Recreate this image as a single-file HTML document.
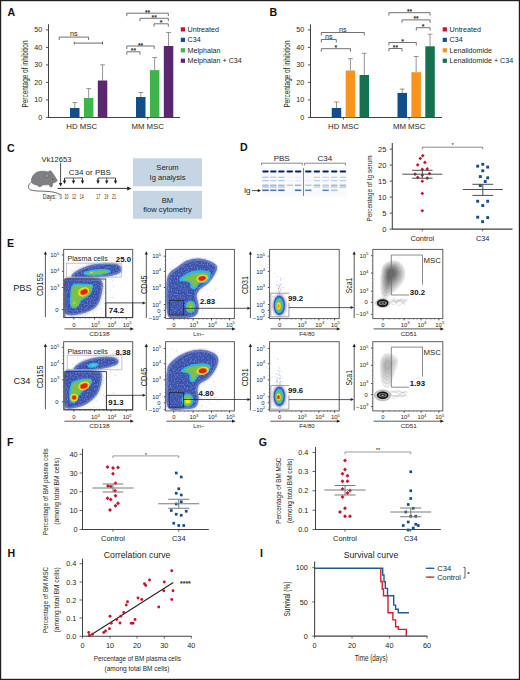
<!DOCTYPE html>
<html><head><meta charset="utf-8"><title>Figure</title>
<style>html,body{margin:0;padding:0;background:#fff;}body{width:520px;height:680px;overflow:hidden;font-family:"Liberation Sans", sans-serif;}svg{display:block;}</style>
</head><body><svg width="520" height="680" viewBox="0 0 520 680" font-family='"Liberation Sans", sans-serif'><defs><filter id="bl3" x="-20%" y="-20%" width="140%" height="140%"><feGaussianBlur stdDeviation="0.3"/></filter><filter id="bl4" x="-20%" y="-20%" width="140%" height="140%"><feGaussianBlur stdDeviation="0.4"/></filter><filter id="bl6" x="-20%" y="-20%" width="140%" height="140%"><feGaussianBlur stdDeviation="0.6"/></filter><filter id="bl9" x="-20%" y="-20%" width="140%" height="140%"><feGaussianBlur stdDeviation="0.9"/></filter><filter id="texb" x="-5%" y="-5%" width="110%" height="110%" color-interpolation-filters="sRGB"><feGaussianBlur in="SourceGraphic" stdDeviation="0.45" result="b"/><feTurbulence type="fractalNoise" baseFrequency="0.7" numOctaves="1" seed="5" result="n"/><feColorMatrix in="n" type="matrix" values="0 0 0 0 0.55  0 0 0 0 0.61  0 0 0 0 0.86  0 0 0 -2.2 1.2" result="w"/><feComposite in="w" in2="b" operator="in" result="wm"/><feMerge><feMergeNode in="b"/><feMergeNode in="wm"/></feMerge></filter><filter id="gb" x="-10%" y="-50%" width="120%" height="200%"><feGaussianBlur stdDeviation="0.4"/></filter><clipPath id="c1"><rect x="64.20" y="250.00" width="67.90" height="67.40"/></clipPath><clipPath id="c2"><rect x="64.20" y="250.00" width="67.90" height="67.40"/></clipPath><clipPath id="c3"><rect x="64.20" y="250.00" width="67.90" height="67.40"/></clipPath><clipPath id="c4"><rect x="64.20" y="342.30" width="67.90" height="67.40"/></clipPath><clipPath id="c5"><rect x="64.20" y="342.30" width="67.90" height="67.40"/></clipPath><clipPath id="c6"><rect x="64.20" y="342.30" width="67.90" height="67.40"/></clipPath><clipPath id="c7"><rect x="166.00" y="250.00" width="67.80" height="68.00"/></clipPath><clipPath id="c8"><rect x="166.00" y="250.00" width="67.80" height="68.00"/></clipPath><clipPath id="c9"><rect x="166.00" y="250.00" width="67.80" height="68.00"/></clipPath><clipPath id="c10"><rect x="166.00" y="342.30" width="67.80" height="68.00"/></clipPath><clipPath id="c11"><rect x="166.00" y="342.30" width="67.80" height="68.00"/></clipPath><clipPath id="c12"><rect x="166.00" y="342.30" width="67.80" height="68.00"/></clipPath><clipPath id="c13"><rect x="270.20" y="250.00" width="68.40" height="68.00"/></clipPath><clipPath id="c14"><rect x="270.20" y="250.00" width="68.40" height="68.00"/></clipPath><clipPath id="c15"><rect x="270.20" y="342.30" width="68.40" height="68.00"/></clipPath><clipPath id="c16"><rect x="270.20" y="342.30" width="68.40" height="68.00"/></clipPath></defs><rect x="0" y="0" width="520" height="680" fill="#fff"/><text x="7.50" y="15.89" font-size="10.6" text-anchor="start" font-weight="bold" fill="#111" >A</text><line x1="48.50" y1="24.30" x2="48.50" y2="117.90" stroke="#414143" stroke-width="1.05" /><line x1="45.90" y1="117.40" x2="48.50" y2="117.40" stroke="#414143" stroke-width="0.9" /><text x="42.20" y="119.98" font-size="7.2" text-anchor="end" fill="#231f20" >0</text><line x1="45.90" y1="99.90" x2="48.50" y2="99.90" stroke="#414143" stroke-width="0.9" /><text x="42.20" y="102.48" font-size="7.2" text-anchor="end" fill="#231f20" >10</text><line x1="45.90" y1="82.40" x2="48.50" y2="82.40" stroke="#414143" stroke-width="0.9" /><text x="42.20" y="84.98" font-size="7.2" text-anchor="end" fill="#231f20" >20</text><line x1="45.90" y1="64.90" x2="48.50" y2="64.90" stroke="#414143" stroke-width="0.9" /><text x="42.20" y="67.48" font-size="7.2" text-anchor="end" fill="#231f20" >30</text><line x1="45.90" y1="47.40" x2="48.50" y2="47.40" stroke="#414143" stroke-width="0.9" /><text x="42.20" y="49.98" font-size="7.2" text-anchor="end" fill="#231f20" >40</text><line x1="45.90" y1="29.90" x2="48.50" y2="29.90" stroke="#414143" stroke-width="0.9" /><text x="42.20" y="32.48" font-size="7.2" text-anchor="end" fill="#231f20" >50</text><text x="28.14" y="74.00" font-size="8.2" text-anchor="middle" fill="#231f20" textLength="67" lengthAdjust="spacingAndGlyphs" transform="rotate(-90 28.14 74.00)" >Percentage of inhibition</text><line x1="48.50" y1="117.40" x2="180.00" y2="117.40" stroke="#414143" stroke-width="1.05" /><line x1="81.70" y1="117.40" x2="81.70" y2="119.70" stroke="#414143" stroke-width="0.8" /><text x="81.70" y="128.79" font-size="7.8" text-anchor="middle" fill="#231f20" >HD MSC</text><line x1="74.75" y1="102.60" x2="74.75" y2="108.00" stroke="#7a7a7a" stroke-width="0.8" /><line x1="72.35" y1="102.60" x2="77.15" y2="102.60" stroke="#7a7a7a" stroke-width="0.8" /><rect x="70.00" y="108.00" width="9.50" height="9.40" fill="#124f8a" /><line x1="88.65" y1="88.60" x2="88.65" y2="98.00" stroke="#7a7a7a" stroke-width="0.8" /><line x1="86.25" y1="88.60" x2="91.05" y2="88.60" stroke="#7a7a7a" stroke-width="0.8" /><rect x="83.90" y="98.00" width="9.50" height="19.40" fill="#3db54a" /><line x1="102.55" y1="64.80" x2="102.55" y2="80.50" stroke="#7a7a7a" stroke-width="0.8" /><line x1="100.15" y1="64.80" x2="104.95" y2="64.80" stroke="#7a7a7a" stroke-width="0.8" /><rect x="97.80" y="80.50" width="9.50" height="36.90" fill="#5c2670" /><line x1="147.70" y1="117.40" x2="147.70" y2="119.70" stroke="#414143" stroke-width="0.8" /><text x="147.70" y="128.79" font-size="7.8" text-anchor="middle" fill="#231f20" >MM MSC</text><line x1="140.75" y1="92.50" x2="140.75" y2="97.00" stroke="#7a7a7a" stroke-width="0.8" /><line x1="138.35" y1="92.50" x2="143.15" y2="92.50" stroke="#7a7a7a" stroke-width="0.8" /><rect x="136.00" y="97.00" width="9.50" height="20.40" fill="#124f8a" /><line x1="154.65" y1="57.50" x2="154.65" y2="70.10" stroke="#7a7a7a" stroke-width="0.8" /><line x1="152.25" y1="57.50" x2="157.05" y2="57.50" stroke="#7a7a7a" stroke-width="0.8" /><rect x="149.90" y="70.10" width="9.50" height="47.30" fill="#3db54a" /><line x1="168.55" y1="32.50" x2="168.55" y2="46.00" stroke="#7a7a7a" stroke-width="0.8" /><line x1="166.15" y1="32.50" x2="170.95" y2="32.50" stroke="#7a7a7a" stroke-width="0.8" /><rect x="163.80" y="46.00" width="9.50" height="71.40" fill="#5c2670" /><path d="M59.20,40.00 L59.20,37.10 L88.60,37.10 L88.60,40.00" stroke="#58585a" stroke-width="0.85" fill="none" /><text x="73.90" y="36.28" font-size="7.2" text-anchor="middle" fill="#231f20" >ns</text><line x1="74.30" y1="43.10" x2="102.50" y2="43.10" stroke="#58595b" stroke-width="0.9" /><line x1="74.30" y1="41.70" x2="74.30" y2="44.50" stroke="#58595b" stroke-width="0.9" /><line x1="102.50" y1="41.70" x2="102.50" y2="44.50" stroke="#58595b" stroke-width="0.9" /><path d="M126.80,16.10 L126.80,13.20 L168.30,13.20 L168.30,16.10" stroke="#58585a" stroke-width="0.85" fill="none" /><text x="147.55" y="14.71" font-size="7.0" text-anchor="middle" font-weight="bold" fill="#231f20" textLength="5.2" lengthAdjust="spacingAndGlyphs" >**</text><path d="M140.00,21.20 L140.00,18.30 L168.30,18.30 L168.30,21.20" stroke="#58585a" stroke-width="0.85" fill="none" /><text x="154.15" y="19.81" font-size="7.0" text-anchor="middle" font-weight="bold" fill="#231f20" textLength="5.2" lengthAdjust="spacingAndGlyphs" >**</text><path d="M154.00,26.70 L154.00,23.80 L168.30,23.80 L168.30,26.70" stroke="#58585a" stroke-width="0.85" fill="none" /><text x="161.15" y="25.31" font-size="7.0" text-anchor="middle" font-weight="bold" fill="#231f20" >*</text><path d="M126.80,48.90 L126.80,46.00 L154.20,46.00 L154.20,48.90" stroke="#58585a" stroke-width="0.85" fill="none" /><text x="140.50" y="47.51" font-size="7.0" text-anchor="middle" font-weight="bold" fill="#231f20" textLength="5.2" lengthAdjust="spacingAndGlyphs" >**</text><path d="M126.80,54.70 L126.80,51.80 L140.00,51.80 L140.00,54.70" stroke="#58585a" stroke-width="0.85" fill="none" /><text x="133.40" y="53.31" font-size="7.0" text-anchor="middle" font-weight="bold" fill="#231f20" textLength="5.2" lengthAdjust="spacingAndGlyphs" >**</text><rect x="180.80" y="27.30" width="4.20" height="4.20" fill="#c8132e" /><text x="187.60" y="31.96" font-size="7.15" text-anchor="start" fill="#231f20" >Untreated</text><rect x="180.80" y="37.75" width="4.20" height="4.20" fill="#124f8a" /><text x="187.60" y="42.41" font-size="7.15" text-anchor="start" fill="#231f20" >C34</text><rect x="180.80" y="48.20" width="4.20" height="4.20" fill="#3db54a" /><text x="187.60" y="52.86" font-size="7.15" text-anchor="start" fill="#231f20" >Melphalan</text><rect x="180.80" y="58.65" width="4.20" height="4.20" fill="#5c2670" /><text x="187.60" y="63.31" font-size="7.15" text-anchor="start" fill="#231f20" >Melphalan + C34</text><text x="269.50" y="15.89" font-size="10.6" text-anchor="start" font-weight="bold" fill="#111" >B</text><line x1="310.50" y1="24.30" x2="310.50" y2="117.90" stroke="#414143" stroke-width="1.05" /><line x1="307.90" y1="117.40" x2="310.50" y2="117.40" stroke="#414143" stroke-width="0.9" /><text x="304.20" y="119.98" font-size="7.2" text-anchor="end" fill="#231f20" >0</text><line x1="307.90" y1="99.90" x2="310.50" y2="99.90" stroke="#414143" stroke-width="0.9" /><text x="304.20" y="102.48" font-size="7.2" text-anchor="end" fill="#231f20" >10</text><line x1="307.90" y1="82.40" x2="310.50" y2="82.40" stroke="#414143" stroke-width="0.9" /><text x="304.20" y="84.98" font-size="7.2" text-anchor="end" fill="#231f20" >20</text><line x1="307.90" y1="64.90" x2="310.50" y2="64.90" stroke="#414143" stroke-width="0.9" /><text x="304.20" y="67.48" font-size="7.2" text-anchor="end" fill="#231f20" >30</text><line x1="307.90" y1="47.40" x2="310.50" y2="47.40" stroke="#414143" stroke-width="0.9" /><text x="304.20" y="49.98" font-size="7.2" text-anchor="end" fill="#231f20" >40</text><line x1="307.90" y1="29.90" x2="310.50" y2="29.90" stroke="#414143" stroke-width="0.9" /><text x="304.20" y="32.48" font-size="7.2" text-anchor="end" fill="#231f20" >50</text><text x="290.14" y="74.00" font-size="8.2" text-anchor="middle" fill="#231f20" textLength="67" lengthAdjust="spacingAndGlyphs" transform="rotate(-90 290.14 74.00)" >Percentage of inhibition</text><line x1="310.50" y1="117.40" x2="442.00" y2="117.40" stroke="#414143" stroke-width="1.05" /><line x1="343.45" y1="117.40" x2="343.45" y2="119.70" stroke="#414143" stroke-width="0.8" /><text x="343.45" y="128.79" font-size="7.8" text-anchor="middle" fill="#231f20" >HD MSC</text><line x1="336.50" y1="102.00" x2="336.50" y2="108.00" stroke="#7a7a7a" stroke-width="0.8" /><line x1="334.10" y1="102.00" x2="338.90" y2="102.00" stroke="#7a7a7a" stroke-width="0.8" /><rect x="331.75" y="108.00" width="9.50" height="9.40" fill="#124f8a" /><line x1="350.40" y1="58.70" x2="350.40" y2="70.50" stroke="#7a7a7a" stroke-width="0.8" /><line x1="348.00" y1="58.70" x2="352.80" y2="58.70" stroke="#7a7a7a" stroke-width="0.8" /><rect x="345.65" y="70.50" width="9.50" height="46.90" fill="#f7941d" /><line x1="364.30" y1="53.30" x2="364.30" y2="75.00" stroke="#7a7a7a" stroke-width="0.8" /><line x1="361.90" y1="53.30" x2="366.70" y2="53.30" stroke="#7a7a7a" stroke-width="0.8" /><rect x="359.55" y="75.00" width="9.50" height="42.40" fill="#17714f" /><line x1="409.20" y1="117.40" x2="409.20" y2="119.70" stroke="#414143" stroke-width="0.8" /><text x="409.20" y="128.79" font-size="7.8" text-anchor="middle" fill="#231f20" >MM MSC</text><line x1="402.25" y1="89.10" x2="402.25" y2="92.90" stroke="#7a7a7a" stroke-width="0.8" /><line x1="399.85" y1="89.10" x2="404.65" y2="89.10" stroke="#7a7a7a" stroke-width="0.8" /><rect x="397.50" y="92.90" width="9.50" height="24.50" fill="#124f8a" /><line x1="416.15" y1="56.50" x2="416.15" y2="72.20" stroke="#7a7a7a" stroke-width="0.8" /><line x1="413.75" y1="56.50" x2="418.55" y2="56.50" stroke="#7a7a7a" stroke-width="0.8" /><rect x="411.40" y="72.20" width="9.50" height="45.20" fill="#f7941d" /><line x1="430.05" y1="34.20" x2="430.05" y2="46.30" stroke="#7a7a7a" stroke-width="0.8" /><line x1="427.65" y1="34.20" x2="432.45" y2="34.20" stroke="#7a7a7a" stroke-width="0.8" /><rect x="425.30" y="46.30" width="9.50" height="71.10" fill="#17714f" /><path d="M321.30,35.40 L321.30,32.50 L364.30,32.50 L364.30,35.40" stroke="#58585a" stroke-width="0.85" fill="none" /><text x="342.80" y="31.68" font-size="7.2" text-anchor="middle" fill="#231f20" >ns</text><path d="M321.30,42.40 L321.30,39.50 L336.30,39.50 L336.30,42.40" stroke="#58585a" stroke-width="0.85" fill="none" /><text x="328.80" y="38.68" font-size="7.2" text-anchor="middle" fill="#231f20" >ns</text><path d="M321.30,51.60 L321.30,48.70 L350.50,48.70 L350.50,51.60" stroke="#58585a" stroke-width="0.85" fill="none" /><text x="335.90" y="50.21" font-size="7.0" text-anchor="middle" font-weight="bold" fill="#231f20" >*</text><path d="M388.90,15.60 L388.90,12.70 L430.10,12.70 L430.10,15.60" stroke="#58585a" stroke-width="0.85" fill="none" /><text x="409.50" y="14.21" font-size="7.0" text-anchor="middle" font-weight="bold" fill="#231f20" textLength="5.2" lengthAdjust="spacingAndGlyphs" >**</text><path d="M402.00,22.80 L402.00,19.90 L430.10,19.90 L430.10,22.80" stroke="#58585a" stroke-width="0.85" fill="none" /><text x="416.05" y="21.41" font-size="7.0" text-anchor="middle" font-weight="bold" fill="#231f20" textLength="5.2" lengthAdjust="spacingAndGlyphs" >**</text><path d="M416.30,30.60 L416.30,27.70 L430.10,27.70 L430.10,30.60" stroke="#58585a" stroke-width="0.85" fill="none" /><text x="423.20" y="29.21" font-size="7.0" text-anchor="middle" font-weight="bold" fill="#231f20" >*</text><path d="M388.90,45.40 L388.90,42.50 L416.30,42.50 L416.30,45.40" stroke="#58585a" stroke-width="0.85" fill="none" /><text x="402.60" y="44.01" font-size="7.0" text-anchor="middle" font-weight="bold" fill="#231f20" >*</text><path d="M388.90,51.40 L388.90,48.50 L402.00,48.50 L402.00,51.40" stroke="#58585a" stroke-width="0.85" fill="none" /><text x="395.45" y="50.01" font-size="7.0" text-anchor="middle" font-weight="bold" fill="#231f20" textLength="5.2" lengthAdjust="spacingAndGlyphs" >**</text><rect x="442.70" y="27.30" width="4.20" height="4.20" fill="#c8132e" /><text x="449.50" y="31.96" font-size="7.15" text-anchor="start" fill="#231f20" >Untreated</text><rect x="442.70" y="37.75" width="4.20" height="4.20" fill="#124f8a" /><text x="449.50" y="42.41" font-size="7.15" text-anchor="start" fill="#231f20" >C34</text><rect x="442.70" y="48.20" width="4.20" height="4.20" fill="#f7941d" /><text x="449.50" y="52.86" font-size="7.15" text-anchor="start" fill="#231f20" >Lenalidomide</text><rect x="442.70" y="58.65" width="4.20" height="4.20" fill="#17714f" /><text x="449.50" y="63.31" font-size="7.15" text-anchor="start" fill="#231f20" >Lenalidomide + C34</text><text x="7.00" y="151.69" font-size="10.6" text-anchor="start" font-weight="bold" fill="#111" >C</text><text x="41.40" y="161.82" font-size="7.6" text-anchor="start" fill="#231f20" >Vk12653</text><g><path d="M31.4,182.4 C28.2,183.8 27.6,187.6 29.6,189.3 C32.6,191.2 39.5,191.0 46,191.3 C52,191.6 56.5,192.4 60.2,194.6" stroke="#4d4d4f" stroke-width="0.85" fill="none"/><path d="M31.7,182.6 C30.4,178 34,172.4 39.4,171.5 C43,170.8 46,171.2 48.4,172.0 C48.8,170.9 50.4,170.4 51.4,171.4 C53.2,173.6 55.6,177.4 57.2,180.4 C56.6,181.5 55.6,182.2 54.6,182.6 L53.2,182.5 C52.6,183.6 52.6,186.2 51.4,187.2 C50.2,187.4 49.6,185.8 49.0,184.6 C46.5,184.9 44.5,185.0 42.6,185.0 C41.8,186.0 40.6,186.9 39.0,186.6 C38.2,186.2 37.8,185.6 37.6,185.2 C35.2,184.9 32.6,184.2 31.7,182.6 Z" fill="#7f8083" stroke="#4a4a4c" stroke-width="0.45"/><circle cx="47.0" cy="175.7" r="1.9" fill="#97989b" stroke="#4a4a4c" stroke-width="0.4"/><circle cx="52.8" cy="179.0" r="0.55" fill="#222"/></g><line x1="60.60" y1="162.80" x2="60.60" y2="184.00" stroke="#231f20" stroke-width="0.8" /><path d="M58.8,182.9 L62.4,182.9 L60.6,186.6 Z" stroke="none" stroke-width="0" fill="#231f20" /><line x1="57.50" y1="188.40" x2="128.50" y2="188.40" stroke="#231f20" stroke-width="0.9" /><path d="M127.2,186.4 L131.4,188.4 L127.2,190.4 Z" stroke="none" stroke-width="0" fill="#231f20" /><text x="68.80" y="175.36" font-size="8.0" text-anchor="start" fill="#231f20" textLength="42" lengthAdjust="spacingAndGlyphs" >C34 or PBS</text><path d="M64.5,181 L64.5,178 L82.5,178 L82.5,181" stroke="#231f20" stroke-width="0.7" fill="none" /><line x1="64.50" y1="178.00" x2="64.50" y2="181.50" stroke="#231f20" stroke-width="0.7" /><path d="M62.8,180.6 L66.2,180.6 L64.5,184.0 Z" stroke="none" stroke-width="0" fill="#231f20" /><line x1="73.50" y1="178.00" x2="73.50" y2="181.50" stroke="#231f20" stroke-width="0.7" /><path d="M71.8,180.6 L75.2,180.6 L73.5,184.0 Z" stroke="none" stroke-width="0" fill="#231f20" /><line x1="82.50" y1="178.00" x2="82.50" y2="181.50" stroke="#231f20" stroke-width="0.7" /><path d="M80.8,180.6 L84.2,180.6 L82.5,184.0 Z" stroke="none" stroke-width="0" fill="#231f20" /><path d="M98,181 L98,178 L115.5,178 L115.5,181" stroke="#231f20" stroke-width="0.7" fill="none" /><line x1="98.00" y1="178.00" x2="98.00" y2="181.50" stroke="#231f20" stroke-width="0.7" /><path d="M96.3,180.6 L99.7,180.6 L98,184.0 Z" stroke="none" stroke-width="0" fill="#231f20" /><line x1="106.75" y1="178.00" x2="106.75" y2="181.50" stroke="#231f20" stroke-width="0.7" /><path d="M105.05,180.6 L108.45,180.6 L106.75,184.0 Z" stroke="none" stroke-width="0" fill="#231f20" /><line x1="115.50" y1="178.00" x2="115.50" y2="181.50" stroke="#231f20" stroke-width="0.7" /><path d="M113.8,180.6 L117.2,180.6 L115.5,184.0 Z" stroke="none" stroke-width="0" fill="#231f20" /><text x="42.80" y="199.21" font-size="7.0" text-anchor="start" fill="#231f20" textLength="13.6" lengthAdjust="spacingAndGlyphs" >Days:</text><text x="60.70" y="199.21" font-size="7.0" text-anchor="middle" fill="#231f20" textLength="2.4" lengthAdjust="spacingAndGlyphs" >0</text><text x="66.50" y="199.21" font-size="7.0" text-anchor="middle" fill="#231f20" textLength="4.0" lengthAdjust="spacingAndGlyphs" >10</text><text x="74.10" y="199.21" font-size="7.0" text-anchor="middle" fill="#231f20" textLength="4.0" lengthAdjust="spacingAndGlyphs" >12</text><text x="81.70" y="199.21" font-size="7.0" text-anchor="middle" fill="#231f20" textLength="4.0" lengthAdjust="spacingAndGlyphs" >14</text><text x="98.30" y="199.21" font-size="7.0" text-anchor="middle" fill="#231f20" textLength="4.0" lengthAdjust="spacingAndGlyphs" >17</text><text x="106.30" y="199.21" font-size="7.0" text-anchor="middle" fill="#231f20" textLength="4.0" lengthAdjust="spacingAndGlyphs" >19</text><text x="114.10" y="199.21" font-size="7.0" text-anchor="middle" fill="#231f20" textLength="4.0" lengthAdjust="spacingAndGlyphs" >21</text><rect x="133.00" y="158.30" width="69.00" height="28.00" fill="#c5d5e4" /><rect x="133.00" y="190.80" width="69.00" height="28.00" fill="#c5d5e4" /><text x="167.50" y="170.32" font-size="7.6" text-anchor="middle" fill="#231f20" >Serum</text><text x="167.50" y="179.92" font-size="7.6" text-anchor="middle" fill="#231f20" >Ig analysis</text><text x="167.50" y="202.92" font-size="7.6" text-anchor="middle" fill="#231f20" >BM</text><text x="167.50" y="212.32" font-size="7.6" text-anchor="middle" fill="#231f20" >flow cytometry</text><text x="240.00" y="151.39" font-size="10.6" text-anchor="start" font-weight="bold" fill="#111" >D</text><text x="281.70" y="160.66" font-size="8.0" text-anchor="middle" fill="#231f20" >PBS</text><text x="324.90" y="160.66" font-size="8.0" text-anchor="middle" fill="#231f20" >C34</text><path d="M261.5,165.3 L261.5,163.2 L302.3,163.2 L302.3,165.3" stroke="#58595b" stroke-width="0.7" fill="none" /><path d="M304.5,165.3 L304.5,163.2 L345.5,163.2 L345.5,165.3" stroke="#58595b" stroke-width="0.7" fill="none" /><rect x="261.00" y="167.50" width="86.00" height="29.00" fill="#f9fafc" /><g filter="url(#gb)"><rect x="262.30" y="170.4" width="6.4" height="2.0" rx="0.8" fill="#0c2461"/><rect x="262.30" y="176.70" width="6.4" height="1.2" fill="#b0c4e0"/><rect x="262.30" y="180.00" width="6.4" height="1.2" fill="#b0c4e0"/><rect x="262.30" y="184.60" width="6.4" height="1.3" fill="#9ab2d6"/><rect x="262.30" y="186.40" width="6.4" height="1.2" fill="#a5bbdb"/><rect x="262.30" y="189.50" width="6.4" height="1.6" fill="#406eb2"/><rect x="270.10" y="170.4" width="6.4" height="2.0" rx="0.8" fill="#0c2461"/><rect x="270.10" y="176.70" width="6.4" height="1.2" fill="#bccce4"/><rect x="270.10" y="180.00" width="6.4" height="1.2" fill="#bccce4"/><rect x="270.10" y="184.60" width="6.4" height="1.3" fill="#9ab2d6"/><rect x="270.10" y="186.40" width="6.4" height="1.2" fill="#a5bbdb"/><rect x="270.10" y="189.50" width="6.4" height="1.6" fill="#5680bc"/><rect x="278.20" y="170.4" width="6.4" height="2.0" rx="0.8" fill="#0c2461"/><rect x="278.20" y="176.70" width="6.4" height="1.2" fill="#b0c4e0"/><rect x="278.20" y="180.00" width="6.4" height="1.2" fill="#b0c4e0"/><rect x="278.20" y="184.60" width="6.4" height="1.3" fill="#9ab2d6"/><rect x="278.20" y="186.40" width="6.4" height="1.2" fill="#a5bbdb"/><rect x="278.20" y="189.50" width="6.4" height="1.6" fill="#406eb2"/><rect x="286.60" y="170.4" width="6.4" height="2.0" rx="0.8" fill="#0c2461"/><rect x="286.60" y="176.70" width="6.4" height="1.2" fill="#edf1f8"/><rect x="286.60" y="180.00" width="6.4" height="1.2" fill="#edf1f8"/><rect x="286.60" y="184.60" width="6.4" height="1.3" fill="#b0c4e0"/><rect x="294.90" y="170.4" width="6.4" height="2.0" rx="0.8" fill="#0c2461"/><rect x="294.90" y="176.70" width="6.4" height="1.2" fill="#e4ebf4"/><rect x="294.90" y="180.00" width="6.4" height="1.2" fill="#e4ebf4"/><rect x="294.90" y="184.60" width="6.4" height="1.3" fill="#8eaad2"/><rect x="294.90" y="189.50" width="6.4" height="1.6" fill="#406eb2"/><rect x="305.10" y="170.4" width="6.4" height="2.0" rx="0.8" fill="#0c2461"/><rect x="305.10" y="176.70" width="6.4" height="1.2" fill="#f2f5fa"/><rect x="305.10" y="180.00" width="6.4" height="1.2" fill="#e8eef6"/><rect x="305.10" y="184.60" width="6.4" height="1.3" fill="#b0c4e0"/><rect x="305.10" y="189.50" width="6.4" height="1.6" fill="#6288c0"/><rect x="313.70" y="170.4" width="6.4" height="2.0" rx="0.8" fill="#0c2461"/><rect x="313.70" y="176.70" width="6.4" height="1.2" fill="#bccce4"/><rect x="313.70" y="180.00" width="6.4" height="1.2" fill="#bccce4"/><rect x="313.70" y="184.60" width="6.4" height="1.3" fill="#9ab2d6"/><rect x="313.70" y="186.40" width="6.4" height="1.2" fill="#bccce4"/><rect x="322.40" y="170.4" width="6.4" height="2.0" rx="0.8" fill="#0c2461"/><rect x="322.40" y="176.70" width="6.4" height="1.2" fill="#c7d4e8"/><rect x="322.40" y="180.00" width="6.4" height="1.2" fill="#c7d4e8"/><rect x="322.40" y="184.60" width="6.4" height="1.3" fill="#b0c4e0"/><rect x="322.40" y="186.40" width="6.4" height="1.2" fill="#bccce4"/><rect x="322.40" y="189.50" width="6.4" height="1.6" fill="#6288c0"/><rect x="331.00" y="170.4" width="6.4" height="2.0" rx="0.8" fill="#0c2461"/><rect x="331.00" y="176.70" width="6.4" height="1.2" fill="#bccce4"/><rect x="331.00" y="180.00" width="6.4" height="1.2" fill="#bccce4"/><rect x="331.00" y="184.60" width="6.4" height="1.3" fill="#9ab2d6"/><rect x="331.00" y="186.40" width="6.4" height="1.2" fill="#b0c4e0"/><rect x="331.00" y="189.50" width="6.4" height="1.6" fill="#b0c4e0"/><rect x="339.70" y="170.4" width="6.4" height="2.0" rx="0.8" fill="#0c2461"/><rect x="339.70" y="176.70" width="6.4" height="1.2" fill="#bccce4"/><rect x="339.70" y="180.00" width="6.4" height="1.2" fill="#bccce4"/><rect x="339.70" y="184.60" width="6.4" height="1.3" fill="#9ab2d6"/><rect x="339.70" y="186.40" width="6.4" height="1.2" fill="#a5bbdb"/></g><line x1="303.50" y1="168.00" x2="303.50" y2="196.00" stroke="#555" stroke-width="0.7" /><text x="243.90" y="193.06" font-size="8.0" text-anchor="start" fill="#231f20" >Ig</text><line x1="252.00" y1="190.60" x2="258.50" y2="190.60" stroke="#231f20" stroke-width="0.8" /><path d="M257.8,189.0 L261.0,190.6 L257.8,192.2 Z" stroke="none" stroke-width="0" fill="#231f20" /><line x1="392.30" y1="143.00" x2="392.30" y2="229.60" stroke="#414143" stroke-width="1.05" /><line x1="392.30" y1="229.10" x2="512.50" y2="229.10" stroke="#414143" stroke-width="1.05" /><line x1="389.70" y1="229.10" x2="392.30" y2="229.10" stroke="#414143" stroke-width="0.9" /><text x="386.40" y="231.78" font-size="7.5" text-anchor="end" fill="#231f20" >0</text><line x1="389.70" y1="213.10" x2="392.30" y2="213.10" stroke="#414143" stroke-width="0.9" /><text x="386.40" y="215.78" font-size="7.5" text-anchor="end" fill="#231f20" >5</text><line x1="389.70" y1="197.10" x2="392.30" y2="197.10" stroke="#414143" stroke-width="0.9" /><text x="386.40" y="199.78" font-size="7.5" text-anchor="end" fill="#231f20" >10</text><line x1="389.70" y1="181.10" x2="392.30" y2="181.10" stroke="#414143" stroke-width="0.9" /><text x="386.40" y="183.78" font-size="7.5" text-anchor="end" fill="#231f20" >15</text><line x1="389.70" y1="165.10" x2="392.30" y2="165.10" stroke="#414143" stroke-width="0.9" /><text x="386.40" y="167.78" font-size="7.5" text-anchor="end" fill="#231f20" >20</text><line x1="389.70" y1="149.10" x2="392.30" y2="149.10" stroke="#414143" stroke-width="0.9" /><text x="386.40" y="151.78" font-size="7.5" text-anchor="end" fill="#231f20" >25</text><text x="371.69" y="188.50" font-size="7.8" text-anchor="middle" fill="#231f20" textLength="66.2" lengthAdjust="spacingAndGlyphs" transform="rotate(-90 371.69 188.50)" >Percentage of Ig serum</text><line x1="422.30" y1="229.10" x2="422.30" y2="231.30" stroke="#414143" stroke-width="0.8" /><text x="422.30" y="241.35" font-size="7.4" text-anchor="middle" fill="#231f20" >Control</text><line x1="482.70" y1="229.10" x2="482.70" y2="231.30" stroke="#414143" stroke-width="0.8" /><text x="482.70" y="241.35" font-size="7.4" text-anchor="middle" fill="#231f20" >C34</text><path d="M422.3,149.4 L422.3,147.2 L482.8,147.2 L482.8,149.4" stroke="#58595b" stroke-width="0.7" fill="none" /><text x="452.60" y="147.15" font-size="6.0" text-anchor="middle" fill="#231f20" >*</text><path d="M422.77,153.84 L424.62,155.69 L422.77,157.54 L420.92,155.69 Z" fill="#c8132e"/><path d="M420.31,156.61 L422.16,158.46 L420.31,160.31 L418.46,158.46 Z" fill="#c8132e"/><path d="M424.92,160.61 L426.77,162.46 L424.92,164.31 L423.07,162.46 Z" fill="#c8132e"/><path d="M417.69,163.07 L419.54,164.92 L417.69,166.77 L415.84,164.92 Z" fill="#c8132e"/><path d="M422.31,167.38 L424.16,169.23 L422.31,171.08 L420.46,169.23 Z" fill="#c8132e"/><path d="M427.23,167.07 L429.08,168.92 L427.23,170.77 L425.38,168.92 Z" fill="#c8132e"/><path d="M415.08,172.30 L416.93,174.15 L415.08,176.00 L413.23,174.15 Z" fill="#c8132e"/><path d="M429.54,171.69 L431.39,173.54 L429.54,175.39 L427.69,173.54 Z" fill="#c8132e"/><path d="M422.31,173.23 L424.16,175.08 L422.31,176.93 L420.46,175.08 Z" fill="#c8132e"/><path d="M417.69,175.53 L419.54,177.38 L417.69,179.23 L415.84,177.38 Z" fill="#c8132e"/><path d="M427.23,176.30 L429.08,178.15 L427.23,180.00 L425.38,178.15 Z" fill="#c8132e"/><path d="M422.31,179.38 L424.16,181.23 L422.31,183.08 L420.46,181.23 Z" fill="#c8132e"/><path d="M422.31,191.53 L424.16,193.38 L422.31,195.23 L420.46,193.38 Z" fill="#c8132e"/><path d="M422.31,208.92 L424.16,210.77 L422.31,212.62 L420.46,210.77 Z" fill="#c8132e"/><rect x="476.24" y="164.70" width="2.9" height="2.9" fill="#124f8a"/><rect x="481.32" y="162.86" width="2.9" height="2.9" fill="#124f8a"/><rect x="486.24" y="165.63" width="2.9" height="2.9" fill="#124f8a"/><rect x="481.32" y="169.32" width="2.9" height="2.9" fill="#124f8a"/><rect x="478.86" y="175.17" width="2.9" height="2.9" fill="#124f8a"/><rect x="486.24" y="176.40" width="2.9" height="2.9" fill="#124f8a"/><rect x="483.78" y="180.09" width="2.9" height="2.9" fill="#124f8a"/><rect x="478.86" y="184.09" width="2.9" height="2.9" fill="#124f8a"/><rect x="476.24" y="199.78" width="2.9" height="2.9" fill="#124f8a"/><rect x="486.24" y="199.78" width="2.9" height="2.9" fill="#124f8a"/><rect x="481.32" y="204.09" width="2.9" height="2.9" fill="#124f8a"/><rect x="476.25" y="215.75" width="2.9" height="2.9" fill="#124f8a"/><rect x="486.25" y="216.15" width="2.9" height="2.9" fill="#124f8a"/><rect x="481.15" y="220.25" width="2.9" height="2.9" fill="#124f8a"/><line x1="402.30" y1="174.20" x2="442.30" y2="174.20" stroke="#4d4d4f" stroke-width="1.0" /><line x1="412.05" y1="170.30" x2="432.55" y2="170.30" stroke="#4d4d4f" stroke-width="1.0" /><line x1="412.05" y1="178.20" x2="432.55" y2="178.20" stroke="#4d4d4f" stroke-width="1.0" /><line x1="422.30" y1="170.30" x2="422.30" y2="178.20" stroke="#4d4d4f" stroke-width="1.0" /><line x1="462.80" y1="189.50" x2="502.80" y2="189.50" stroke="#4d4d4f" stroke-width="1.0" /><line x1="472.40" y1="184.30" x2="493.20" y2="184.30" stroke="#4d4d4f" stroke-width="1.0" /><line x1="472.40" y1="195.40" x2="493.20" y2="195.40" stroke="#4d4d4f" stroke-width="1.0" /><line x1="482.80" y1="184.30" x2="482.80" y2="195.40" stroke="#4d4d4f" stroke-width="1.0" /><text x="7.00" y="246.69" font-size="10.6" text-anchor="start" font-weight="bold" fill="#111" >E</text><text x="13.20" y="291.29" font-size="9.2" text-anchor="start" fill="#231f20" >PBS</text><text x="13.60" y="383.79" font-size="9.2" text-anchor="start" fill="#231f20" >C34</text><text x="43.14" y="284.60" font-size="8.2" text-anchor="middle" fill="#231f20" textLength="22.8" lengthAdjust="spacingAndGlyphs" transform="rotate(-90 43.14 284.60)" >CD155</text><line x1="45.40" y1="317.10" x2="45.40" y2="253.90" stroke="#231f20" stroke-width="0.75" /><path d="M43.80,254.60 L45.40,251.20 L47.00,254.60 Z" fill="#231f20"/><text x="59.25" y="257.11" font-size="5.9" text-anchor="end" fill="#231f20">10<tspan font-size="4.25" dy="-2.48">5</tspan></text><line x1="61.85" y1="255.00" x2="63.65" y2="255.00" stroke="#222" stroke-width="0.8" /><text x="59.25" y="273.41" font-size="5.9" text-anchor="end" fill="#231f20">10<tspan font-size="4.25" dy="-2.48">4</tspan></text><line x1="61.85" y1="271.30" x2="63.65" y2="271.30" stroke="#222" stroke-width="0.8" /><text x="59.25" y="289.61" font-size="5.9" text-anchor="end" fill="#231f20">10<tspan font-size="4.25" dy="-2.48">3</tspan></text><line x1="61.85" y1="287.50" x2="63.65" y2="287.50" stroke="#222" stroke-width="0.8" /><text x="58.65" y="311.61" font-size="5.9" text-anchor="end" fill="#231f20">0</text><line x1="61.85" y1="309.50" x2="63.65" y2="309.50" stroke="#222" stroke-width="0.8" /><line x1="62.65" y1="259.89" x2="63.65" y2="259.89" stroke="#444" stroke-width="0.5" /><line x1="62.65" y1="263.97" x2="63.65" y2="263.97" stroke="#444" stroke-width="0.5" /><line x1="62.65" y1="267.23" x2="63.65" y2="267.23" stroke="#444" stroke-width="0.5" /><line x1="62.65" y1="276.16" x2="63.65" y2="276.16" stroke="#444" stroke-width="0.5" /><line x1="62.65" y1="280.21" x2="63.65" y2="280.21" stroke="#444" stroke-width="0.5" /><line x1="62.65" y1="283.45" x2="63.65" y2="283.45" stroke="#444" stroke-width="0.5" /><line x1="62.65" y1="294.10" x2="63.65" y2="294.10" stroke="#444" stroke-width="0.5" /><line x1="62.65" y1="299.60" x2="63.65" y2="299.60" stroke="#444" stroke-width="0.5" /><line x1="62.65" y1="304.00" x2="63.65" y2="304.00" stroke="#444" stroke-width="0.5" /><rect x="63.65" y="249.40" width="69.05" height="68.20" fill="none" stroke="#555" stroke-width="0.95"/><text x="73.80" y="326.71" font-size="5.9" text-anchor="middle" fill="#231f20">0</text><line x1="73.80" y1="317.60" x2="73.80" y2="319.40" stroke="#222" stroke-width="0.8" /><text x="95.50" y="326.71" font-size="5.9" text-anchor="middle" fill="#231f20">10<tspan font-size="4.25" dy="-2.48">3</tspan></text><line x1="94.60" y1="317.60" x2="94.60" y2="319.40" stroke="#222" stroke-width="0.8" /><text x="111.90" y="326.71" font-size="5.9" text-anchor="middle" fill="#231f20">10<tspan font-size="4.25" dy="-2.48">4</tspan></text><line x1="111.00" y1="317.60" x2="111.00" y2="319.40" stroke="#222" stroke-width="0.8" /><text x="127.20" y="326.71" font-size="5.9" text-anchor="middle" fill="#231f20">10<tspan font-size="4.25" dy="-2.48">5</tspan></text><line x1="126.30" y1="317.60" x2="126.30" y2="319.40" stroke="#222" stroke-width="0.8" /><line x1="80.04" y1="317.60" x2="80.04" y2="318.60" stroke="#444" stroke-width="0.5" /><line x1="85.24" y1="317.60" x2="85.24" y2="318.60" stroke="#444" stroke-width="0.5" /><line x1="89.40" y1="317.60" x2="89.40" y2="318.60" stroke="#444" stroke-width="0.5" /><line x1="99.52" y1="317.60" x2="99.52" y2="318.60" stroke="#444" stroke-width="0.5" /><line x1="103.62" y1="317.60" x2="103.62" y2="318.60" stroke="#444" stroke-width="0.5" /><line x1="106.90" y1="317.60" x2="106.90" y2="318.60" stroke="#444" stroke-width="0.5" /><line x1="115.59" y1="317.60" x2="115.59" y2="318.60" stroke="#444" stroke-width="0.5" /><line x1="119.41" y1="317.60" x2="119.41" y2="318.60" stroke="#444" stroke-width="0.5" /><line x1="122.47" y1="317.60" x2="122.47" y2="318.60" stroke="#444" stroke-width="0.5" /><line x1="64.45" y1="328.90" x2="131.20" y2="328.90" stroke="#231f20" stroke-width="0.75" /><path d="M130.30,327.30 L133.90,328.90 L130.30,330.50 Z" fill="#231f20"/><text x="99.40" y="335.85" font-size="6.0" text-anchor="middle" fill="#231f20" textLength="20.3" lengthAdjust="spacingAndGlyphs" >CD138</text><text x="146.74" y="284.70" font-size="8.2" text-anchor="middle" fill="#231f20" textLength="18.6" lengthAdjust="spacingAndGlyphs" transform="rotate(-90 146.74 284.70)" >CD45</text><line x1="146.30" y1="318.10" x2="146.30" y2="253.90" stroke="#231f20" stroke-width="0.75" /><path d="M144.70,254.60 L146.30,251.20 L147.90,254.60 Z" fill="#231f20"/><text x="161.20" y="258.31" font-size="5.9" text-anchor="end" fill="#231f20">10<tspan font-size="4.25" dy="-2.48">5</tspan></text><line x1="163.80" y1="256.20" x2="165.60" y2="256.20" stroke="#222" stroke-width="0.8" /><text x="161.20" y="273.51" font-size="5.9" text-anchor="end" fill="#231f20">10<tspan font-size="4.25" dy="-2.48">4</tspan></text><line x1="163.80" y1="271.40" x2="165.60" y2="271.40" stroke="#222" stroke-width="0.8" /><text x="161.20" y="289.61" font-size="5.9" text-anchor="end" fill="#231f20">10<tspan font-size="4.25" dy="-2.48">3</tspan></text><line x1="163.80" y1="287.50" x2="165.60" y2="287.50" stroke="#222" stroke-width="0.8" /><text x="161.20" y="306.61" font-size="5.9" text-anchor="end" fill="#231f20">10<tspan font-size="4.25" dy="-2.48">2</tspan></text><line x1="163.80" y1="304.50" x2="165.60" y2="304.50" stroke="#222" stroke-width="0.8" /><text x="160.60" y="312.61" font-size="5.9" text-anchor="end" fill="#231f20">0</text><line x1="163.80" y1="310.50" x2="165.60" y2="310.50" stroke="#222" stroke-width="0.8" /><text x="161.20" y="319.51" font-size="5.9" text-anchor="end" fill="#231f20">−10<tspan font-size="4.25" dy="-2.48">2</tspan></text><line x1="163.80" y1="317.40" x2="165.60" y2="317.40" stroke="#222" stroke-width="0.8" /><line x1="164.60" y1="260.76" x2="165.60" y2="260.76" stroke="#444" stroke-width="0.5" /><line x1="164.60" y1="264.56" x2="165.60" y2="264.56" stroke="#444" stroke-width="0.5" /><line x1="164.60" y1="267.60" x2="165.60" y2="267.60" stroke="#444" stroke-width="0.5" /><line x1="164.60" y1="276.23" x2="165.60" y2="276.23" stroke="#444" stroke-width="0.5" /><line x1="164.60" y1="280.25" x2="165.60" y2="280.25" stroke="#444" stroke-width="0.5" /><line x1="164.60" y1="283.48" x2="165.60" y2="283.48" stroke="#444" stroke-width="0.5" /><line x1="164.60" y1="292.60" x2="165.60" y2="292.60" stroke="#444" stroke-width="0.5" /><line x1="164.60" y1="296.85" x2="165.60" y2="296.85" stroke="#444" stroke-width="0.5" /><line x1="164.60" y1="300.25" x2="165.60" y2="300.25" stroke="#444" stroke-width="0.5" /><line x1="164.60" y1="306.30" x2="165.60" y2="306.30" stroke="#444" stroke-width="0.5" /><line x1="164.60" y1="307.80" x2="165.60" y2="307.80" stroke="#444" stroke-width="0.5" /><line x1="164.60" y1="309.00" x2="165.60" y2="309.00" stroke="#444" stroke-width="0.5" /><line x1="164.60" y1="312.57" x2="165.60" y2="312.57" stroke="#444" stroke-width="0.5" /><line x1="164.60" y1="314.30" x2="165.60" y2="314.30" stroke="#444" stroke-width="0.5" /><line x1="164.60" y1="315.67" x2="165.60" y2="315.67" stroke="#444" stroke-width="0.5" /><rect x="165.60" y="249.40" width="68.80" height="69.20" fill="none" stroke="#555" stroke-width="0.95"/><text x="173.80" y="326.71" font-size="5.9" text-anchor="middle" fill="#231f20">0</text><line x1="173.80" y1="318.60" x2="173.80" y2="320.40" stroke="#222" stroke-width="0.8" /><text x="194.00" y="326.71" font-size="5.9" text-anchor="middle" fill="#231f20">10<tspan font-size="4.25" dy="-2.48">3</tspan></text><line x1="193.10" y1="318.60" x2="193.10" y2="320.40" stroke="#222" stroke-width="0.8" /><text x="212.40" y="326.71" font-size="5.9" text-anchor="middle" fill="#231f20">10<tspan font-size="4.25" dy="-2.48">4</tspan></text><line x1="211.50" y1="318.60" x2="211.50" y2="320.40" stroke="#222" stroke-width="0.8" /><text x="230.40" y="326.71" font-size="5.9" text-anchor="middle" fill="#231f20">10<tspan font-size="4.25" dy="-2.48">5</tspan></text><line x1="229.50" y1="318.60" x2="229.50" y2="320.40" stroke="#222" stroke-width="0.8" /><line x1="179.59" y1="318.60" x2="179.59" y2="319.60" stroke="#444" stroke-width="0.5" /><line x1="184.41" y1="318.60" x2="184.41" y2="319.60" stroke="#444" stroke-width="0.5" /><line x1="188.28" y1="318.60" x2="188.28" y2="319.60" stroke="#444" stroke-width="0.5" /><line x1="198.62" y1="318.60" x2="198.62" y2="319.60" stroke="#444" stroke-width="0.5" /><line x1="203.22" y1="318.60" x2="203.22" y2="319.60" stroke="#444" stroke-width="0.5" /><line x1="206.90" y1="318.60" x2="206.90" y2="319.60" stroke="#444" stroke-width="0.5" /><line x1="216.90" y1="318.60" x2="216.90" y2="319.60" stroke="#444" stroke-width="0.5" /><line x1="221.40" y1="318.60" x2="221.40" y2="319.60" stroke="#444" stroke-width="0.5" /><line x1="225.00" y1="318.60" x2="225.00" y2="319.60" stroke="#444" stroke-width="0.5" /><line x1="166.40" y1="328.90" x2="232.90" y2="328.90" stroke="#231f20" stroke-width="0.75" /><path d="M232.00,327.30 L235.60,328.90 L232.00,330.50 Z" fill="#231f20"/><text x="198.80" y="335.85" font-size="6.0" text-anchor="middle" fill="#231f20" textLength="11" lengthAdjust="spacingAndGlyphs" >Lin−</text><text x="248.24" y="285.10" font-size="8.2" text-anchor="middle" fill="#231f20" textLength="17.9" lengthAdjust="spacingAndGlyphs" transform="rotate(-90 248.24 285.10)" >CD31</text><line x1="250.40" y1="318.10" x2="250.40" y2="253.90" stroke="#231f20" stroke-width="0.75" /><path d="M248.80,254.60 L250.40,251.20 L252.00,254.60 Z" fill="#231f20"/><text x="265.20" y="258.31" font-size="5.9" text-anchor="end" fill="#231f20">10<tspan font-size="4.25" dy="-2.48">5</tspan></text><line x1="267.80" y1="256.20" x2="269.60" y2="256.20" stroke="#222" stroke-width="0.8" /><text x="265.20" y="273.51" font-size="5.9" text-anchor="end" fill="#231f20">10<tspan font-size="4.25" dy="-2.48">4</tspan></text><line x1="267.80" y1="271.40" x2="269.60" y2="271.40" stroke="#222" stroke-width="0.8" /><text x="265.20" y="289.61" font-size="5.9" text-anchor="end" fill="#231f20">10<tspan font-size="4.25" dy="-2.48">3</tspan></text><line x1="267.80" y1="287.50" x2="269.60" y2="287.50" stroke="#222" stroke-width="0.8" /><text x="265.20" y="306.61" font-size="5.9" text-anchor="end" fill="#231f20">10<tspan font-size="4.25" dy="-2.48">2</tspan></text><line x1="267.80" y1="304.50" x2="269.60" y2="304.50" stroke="#222" stroke-width="0.8" /><text x="264.60" y="312.61" font-size="5.9" text-anchor="end" fill="#231f20">0</text><line x1="267.80" y1="310.50" x2="269.60" y2="310.50" stroke="#222" stroke-width="0.8" /><text x="265.20" y="319.51" font-size="5.9" text-anchor="end" fill="#231f20">−10<tspan font-size="4.25" dy="-2.48">2</tspan></text><line x1="267.80" y1="317.40" x2="269.60" y2="317.40" stroke="#222" stroke-width="0.8" /><line x1="268.60" y1="260.76" x2="269.60" y2="260.76" stroke="#444" stroke-width="0.5" /><line x1="268.60" y1="264.56" x2="269.60" y2="264.56" stroke="#444" stroke-width="0.5" /><line x1="268.60" y1="267.60" x2="269.60" y2="267.60" stroke="#444" stroke-width="0.5" /><line x1="268.60" y1="276.23" x2="269.60" y2="276.23" stroke="#444" stroke-width="0.5" /><line x1="268.60" y1="280.25" x2="269.60" y2="280.25" stroke="#444" stroke-width="0.5" /><line x1="268.60" y1="283.48" x2="269.60" y2="283.48" stroke="#444" stroke-width="0.5" /><line x1="268.60" y1="292.60" x2="269.60" y2="292.60" stroke="#444" stroke-width="0.5" /><line x1="268.60" y1="296.85" x2="269.60" y2="296.85" stroke="#444" stroke-width="0.5" /><line x1="268.60" y1="300.25" x2="269.60" y2="300.25" stroke="#444" stroke-width="0.5" /><line x1="268.60" y1="306.30" x2="269.60" y2="306.30" stroke="#444" stroke-width="0.5" /><line x1="268.60" y1="307.80" x2="269.60" y2="307.80" stroke="#444" stroke-width="0.5" /><line x1="268.60" y1="309.00" x2="269.60" y2="309.00" stroke="#444" stroke-width="0.5" /><line x1="268.60" y1="312.57" x2="269.60" y2="312.57" stroke="#444" stroke-width="0.5" /><line x1="268.60" y1="314.30" x2="269.60" y2="314.30" stroke="#444" stroke-width="0.5" /><line x1="268.60" y1="315.67" x2="269.60" y2="315.67" stroke="#444" stroke-width="0.5" /><rect x="269.60" y="249.40" width="69.60" height="69.20" fill="none" stroke="#555" stroke-width="0.95"/><text x="279.70" y="326.71" font-size="5.9" text-anchor="middle" fill="#231f20">0</text><line x1="279.70" y1="318.60" x2="279.70" y2="320.40" stroke="#222" stroke-width="0.8" /><text x="302.10" y="326.71" font-size="5.9" text-anchor="middle" fill="#231f20">10<tspan font-size="4.25" dy="-2.48">3</tspan></text><line x1="301.20" y1="318.60" x2="301.20" y2="320.40" stroke="#222" stroke-width="0.8" /><text x="319.80" y="326.71" font-size="5.9" text-anchor="middle" fill="#231f20">10<tspan font-size="4.25" dy="-2.48">4</tspan></text><line x1="318.90" y1="318.60" x2="318.90" y2="320.40" stroke="#222" stroke-width="0.8" /><text x="335.50" y="326.71" font-size="5.9" text-anchor="middle" fill="#231f20">10<tspan font-size="4.25" dy="-2.48">5</tspan></text><line x1="334.60" y1="318.60" x2="334.60" y2="320.40" stroke="#222" stroke-width="0.8" /><line x1="286.15" y1="318.60" x2="286.15" y2="319.60" stroke="#444" stroke-width="0.5" /><line x1="291.52" y1="318.60" x2="291.52" y2="319.60" stroke="#444" stroke-width="0.5" /><line x1="295.82" y1="318.60" x2="295.82" y2="319.60" stroke="#444" stroke-width="0.5" /><line x1="306.51" y1="318.60" x2="306.51" y2="319.60" stroke="#444" stroke-width="0.5" /><line x1="310.94" y1="318.60" x2="310.94" y2="319.60" stroke="#444" stroke-width="0.5" /><line x1="314.47" y1="318.60" x2="314.47" y2="319.60" stroke="#444" stroke-width="0.5" /><line x1="323.61" y1="318.60" x2="323.61" y2="319.60" stroke="#444" stroke-width="0.5" /><line x1="327.54" y1="318.60" x2="327.54" y2="319.60" stroke="#444" stroke-width="0.5" /><line x1="330.68" y1="318.60" x2="330.68" y2="319.60" stroke="#444" stroke-width="0.5" /><line x1="270.40" y1="328.90" x2="337.70" y2="328.90" stroke="#231f20" stroke-width="0.75" /><path d="M336.80,327.30 L340.40,328.90 L336.80,330.50 Z" fill="#231f20"/><text x="306.90" y="335.85" font-size="6.0" text-anchor="middle" fill="#231f20" textLength="15.5" lengthAdjust="spacingAndGlyphs" >F4/80</text><text x="352.34" y="285.50" font-size="8.2" text-anchor="middle" fill="#231f20" textLength="15.5" lengthAdjust="spacingAndGlyphs" transform="rotate(-90 352.34 285.50)" >Sca1</text><line x1="354.20" y1="318.10" x2="354.20" y2="253.90" stroke="#231f20" stroke-width="0.75" /><path d="M352.60,254.60 L354.20,251.20 L355.80,254.60 Z" fill="#231f20"/><text x="368.40" y="257.81" font-size="5.9" text-anchor="end" fill="#231f20">10<tspan font-size="4.25" dy="-2.48">5</tspan></text><line x1="371.00" y1="255.70" x2="372.80" y2="255.70" stroke="#222" stroke-width="0.8" /><text x="368.40" y="275.11" font-size="5.9" text-anchor="end" fill="#231f20">10<tspan font-size="4.25" dy="-2.48">4</tspan></text><line x1="371.00" y1="273.00" x2="372.80" y2="273.00" stroke="#222" stroke-width="0.8" /><text x="368.40" y="293.31" font-size="5.9" text-anchor="end" fill="#231f20">10<tspan font-size="4.25" dy="-2.48">3</tspan></text><line x1="371.00" y1="291.20" x2="372.80" y2="291.20" stroke="#222" stroke-width="0.8" /><text x="367.80" y="304.41" font-size="5.9" text-anchor="end" fill="#231f20">0</text><line x1="371.00" y1="302.30" x2="372.80" y2="302.30" stroke="#222" stroke-width="0.8" /><text x="368.40" y="316.41" font-size="5.9" text-anchor="end" fill="#231f20">−10<tspan font-size="4.25" dy="-2.48">3</tspan></text><line x1="371.00" y1="314.30" x2="372.80" y2="314.30" stroke="#222" stroke-width="0.8" /><line x1="371.80" y1="260.89" x2="372.80" y2="260.89" stroke="#444" stroke-width="0.5" /><line x1="371.80" y1="265.21" x2="372.80" y2="265.21" stroke="#444" stroke-width="0.5" /><line x1="371.80" y1="268.68" x2="372.80" y2="268.68" stroke="#444" stroke-width="0.5" /><line x1="371.80" y1="278.46" x2="372.80" y2="278.46" stroke="#444" stroke-width="0.5" /><line x1="371.80" y1="283.01" x2="372.80" y2="283.01" stroke="#444" stroke-width="0.5" /><line x1="371.80" y1="286.65" x2="372.80" y2="286.65" stroke="#444" stroke-width="0.5" /><line x1="371.80" y1="294.53" x2="372.80" y2="294.53" stroke="#444" stroke-width="0.5" /><line x1="371.80" y1="297.31" x2="372.80" y2="297.31" stroke="#444" stroke-width="0.5" /><line x1="371.80" y1="299.52" x2="372.80" y2="299.52" stroke="#444" stroke-width="0.5" /><line x1="371.80" y1="305.90" x2="372.80" y2="305.90" stroke="#444" stroke-width="0.5" /><line x1="371.80" y1="308.90" x2="372.80" y2="308.90" stroke="#444" stroke-width="0.5" /><line x1="371.80" y1="311.30" x2="372.80" y2="311.30" stroke="#444" stroke-width="0.5" /><rect x="372.80" y="249.40" width="70.00" height="69.20" fill="none" stroke="#555" stroke-width="0.95"/><text x="383.00" y="326.71" font-size="5.9" text-anchor="middle" fill="#231f20">0</text><line x1="383.00" y1="318.60" x2="383.00" y2="320.40" stroke="#222" stroke-width="0.8" /><text x="405.10" y="326.71" font-size="5.9" text-anchor="middle" fill="#231f20">10<tspan font-size="4.25" dy="-2.48">3</tspan></text><line x1="404.20" y1="318.60" x2="404.20" y2="320.40" stroke="#222" stroke-width="0.8" /><text x="422.00" y="326.71" font-size="5.9" text-anchor="middle" fill="#231f20">10<tspan font-size="4.25" dy="-2.48">4</tspan></text><line x1="421.10" y1="318.60" x2="421.10" y2="320.40" stroke="#222" stroke-width="0.8" /><text x="439.80" y="326.71" font-size="5.9" text-anchor="middle" fill="#231f20">10<tspan font-size="4.25" dy="-2.48">5</tspan></text><line x1="438.90" y1="318.60" x2="438.90" y2="320.40" stroke="#222" stroke-width="0.8" /><line x1="389.36" y1="318.60" x2="389.36" y2="319.60" stroke="#444" stroke-width="0.5" /><line x1="394.66" y1="318.60" x2="394.66" y2="319.60" stroke="#444" stroke-width="0.5" /><line x1="398.90" y1="318.60" x2="398.90" y2="319.60" stroke="#444" stroke-width="0.5" /><line x1="409.27" y1="318.60" x2="409.27" y2="319.60" stroke="#444" stroke-width="0.5" /><line x1="413.50" y1="318.60" x2="413.50" y2="319.60" stroke="#444" stroke-width="0.5" /><line x1="416.88" y1="318.60" x2="416.88" y2="319.60" stroke="#444" stroke-width="0.5" /><line x1="426.44" y1="318.60" x2="426.44" y2="319.60" stroke="#444" stroke-width="0.5" /><line x1="430.89" y1="318.60" x2="430.89" y2="319.60" stroke="#444" stroke-width="0.5" /><line x1="434.45" y1="318.60" x2="434.45" y2="319.60" stroke="#444" stroke-width="0.5" /><line x1="373.60" y1="328.90" x2="441.30" y2="328.90" stroke="#231f20" stroke-width="0.75" /><path d="M440.40,327.30 L444.00,328.90 L440.40,330.50 Z" fill="#231f20"/><text x="408.80" y="335.85" font-size="6.0" text-anchor="middle" fill="#231f20" textLength="16.2" lengthAdjust="spacingAndGlyphs" >CD51</text><text x="43.14" y="376.90" font-size="8.2" text-anchor="middle" fill="#231f20" textLength="22.8" lengthAdjust="spacingAndGlyphs" transform="rotate(-90 43.14 376.90)" >CD155</text><line x1="45.40" y1="409.40" x2="45.40" y2="346.20" stroke="#231f20" stroke-width="0.75" /><path d="M43.80,346.90 L45.40,343.50 L47.00,346.90 Z" fill="#231f20"/><text x="59.25" y="349.41" font-size="5.9" text-anchor="end" fill="#231f20">10<tspan font-size="4.25" dy="-2.48">5</tspan></text><line x1="61.85" y1="347.30" x2="63.65" y2="347.30" stroke="#222" stroke-width="0.8" /><text x="59.25" y="365.71" font-size="5.9" text-anchor="end" fill="#231f20">10<tspan font-size="4.25" dy="-2.48">4</tspan></text><line x1="61.85" y1="363.60" x2="63.65" y2="363.60" stroke="#222" stroke-width="0.8" /><text x="59.25" y="381.91" font-size="5.9" text-anchor="end" fill="#231f20">10<tspan font-size="4.25" dy="-2.48">3</tspan></text><line x1="61.85" y1="379.80" x2="63.65" y2="379.80" stroke="#222" stroke-width="0.8" /><text x="58.65" y="403.91" font-size="5.9" text-anchor="end" fill="#231f20">0</text><line x1="61.85" y1="401.80" x2="63.65" y2="401.80" stroke="#222" stroke-width="0.8" /><line x1="62.65" y1="352.19" x2="63.65" y2="352.19" stroke="#444" stroke-width="0.5" /><line x1="62.65" y1="356.27" x2="63.65" y2="356.27" stroke="#444" stroke-width="0.5" /><line x1="62.65" y1="359.53" x2="63.65" y2="359.53" stroke="#444" stroke-width="0.5" /><line x1="62.65" y1="368.46" x2="63.65" y2="368.46" stroke="#444" stroke-width="0.5" /><line x1="62.65" y1="372.51" x2="63.65" y2="372.51" stroke="#444" stroke-width="0.5" /><line x1="62.65" y1="375.75" x2="63.65" y2="375.75" stroke="#444" stroke-width="0.5" /><line x1="62.65" y1="386.40" x2="63.65" y2="386.40" stroke="#444" stroke-width="0.5" /><line x1="62.65" y1="391.90" x2="63.65" y2="391.90" stroke="#444" stroke-width="0.5" /><line x1="62.65" y1="396.30" x2="63.65" y2="396.30" stroke="#444" stroke-width="0.5" /><rect x="63.65" y="341.70" width="69.05" height="68.20" fill="none" stroke="#555" stroke-width="0.95"/><text x="73.80" y="419.01" font-size="5.9" text-anchor="middle" fill="#231f20">0</text><line x1="73.80" y1="409.90" x2="73.80" y2="411.70" stroke="#222" stroke-width="0.8" /><text x="95.50" y="419.01" font-size="5.9" text-anchor="middle" fill="#231f20">10<tspan font-size="4.25" dy="-2.48">3</tspan></text><line x1="94.60" y1="409.90" x2="94.60" y2="411.70" stroke="#222" stroke-width="0.8" /><text x="111.90" y="419.01" font-size="5.9" text-anchor="middle" fill="#231f20">10<tspan font-size="4.25" dy="-2.48">4</tspan></text><line x1="111.00" y1="409.90" x2="111.00" y2="411.70" stroke="#222" stroke-width="0.8" /><text x="127.20" y="419.01" font-size="5.9" text-anchor="middle" fill="#231f20">10<tspan font-size="4.25" dy="-2.48">5</tspan></text><line x1="126.30" y1="409.90" x2="126.30" y2="411.70" stroke="#222" stroke-width="0.8" /><line x1="80.04" y1="409.90" x2="80.04" y2="410.90" stroke="#444" stroke-width="0.5" /><line x1="85.24" y1="409.90" x2="85.24" y2="410.90" stroke="#444" stroke-width="0.5" /><line x1="89.40" y1="409.90" x2="89.40" y2="410.90" stroke="#444" stroke-width="0.5" /><line x1="99.52" y1="409.90" x2="99.52" y2="410.90" stroke="#444" stroke-width="0.5" /><line x1="103.62" y1="409.90" x2="103.62" y2="410.90" stroke="#444" stroke-width="0.5" /><line x1="106.90" y1="409.90" x2="106.90" y2="410.90" stroke="#444" stroke-width="0.5" /><line x1="115.59" y1="409.90" x2="115.59" y2="410.90" stroke="#444" stroke-width="0.5" /><line x1="119.41" y1="409.90" x2="119.41" y2="410.90" stroke="#444" stroke-width="0.5" /><line x1="122.47" y1="409.90" x2="122.47" y2="410.90" stroke="#444" stroke-width="0.5" /><line x1="64.45" y1="421.20" x2="131.20" y2="421.20" stroke="#231f20" stroke-width="0.75" /><path d="M130.30,419.60 L133.90,421.20 L130.30,422.80 Z" fill="#231f20"/><text x="99.40" y="428.15" font-size="6.0" text-anchor="middle" fill="#231f20" textLength="20.3" lengthAdjust="spacingAndGlyphs" >CD138</text><text x="146.74" y="377.00" font-size="8.2" text-anchor="middle" fill="#231f20" textLength="18.6" lengthAdjust="spacingAndGlyphs" transform="rotate(-90 146.74 377.00)" >CD45</text><line x1="146.30" y1="410.40" x2="146.30" y2="346.20" stroke="#231f20" stroke-width="0.75" /><path d="M144.70,346.90 L146.30,343.50 L147.90,346.90 Z" fill="#231f20"/><text x="161.20" y="350.61" font-size="5.9" text-anchor="end" fill="#231f20">10<tspan font-size="4.25" dy="-2.48">5</tspan></text><line x1="163.80" y1="348.50" x2="165.60" y2="348.50" stroke="#222" stroke-width="0.8" /><text x="161.20" y="365.81" font-size="5.9" text-anchor="end" fill="#231f20">10<tspan font-size="4.25" dy="-2.48">4</tspan></text><line x1="163.80" y1="363.70" x2="165.60" y2="363.70" stroke="#222" stroke-width="0.8" /><text x="161.20" y="381.91" font-size="5.9" text-anchor="end" fill="#231f20">10<tspan font-size="4.25" dy="-2.48">3</tspan></text><line x1="163.80" y1="379.80" x2="165.60" y2="379.80" stroke="#222" stroke-width="0.8" /><text x="161.20" y="398.91" font-size="5.9" text-anchor="end" fill="#231f20">10<tspan font-size="4.25" dy="-2.48">2</tspan></text><line x1="163.80" y1="396.80" x2="165.60" y2="396.80" stroke="#222" stroke-width="0.8" /><text x="160.60" y="404.91" font-size="5.9" text-anchor="end" fill="#231f20">0</text><line x1="163.80" y1="402.80" x2="165.60" y2="402.80" stroke="#222" stroke-width="0.8" /><text x="161.20" y="411.81" font-size="5.9" text-anchor="end" fill="#231f20">−10<tspan font-size="4.25" dy="-2.48">2</tspan></text><line x1="163.80" y1="409.70" x2="165.60" y2="409.70" stroke="#222" stroke-width="0.8" /><line x1="164.60" y1="353.06" x2="165.60" y2="353.06" stroke="#444" stroke-width="0.5" /><line x1="164.60" y1="356.86" x2="165.60" y2="356.86" stroke="#444" stroke-width="0.5" /><line x1="164.60" y1="359.90" x2="165.60" y2="359.90" stroke="#444" stroke-width="0.5" /><line x1="164.60" y1="368.53" x2="165.60" y2="368.53" stroke="#444" stroke-width="0.5" /><line x1="164.60" y1="372.56" x2="165.60" y2="372.56" stroke="#444" stroke-width="0.5" /><line x1="164.60" y1="375.77" x2="165.60" y2="375.77" stroke="#444" stroke-width="0.5" /><line x1="164.60" y1="384.90" x2="165.60" y2="384.90" stroke="#444" stroke-width="0.5" /><line x1="164.60" y1="389.15" x2="165.60" y2="389.15" stroke="#444" stroke-width="0.5" /><line x1="164.60" y1="392.55" x2="165.60" y2="392.55" stroke="#444" stroke-width="0.5" /><line x1="164.60" y1="398.60" x2="165.60" y2="398.60" stroke="#444" stroke-width="0.5" /><line x1="164.60" y1="400.10" x2="165.60" y2="400.10" stroke="#444" stroke-width="0.5" /><line x1="164.60" y1="401.30" x2="165.60" y2="401.30" stroke="#444" stroke-width="0.5" /><line x1="164.60" y1="404.87" x2="165.60" y2="404.87" stroke="#444" stroke-width="0.5" /><line x1="164.60" y1="406.60" x2="165.60" y2="406.60" stroke="#444" stroke-width="0.5" /><line x1="164.60" y1="407.98" x2="165.60" y2="407.98" stroke="#444" stroke-width="0.5" /><rect x="165.60" y="341.70" width="68.80" height="69.20" fill="none" stroke="#555" stroke-width="0.95"/><text x="173.80" y="419.01" font-size="5.9" text-anchor="middle" fill="#231f20">0</text><line x1="173.80" y1="410.90" x2="173.80" y2="412.70" stroke="#222" stroke-width="0.8" /><text x="194.00" y="419.01" font-size="5.9" text-anchor="middle" fill="#231f20">10<tspan font-size="4.25" dy="-2.48">3</tspan></text><line x1="193.10" y1="410.90" x2="193.10" y2="412.70" stroke="#222" stroke-width="0.8" /><text x="212.40" y="419.01" font-size="5.9" text-anchor="middle" fill="#231f20">10<tspan font-size="4.25" dy="-2.48">4</tspan></text><line x1="211.50" y1="410.90" x2="211.50" y2="412.70" stroke="#222" stroke-width="0.8" /><text x="230.40" y="419.01" font-size="5.9" text-anchor="middle" fill="#231f20">10<tspan font-size="4.25" dy="-2.48">5</tspan></text><line x1="229.50" y1="410.90" x2="229.50" y2="412.70" stroke="#222" stroke-width="0.8" /><line x1="179.59" y1="410.90" x2="179.59" y2="411.90" stroke="#444" stroke-width="0.5" /><line x1="184.41" y1="410.90" x2="184.41" y2="411.90" stroke="#444" stroke-width="0.5" /><line x1="188.28" y1="410.90" x2="188.28" y2="411.90" stroke="#444" stroke-width="0.5" /><line x1="198.62" y1="410.90" x2="198.62" y2="411.90" stroke="#444" stroke-width="0.5" /><line x1="203.22" y1="410.90" x2="203.22" y2="411.90" stroke="#444" stroke-width="0.5" /><line x1="206.90" y1="410.90" x2="206.90" y2="411.90" stroke="#444" stroke-width="0.5" /><line x1="216.90" y1="410.90" x2="216.90" y2="411.90" stroke="#444" stroke-width="0.5" /><line x1="221.40" y1="410.90" x2="221.40" y2="411.90" stroke="#444" stroke-width="0.5" /><line x1="225.00" y1="410.90" x2="225.00" y2="411.90" stroke="#444" stroke-width="0.5" /><line x1="166.40" y1="421.20" x2="232.90" y2="421.20" stroke="#231f20" stroke-width="0.75" /><path d="M232.00,419.60 L235.60,421.20 L232.00,422.80 Z" fill="#231f20"/><text x="198.80" y="428.15" font-size="6.0" text-anchor="middle" fill="#231f20" textLength="11" lengthAdjust="spacingAndGlyphs" >Lin−</text><text x="248.24" y="377.40" font-size="8.2" text-anchor="middle" fill="#231f20" textLength="17.9" lengthAdjust="spacingAndGlyphs" transform="rotate(-90 248.24 377.40)" >CD31</text><line x1="250.40" y1="410.40" x2="250.40" y2="346.20" stroke="#231f20" stroke-width="0.75" /><path d="M248.80,346.90 L250.40,343.50 L252.00,346.90 Z" fill="#231f20"/><text x="265.20" y="350.61" font-size="5.9" text-anchor="end" fill="#231f20">10<tspan font-size="4.25" dy="-2.48">5</tspan></text><line x1="267.80" y1="348.50" x2="269.60" y2="348.50" stroke="#222" stroke-width="0.8" /><text x="265.20" y="365.81" font-size="5.9" text-anchor="end" fill="#231f20">10<tspan font-size="4.25" dy="-2.48">4</tspan></text><line x1="267.80" y1="363.70" x2="269.60" y2="363.70" stroke="#222" stroke-width="0.8" /><text x="265.20" y="381.91" font-size="5.9" text-anchor="end" fill="#231f20">10<tspan font-size="4.25" dy="-2.48">3</tspan></text><line x1="267.80" y1="379.80" x2="269.60" y2="379.80" stroke="#222" stroke-width="0.8" /><text x="265.20" y="398.91" font-size="5.9" text-anchor="end" fill="#231f20">10<tspan font-size="4.25" dy="-2.48">2</tspan></text><line x1="267.80" y1="396.80" x2="269.60" y2="396.80" stroke="#222" stroke-width="0.8" /><text x="264.60" y="404.91" font-size="5.9" text-anchor="end" fill="#231f20">0</text><line x1="267.80" y1="402.80" x2="269.60" y2="402.80" stroke="#222" stroke-width="0.8" /><text x="265.20" y="411.81" font-size="5.9" text-anchor="end" fill="#231f20">−10<tspan font-size="4.25" dy="-2.48">2</tspan></text><line x1="267.80" y1="409.70" x2="269.60" y2="409.70" stroke="#222" stroke-width="0.8" /><line x1="268.60" y1="353.06" x2="269.60" y2="353.06" stroke="#444" stroke-width="0.5" /><line x1="268.60" y1="356.86" x2="269.60" y2="356.86" stroke="#444" stroke-width="0.5" /><line x1="268.60" y1="359.90" x2="269.60" y2="359.90" stroke="#444" stroke-width="0.5" /><line x1="268.60" y1="368.53" x2="269.60" y2="368.53" stroke="#444" stroke-width="0.5" /><line x1="268.60" y1="372.56" x2="269.60" y2="372.56" stroke="#444" stroke-width="0.5" /><line x1="268.60" y1="375.77" x2="269.60" y2="375.77" stroke="#444" stroke-width="0.5" /><line x1="268.60" y1="384.90" x2="269.60" y2="384.90" stroke="#444" stroke-width="0.5" /><line x1="268.60" y1="389.15" x2="269.60" y2="389.15" stroke="#444" stroke-width="0.5" /><line x1="268.60" y1="392.55" x2="269.60" y2="392.55" stroke="#444" stroke-width="0.5" /><line x1="268.60" y1="398.60" x2="269.60" y2="398.60" stroke="#444" stroke-width="0.5" /><line x1="268.60" y1="400.10" x2="269.60" y2="400.10" stroke="#444" stroke-width="0.5" /><line x1="268.60" y1="401.30" x2="269.60" y2="401.30" stroke="#444" stroke-width="0.5" /><line x1="268.60" y1="404.87" x2="269.60" y2="404.87" stroke="#444" stroke-width="0.5" /><line x1="268.60" y1="406.60" x2="269.60" y2="406.60" stroke="#444" stroke-width="0.5" /><line x1="268.60" y1="407.98" x2="269.60" y2="407.98" stroke="#444" stroke-width="0.5" /><rect x="269.60" y="341.70" width="69.60" height="69.20" fill="none" stroke="#555" stroke-width="0.95"/><text x="279.70" y="419.01" font-size="5.9" text-anchor="middle" fill="#231f20">0</text><line x1="279.70" y1="410.90" x2="279.70" y2="412.70" stroke="#222" stroke-width="0.8" /><text x="302.10" y="419.01" font-size="5.9" text-anchor="middle" fill="#231f20">10<tspan font-size="4.25" dy="-2.48">3</tspan></text><line x1="301.20" y1="410.90" x2="301.20" y2="412.70" stroke="#222" stroke-width="0.8" /><text x="319.80" y="419.01" font-size="5.9" text-anchor="middle" fill="#231f20">10<tspan font-size="4.25" dy="-2.48">4</tspan></text><line x1="318.90" y1="410.90" x2="318.90" y2="412.70" stroke="#222" stroke-width="0.8" /><text x="335.50" y="419.01" font-size="5.9" text-anchor="middle" fill="#231f20">10<tspan font-size="4.25" dy="-2.48">5</tspan></text><line x1="334.60" y1="410.90" x2="334.60" y2="412.70" stroke="#222" stroke-width="0.8" /><line x1="286.15" y1="410.90" x2="286.15" y2="411.90" stroke="#444" stroke-width="0.5" /><line x1="291.52" y1="410.90" x2="291.52" y2="411.90" stroke="#444" stroke-width="0.5" /><line x1="295.82" y1="410.90" x2="295.82" y2="411.90" stroke="#444" stroke-width="0.5" /><line x1="306.51" y1="410.90" x2="306.51" y2="411.90" stroke="#444" stroke-width="0.5" /><line x1="310.94" y1="410.90" x2="310.94" y2="411.90" stroke="#444" stroke-width="0.5" /><line x1="314.47" y1="410.90" x2="314.47" y2="411.90" stroke="#444" stroke-width="0.5" /><line x1="323.61" y1="410.90" x2="323.61" y2="411.90" stroke="#444" stroke-width="0.5" /><line x1="327.54" y1="410.90" x2="327.54" y2="411.90" stroke="#444" stroke-width="0.5" /><line x1="330.68" y1="410.90" x2="330.68" y2="411.90" stroke="#444" stroke-width="0.5" /><line x1="270.40" y1="421.20" x2="337.70" y2="421.20" stroke="#231f20" stroke-width="0.75" /><path d="M336.80,419.60 L340.40,421.20 L336.80,422.80 Z" fill="#231f20"/><text x="306.90" y="428.15" font-size="6.0" text-anchor="middle" fill="#231f20" textLength="15.5" lengthAdjust="spacingAndGlyphs" >F4/80</text><text x="352.34" y="377.80" font-size="8.2" text-anchor="middle" fill="#231f20" textLength="15.5" lengthAdjust="spacingAndGlyphs" transform="rotate(-90 352.34 377.80)" >Sca1</text><line x1="354.20" y1="410.40" x2="354.20" y2="346.20" stroke="#231f20" stroke-width="0.75" /><path d="M352.60,346.90 L354.20,343.50 L355.80,346.90 Z" fill="#231f20"/><text x="368.40" y="350.11" font-size="5.9" text-anchor="end" fill="#231f20">10<tspan font-size="4.25" dy="-2.48">5</tspan></text><line x1="371.00" y1="348.00" x2="372.80" y2="348.00" stroke="#222" stroke-width="0.8" /><text x="368.40" y="367.41" font-size="5.9" text-anchor="end" fill="#231f20">10<tspan font-size="4.25" dy="-2.48">4</tspan></text><line x1="371.00" y1="365.30" x2="372.80" y2="365.30" stroke="#222" stroke-width="0.8" /><text x="368.40" y="385.61" font-size="5.9" text-anchor="end" fill="#231f20">10<tspan font-size="4.25" dy="-2.48">3</tspan></text><line x1="371.00" y1="383.50" x2="372.80" y2="383.50" stroke="#222" stroke-width="0.8" /><text x="367.80" y="396.71" font-size="5.9" text-anchor="end" fill="#231f20">0</text><line x1="371.00" y1="394.60" x2="372.80" y2="394.60" stroke="#222" stroke-width="0.8" /><text x="368.40" y="408.71" font-size="5.9" text-anchor="end" fill="#231f20">−10<tspan font-size="4.25" dy="-2.48">3</tspan></text><line x1="371.00" y1="406.60" x2="372.80" y2="406.60" stroke="#222" stroke-width="0.8" /><line x1="371.80" y1="353.19" x2="372.80" y2="353.19" stroke="#444" stroke-width="0.5" /><line x1="371.80" y1="357.51" x2="372.80" y2="357.51" stroke="#444" stroke-width="0.5" /><line x1="371.80" y1="360.98" x2="372.80" y2="360.98" stroke="#444" stroke-width="0.5" /><line x1="371.80" y1="370.76" x2="372.80" y2="370.76" stroke="#444" stroke-width="0.5" /><line x1="371.80" y1="375.31" x2="372.80" y2="375.31" stroke="#444" stroke-width="0.5" /><line x1="371.80" y1="378.95" x2="372.80" y2="378.95" stroke="#444" stroke-width="0.5" /><line x1="371.80" y1="386.83" x2="372.80" y2="386.83" stroke="#444" stroke-width="0.5" /><line x1="371.80" y1="389.61" x2="372.80" y2="389.61" stroke="#444" stroke-width="0.5" /><line x1="371.80" y1="391.83" x2="372.80" y2="391.83" stroke="#444" stroke-width="0.5" /><line x1="371.80" y1="398.20" x2="372.80" y2="398.20" stroke="#444" stroke-width="0.5" /><line x1="371.80" y1="401.20" x2="372.80" y2="401.20" stroke="#444" stroke-width="0.5" /><line x1="371.80" y1="403.60" x2="372.80" y2="403.60" stroke="#444" stroke-width="0.5" /><rect x="372.80" y="341.70" width="70.00" height="69.20" fill="none" stroke="#555" stroke-width="0.95"/><text x="383.00" y="419.01" font-size="5.9" text-anchor="middle" fill="#231f20">0</text><line x1="383.00" y1="410.90" x2="383.00" y2="412.70" stroke="#222" stroke-width="0.8" /><text x="405.10" y="419.01" font-size="5.9" text-anchor="middle" fill="#231f20">10<tspan font-size="4.25" dy="-2.48">3</tspan></text><line x1="404.20" y1="410.90" x2="404.20" y2="412.70" stroke="#222" stroke-width="0.8" /><text x="422.00" y="419.01" font-size="5.9" text-anchor="middle" fill="#231f20">10<tspan font-size="4.25" dy="-2.48">4</tspan></text><line x1="421.10" y1="410.90" x2="421.10" y2="412.70" stroke="#222" stroke-width="0.8" /><text x="439.80" y="419.01" font-size="5.9" text-anchor="middle" fill="#231f20">10<tspan font-size="4.25" dy="-2.48">5</tspan></text><line x1="438.90" y1="410.90" x2="438.90" y2="412.70" stroke="#222" stroke-width="0.8" /><line x1="389.36" y1="410.90" x2="389.36" y2="411.90" stroke="#444" stroke-width="0.5" /><line x1="394.66" y1="410.90" x2="394.66" y2="411.90" stroke="#444" stroke-width="0.5" /><line x1="398.90" y1="410.90" x2="398.90" y2="411.90" stroke="#444" stroke-width="0.5" /><line x1="409.27" y1="410.90" x2="409.27" y2="411.90" stroke="#444" stroke-width="0.5" /><line x1="413.50" y1="410.90" x2="413.50" y2="411.90" stroke="#444" stroke-width="0.5" /><line x1="416.88" y1="410.90" x2="416.88" y2="411.90" stroke="#444" stroke-width="0.5" /><line x1="426.44" y1="410.90" x2="426.44" y2="411.90" stroke="#444" stroke-width="0.5" /><line x1="430.89" y1="410.90" x2="430.89" y2="411.90" stroke="#444" stroke-width="0.5" /><line x1="434.45" y1="410.90" x2="434.45" y2="411.90" stroke="#444" stroke-width="0.5" /><line x1="373.60" y1="421.20" x2="441.30" y2="421.20" stroke="#231f20" stroke-width="0.75" /><path d="M440.40,419.60 L444.00,421.20 L440.40,422.80 Z" fill="#231f20"/><text x="408.80" y="428.15" font-size="6.0" text-anchor="middle" fill="#231f20" textLength="16.2" lengthAdjust="spacingAndGlyphs" >CD51</text><g clip-path="url(#c1)"><g filter="url(#bl9)"><path d="M72.40,276.50 C72.40,275.53 74.07,273.87 76.00,272.50 C77.93,271.13 80.83,269.52 84.00,268.30 C87.17,267.08 91.33,265.88 95.00,265.20 C98.67,264.52 102.75,264.33 106.00,264.20 C109.25,264.07 112.20,263.93 114.50,264.40 C116.80,264.87 118.92,265.82 119.80,267.00 C120.68,268.18 121.10,270.23 119.80,271.50 C118.50,272.77 115.63,273.78 112.00,274.60 C108.37,275.42 102.33,275.87 98.00,276.40 C93.67,276.93 89.67,277.48 86.00,277.80 C82.33,278.12 78.27,278.52 76.00,278.30 C73.73,278.08 72.40,277.47 72.40,276.50 Z" fill="#8390cc" stroke="#8390cc" stroke-width="2.2"/><path d="M65.60,279.80 C68.03,277.23 75.60,279.63 80.00,279.60 C84.40,279.57 88.67,279.45 92.00,279.60 C95.33,279.75 98.37,279.77 100.00,280.50 C101.63,281.23 101.63,282.08 101.80,284.00 C101.97,285.92 101.55,289.17 101.00,292.00 C100.45,294.83 99.58,298.50 98.50,301.00 C97.42,303.50 96.58,305.25 94.50,307.00 C92.42,308.75 89.08,310.37 86.00,311.50 C82.92,312.63 78.92,313.38 76.00,313.80 C73.08,314.22 70.23,314.47 68.50,314.00 C66.77,313.53 66.12,314.17 65.60,311.00 C65.08,307.83 65.40,300.20 65.40,295.00 C65.40,289.80 63.17,282.37 65.60,279.80 Z" fill="#8390cc" stroke="#8390cc" stroke-width="2.2"/></g></g><g clip-path="url(#c2)"><g filter="url(#texb)"><circle cx="86.87" cy="264.58" r="0.32" fill="#5b6cc0" fill-opacity="0.55"/><circle cx="104.01" cy="263.08" r="0.32" fill="#5b6cc0" fill-opacity="0.55"/><circle cx="97.98" cy="268.68" r="0.32" fill="#5b6cc0" fill-opacity="0.55"/><circle cx="72.94" cy="271.39" r="0.32" fill="#5b6cc0" fill-opacity="0.55"/><circle cx="71.86" cy="269.98" r="0.32" fill="#5b6cc0" fill-opacity="0.55"/><circle cx="73.56" cy="263.43" r="0.32" fill="#5b6cc0" fill-opacity="0.55"/><circle cx="92.14" cy="277.49" r="0.32" fill="#5b6cc0" fill-opacity="0.55"/><circle cx="76.39" cy="265.96" r="0.32" fill="#5b6cc0" fill-opacity="0.55"/><circle cx="102.78" cy="279.80" r="0.32" fill="#5b6cc0" fill-opacity="0.55"/><circle cx="100.14" cy="269.28" r="0.32" fill="#5b6cc0" fill-opacity="0.55"/><circle cx="121.06" cy="262.59" r="0.32" fill="#5b6cc0" fill-opacity="0.55"/><circle cx="114.88" cy="267.23" r="0.32" fill="#5b6cc0" fill-opacity="0.55"/><circle cx="77.46" cy="263.95" r="0.32" fill="#5b6cc0" fill-opacity="0.55"/><circle cx="86.06" cy="277.29" r="0.32" fill="#5b6cc0" fill-opacity="0.55"/><circle cx="79.37" cy="272.81" r="0.32" fill="#5b6cc0" fill-opacity="0.55"/><circle cx="103.38" cy="268.81" r="0.32" fill="#5b6cc0" fill-opacity="0.55"/><circle cx="98.60" cy="262.90" r="0.32" fill="#5b6cc0" fill-opacity="0.55"/><circle cx="73.02" cy="265.63" r="0.32" fill="#5b6cc0" fill-opacity="0.55"/><circle cx="105.55" cy="269.87" r="0.32" fill="#5b6cc0" fill-opacity="0.55"/><circle cx="86.36" cy="272.88" r="0.32" fill="#5b6cc0" fill-opacity="0.55"/><circle cx="93.65" cy="267.43" r="0.32" fill="#5b6cc0" fill-opacity="0.55"/><circle cx="111.53" cy="275.05" r="0.32" fill="#5b6cc0" fill-opacity="0.55"/><circle cx="82.69" cy="272.67" r="0.32" fill="#5b6cc0" fill-opacity="0.55"/><circle cx="97.42" cy="278.42" r="0.32" fill="#5b6cc0" fill-opacity="0.55"/><circle cx="108.12" cy="267.20" r="0.32" fill="#5b6cc0" fill-opacity="0.55"/><circle cx="121.26" cy="263.96" r="0.32" fill="#5b6cc0" fill-opacity="0.55"/><circle cx="91.81" cy="276.16" r="0.32" fill="#5b6cc0" fill-opacity="0.55"/><circle cx="77.86" cy="271.04" r="0.32" fill="#5b6cc0" fill-opacity="0.55"/><circle cx="71.95" cy="274.46" r="0.32" fill="#5b6cc0" fill-opacity="0.55"/><circle cx="109.96" cy="272.64" r="0.32" fill="#5b6cc0" fill-opacity="0.55"/><circle cx="115.78" cy="267.69" r="0.32" fill="#5b6cc0" fill-opacity="0.55"/><circle cx="106.33" cy="273.05" r="0.32" fill="#5b6cc0" fill-opacity="0.55"/><circle cx="100.29" cy="270.41" r="0.32" fill="#5b6cc0" fill-opacity="0.55"/><circle cx="113.91" cy="279.74" r="0.32" fill="#5b6cc0" fill-opacity="0.55"/><circle cx="94.74" cy="274.39" r="0.32" fill="#5b6cc0" fill-opacity="0.55"/><circle cx="73.08" cy="275.10" r="0.32" fill="#5b6cc0" fill-opacity="0.55"/><circle cx="103.81" cy="280.67" r="0.32" fill="#5b6cc0" fill-opacity="0.55"/><circle cx="112.97" cy="267.14" r="0.32" fill="#5b6cc0" fill-opacity="0.55"/><circle cx="90.12" cy="274.47" r="0.32" fill="#5b6cc0" fill-opacity="0.55"/><circle cx="71.08" cy="270.52" r="0.32" fill="#5b6cc0" fill-opacity="0.55"/><circle cx="78.71" cy="263.94" r="0.32" fill="#5b6cc0" fill-opacity="0.55"/><circle cx="72.99" cy="276.37" r="0.32" fill="#5b6cc0" fill-opacity="0.55"/><circle cx="76.68" cy="266.43" r="0.32" fill="#5b6cc0" fill-opacity="0.55"/><circle cx="90.39" cy="278.34" r="0.32" fill="#5b6cc0" fill-opacity="0.55"/><circle cx="74.12" cy="270.28" r="0.32" fill="#5b6cc0" fill-opacity="0.55"/><circle cx="98.69" cy="278.57" r="0.32" fill="#5b6cc0" fill-opacity="0.55"/><circle cx="112.83" cy="278.20" r="0.32" fill="#5b6cc0" fill-opacity="0.55"/><circle cx="84.49" cy="269.63" r="0.32" fill="#5b6cc0" fill-opacity="0.55"/><circle cx="88.70" cy="278.59" r="0.32" fill="#5b6cc0" fill-opacity="0.55"/><circle cx="120.09" cy="264.58" r="0.32" fill="#5b6cc0" fill-opacity="0.55"/><circle cx="79.13" cy="266.13" r="0.32" fill="#5b6cc0" fill-opacity="0.55"/><circle cx="82.13" cy="270.96" r="0.32" fill="#5b6cc0" fill-opacity="0.55"/><circle cx="100.77" cy="266.72" r="0.32" fill="#5b6cc0" fill-opacity="0.55"/><circle cx="70.11" cy="269.70" r="0.32" fill="#5b6cc0" fill-opacity="0.55"/><circle cx="89.25" cy="272.52" r="0.32" fill="#5b6cc0" fill-opacity="0.55"/><circle cx="119.84" cy="274.89" r="0.32" fill="#5b6cc0" fill-opacity="0.55"/><circle cx="96.91" cy="273.50" r="0.32" fill="#5b6cc0" fill-opacity="0.55"/><circle cx="105.33" cy="262.73" r="0.32" fill="#5b6cc0" fill-opacity="0.55"/><circle cx="117.04" cy="276.60" r="0.32" fill="#5b6cc0" fill-opacity="0.55"/><circle cx="115.72" cy="276.94" r="0.32" fill="#5b6cc0" fill-opacity="0.55"/><circle cx="90.46" cy="269.32" r="0.32" fill="#5b6cc0" fill-opacity="0.55"/><circle cx="75.33" cy="273.81" r="0.32" fill="#5b6cc0" fill-opacity="0.55"/><circle cx="73.16" cy="262.99" r="0.32" fill="#5b6cc0" fill-opacity="0.55"/><circle cx="80.84" cy="264.80" r="0.32" fill="#5b6cc0" fill-opacity="0.55"/><circle cx="87.72" cy="262.70" r="0.32" fill="#5b6cc0" fill-opacity="0.55"/><circle cx="69.91" cy="264.59" r="0.32" fill="#5b6cc0" fill-opacity="0.55"/><circle cx="75.22" cy="268.64" r="0.32" fill="#5b6cc0" fill-opacity="0.55"/><circle cx="71.24" cy="278.40" r="0.32" fill="#5b6cc0" fill-opacity="0.55"/><circle cx="102.08" cy="264.54" r="0.32" fill="#5b6cc0" fill-opacity="0.55"/><circle cx="83.12" cy="268.34" r="0.32" fill="#5b6cc0" fill-opacity="0.55"/><circle cx="77.57" cy="280.81" r="0.32" fill="#5b6cc0" fill-opacity="0.55"/><circle cx="99.09" cy="317.71" r="0.32" fill="#5b6cc0" fill-opacity="0.55"/><circle cx="82.09" cy="296.11" r="0.32" fill="#5b6cc0" fill-opacity="0.55"/><circle cx="65.21" cy="279.93" r="0.32" fill="#5b6cc0" fill-opacity="0.55"/><circle cx="76.61" cy="286.83" r="0.32" fill="#5b6cc0" fill-opacity="0.55"/><circle cx="98.20" cy="282.44" r="0.32" fill="#5b6cc0" fill-opacity="0.55"/><circle cx="62.43" cy="315.92" r="0.32" fill="#5b6cc0" fill-opacity="0.55"/><circle cx="84.85" cy="281.82" r="0.32" fill="#5b6cc0" fill-opacity="0.55"/><circle cx="85.52" cy="276.75" r="0.32" fill="#5b6cc0" fill-opacity="0.55"/><circle cx="84.85" cy="317.09" r="0.32" fill="#5b6cc0" fill-opacity="0.55"/><circle cx="99.73" cy="305.12" r="0.32" fill="#5b6cc0" fill-opacity="0.55"/><circle cx="72.99" cy="291.15" r="0.32" fill="#5b6cc0" fill-opacity="0.55"/><circle cx="68.82" cy="308.33" r="0.32" fill="#5b6cc0" fill-opacity="0.55"/><circle cx="85.05" cy="308.63" r="0.32" fill="#5b6cc0" fill-opacity="0.55"/><circle cx="76.04" cy="285.06" r="0.32" fill="#5b6cc0" fill-opacity="0.55"/><circle cx="97.43" cy="317.36" r="0.32" fill="#5b6cc0" fill-opacity="0.55"/><circle cx="99.26" cy="309.78" r="0.32" fill="#5b6cc0" fill-opacity="0.55"/><circle cx="97.73" cy="306.97" r="0.32" fill="#5b6cc0" fill-opacity="0.55"/><circle cx="71.47" cy="297.55" r="0.32" fill="#5b6cc0" fill-opacity="0.55"/><circle cx="77.19" cy="276.83" r="0.32" fill="#5b6cc0" fill-opacity="0.55"/><circle cx="62.64" cy="287.45" r="0.32" fill="#5b6cc0" fill-opacity="0.55"/><circle cx="72.91" cy="304.96" r="0.32" fill="#5b6cc0" fill-opacity="0.55"/><circle cx="103.87" cy="294.56" r="0.32" fill="#5b6cc0" fill-opacity="0.55"/><circle cx="103.00" cy="317.49" r="0.32" fill="#5b6cc0" fill-opacity="0.55"/><circle cx="103.80" cy="291.06" r="0.32" fill="#5b6cc0" fill-opacity="0.55"/><circle cx="71.19" cy="285.22" r="0.32" fill="#5b6cc0" fill-opacity="0.55"/><circle cx="70.13" cy="284.27" r="0.32" fill="#5b6cc0" fill-opacity="0.55"/><circle cx="89.11" cy="313.77" r="0.32" fill="#5b6cc0" fill-opacity="0.55"/><circle cx="98.72" cy="295.93" r="0.32" fill="#5b6cc0" fill-opacity="0.55"/><circle cx="90.39" cy="309.50" r="0.32" fill="#5b6cc0" fill-opacity="0.55"/><circle cx="65.16" cy="303.61" r="0.32" fill="#5b6cc0" fill-opacity="0.55"/><circle cx="101.79" cy="308.77" r="0.32" fill="#5b6cc0" fill-opacity="0.55"/><circle cx="94.71" cy="295.87" r="0.32" fill="#5b6cc0" fill-opacity="0.55"/><circle cx="69.33" cy="309.06" r="0.32" fill="#5b6cc0" fill-opacity="0.55"/><circle cx="76.16" cy="309.55" r="0.32" fill="#5b6cc0" fill-opacity="0.55"/><circle cx="104.54" cy="292.38" r="0.32" fill="#5b6cc0" fill-opacity="0.55"/><circle cx="79.22" cy="315.74" r="0.32" fill="#5b6cc0" fill-opacity="0.55"/><circle cx="93.58" cy="282.81" r="0.32" fill="#5b6cc0" fill-opacity="0.55"/><circle cx="67.04" cy="282.01" r="0.32" fill="#5b6cc0" fill-opacity="0.55"/><circle cx="101.58" cy="309.80" r="0.32" fill="#5b6cc0" fill-opacity="0.55"/><circle cx="67.89" cy="310.64" r="0.32" fill="#5b6cc0" fill-opacity="0.55"/><circle cx="104.93" cy="303.47" r="0.32" fill="#5b6cc0" fill-opacity="0.55"/><circle cx="76.96" cy="298.86" r="0.32" fill="#5b6cc0" fill-opacity="0.55"/><circle cx="67.22" cy="276.20" r="0.32" fill="#5b6cc0" fill-opacity="0.55"/><circle cx="104.51" cy="303.15" r="0.32" fill="#5b6cc0" fill-opacity="0.55"/><circle cx="84.78" cy="315.19" r="0.32" fill="#5b6cc0" fill-opacity="0.55"/><circle cx="80.66" cy="312.56" r="0.32" fill="#5b6cc0" fill-opacity="0.55"/><circle cx="98.08" cy="284.55" r="0.32" fill="#5b6cc0" fill-opacity="0.55"/><circle cx="72.58" cy="288.02" r="0.32" fill="#5b6cc0" fill-opacity="0.55"/><circle cx="72.08" cy="300.46" r="0.32" fill="#5b6cc0" fill-opacity="0.55"/><circle cx="72.92" cy="293.37" r="0.32" fill="#5b6cc0" fill-opacity="0.55"/><circle cx="67.22" cy="314.18" r="0.32" fill="#5b6cc0" fill-opacity="0.55"/><circle cx="77.11" cy="295.03" r="0.32" fill="#5b6cc0" fill-opacity="0.55"/><circle cx="87.30" cy="313.94" r="0.32" fill="#5b6cc0" fill-opacity="0.55"/><circle cx="80.08" cy="314.51" r="0.32" fill="#5b6cc0" fill-opacity="0.55"/><circle cx="83.67" cy="298.15" r="0.32" fill="#5b6cc0" fill-opacity="0.55"/><circle cx="84.64" cy="276.39" r="0.32" fill="#5b6cc0" fill-opacity="0.55"/><circle cx="80.94" cy="283.36" r="0.32" fill="#5b6cc0" fill-opacity="0.55"/><circle cx="61.57" cy="309.48" r="0.32" fill="#5b6cc0" fill-opacity="0.55"/><circle cx="69.05" cy="295.68" r="0.32" fill="#5b6cc0" fill-opacity="0.55"/><circle cx="93.60" cy="299.19" r="0.32" fill="#5b6cc0" fill-opacity="0.55"/><circle cx="75.87" cy="297.58" r="0.32" fill="#5b6cc0" fill-opacity="0.55"/><circle cx="86.06" cy="308.85" r="0.32" fill="#5b6cc0" fill-opacity="0.55"/><circle cx="66.11" cy="299.36" r="0.32" fill="#5b6cc0" fill-opacity="0.55"/><circle cx="72.43" cy="287.34" r="0.32" fill="#5b6cc0" fill-opacity="0.55"/><circle cx="95.69" cy="297.13" r="0.32" fill="#5b6cc0" fill-opacity="0.55"/><circle cx="86.34" cy="307.82" r="0.32" fill="#5b6cc0" fill-opacity="0.55"/><circle cx="101.91" cy="294.39" r="0.32" fill="#5b6cc0" fill-opacity="0.55"/><circle cx="88.60" cy="297.04" r="0.32" fill="#5b6cc0" fill-opacity="0.55"/><circle cx="84.14" cy="304.97" r="0.32" fill="#5b6cc0" fill-opacity="0.55"/><circle cx="81.48" cy="298.21" r="0.32" fill="#5b6cc0" fill-opacity="0.55"/><circle cx="82.62" cy="315.52" r="0.32" fill="#5b6cc0" fill-opacity="0.55"/><circle cx="92.45" cy="312.77" r="0.32" fill="#5b6cc0" fill-opacity="0.55"/><circle cx="103.23" cy="286.61" r="0.32" fill="#5b6cc0" fill-opacity="0.55"/><circle cx="86.24" cy="315.59" r="0.32" fill="#5b6cc0" fill-opacity="0.55"/><circle cx="98.70" cy="281.41" r="0.32" fill="#5b6cc0" fill-opacity="0.55"/><circle cx="66.80" cy="294.35" r="0.32" fill="#5b6cc0" fill-opacity="0.55"/><circle cx="64.62" cy="285.80" r="0.32" fill="#5b6cc0" fill-opacity="0.55"/><circle cx="64.65" cy="303.99" r="0.32" fill="#5b6cc0" fill-opacity="0.55"/><circle cx="96.21" cy="313.63" r="0.32" fill="#5b6cc0" fill-opacity="0.55"/><circle cx="68.26" cy="305.96" r="0.32" fill="#5b6cc0" fill-opacity="0.55"/><circle cx="90.72" cy="281.66" r="0.32" fill="#5b6cc0" fill-opacity="0.55"/><circle cx="100.60" cy="316.62" r="0.32" fill="#5b6cc0" fill-opacity="0.55"/><circle cx="71.15" cy="315.99" r="0.32" fill="#5b6cc0" fill-opacity="0.55"/><circle cx="79.08" cy="296.26" r="0.32" fill="#5b6cc0" fill-opacity="0.55"/><circle cx="105.35" cy="310.90" r="0.32" fill="#5b6cc0" fill-opacity="0.55"/><circle cx="68.57" cy="293.90" r="0.32" fill="#5b6cc0" fill-opacity="0.55"/><circle cx="84.29" cy="289.98" r="0.32" fill="#5b6cc0" fill-opacity="0.55"/><circle cx="70.09" cy="289.11" r="0.32" fill="#5b6cc0" fill-opacity="0.55"/><circle cx="93.46" cy="276.43" r="0.32" fill="#5b6cc0" fill-opacity="0.55"/><circle cx="86.00" cy="294.28" r="0.32" fill="#5b6cc0" fill-opacity="0.55"/><circle cx="62.20" cy="289.66" r="0.32" fill="#5b6cc0" fill-opacity="0.55"/><circle cx="89.10" cy="297.32" r="0.32" fill="#5b6cc0" fill-opacity="0.55"/><circle cx="64.25" cy="317.37" r="0.32" fill="#5b6cc0" fill-opacity="0.55"/><circle cx="96.40" cy="316.80" r="0.32" fill="#5b6cc0" fill-opacity="0.55"/><circle cx="66.05" cy="286.86" r="0.32" fill="#5b6cc0" fill-opacity="0.55"/><circle cx="63.16" cy="308.63" r="0.32" fill="#5b6cc0" fill-opacity="0.55"/><circle cx="73.41" cy="281.09" r="0.32" fill="#5b6cc0" fill-opacity="0.55"/><circle cx="80.15" cy="314.24" r="0.32" fill="#5b6cc0" fill-opacity="0.55"/><circle cx="97.76" cy="286.57" r="0.32" fill="#5b6cc0" fill-opacity="0.55"/><circle cx="68.03" cy="314.57" r="0.32" fill="#5b6cc0" fill-opacity="0.55"/><circle cx="86.73" cy="305.30" r="0.32" fill="#5b6cc0" fill-opacity="0.55"/><circle cx="65.37" cy="278.04" r="0.32" fill="#5b6cc0" fill-opacity="0.55"/><circle cx="91.96" cy="293.63" r="0.32" fill="#5b6cc0" fill-opacity="0.55"/><circle cx="64.62" cy="315.39" r="0.32" fill="#5b6cc0" fill-opacity="0.55"/><circle cx="89.57" cy="309.59" r="0.32" fill="#5b6cc0" fill-opacity="0.55"/><circle cx="65.12" cy="311.90" r="0.32" fill="#5b6cc0" fill-opacity="0.55"/><circle cx="64.36" cy="312.18" r="0.32" fill="#5b6cc0" fill-opacity="0.55"/><circle cx="81.55" cy="289.98" r="0.32" fill="#5b6cc0" fill-opacity="0.55"/><circle cx="85.96" cy="314.89" r="0.32" fill="#5b6cc0" fill-opacity="0.55"/><circle cx="73.29" cy="281.08" r="0.32" fill="#5b6cc0" fill-opacity="0.55"/><circle cx="84.80" cy="285.71" r="0.32" fill="#5b6cc0" fill-opacity="0.55"/><circle cx="66.26" cy="282.45" r="0.32" fill="#5b6cc0" fill-opacity="0.55"/><circle cx="63.64" cy="284.15" r="0.32" fill="#5b6cc0" fill-opacity="0.55"/><circle cx="75.25" cy="288.53" r="0.32" fill="#5b6cc0" fill-opacity="0.55"/><circle cx="95.12" cy="287.89" r="0.32" fill="#5b6cc0" fill-opacity="0.55"/><circle cx="83.60" cy="283.14" r="0.32" fill="#5b6cc0" fill-opacity="0.55"/><circle cx="76.81" cy="276.37" r="0.32" fill="#5b6cc0" fill-opacity="0.55"/><circle cx="72.52" cy="276.25" r="0.32" fill="#5b6cc0" fill-opacity="0.55"/><circle cx="93.95" cy="298.96" r="0.32" fill="#5b6cc0" fill-opacity="0.55"/><circle cx="69.81" cy="295.73" r="0.32" fill="#5b6cc0" fill-opacity="0.55"/><circle cx="102.90" cy="280.11" r="0.32" fill="#5b6cc0" fill-opacity="0.55"/><circle cx="97.76" cy="293.92" r="0.32" fill="#5b6cc0" fill-opacity="0.55"/><circle cx="83.38" cy="310.99" r="0.32" fill="#5b6cc0" fill-opacity="0.55"/><circle cx="78.85" cy="297.08" r="0.32" fill="#5b6cc0" fill-opacity="0.55"/><circle cx="91.94" cy="317.26" r="0.32" fill="#5b6cc0" fill-opacity="0.55"/><circle cx="76.62" cy="310.89" r="0.32" fill="#5b6cc0" fill-opacity="0.55"/><circle cx="92.78" cy="302.57" r="0.32" fill="#5b6cc0" fill-opacity="0.55"/><circle cx="79.37" cy="290.34" r="0.32" fill="#5b6cc0" fill-opacity="0.55"/><circle cx="63.81" cy="281.10" r="0.32" fill="#5b6cc0" fill-opacity="0.55"/><circle cx="64.54" cy="307.01" r="0.32" fill="#5b6cc0" fill-opacity="0.55"/><circle cx="72.75" cy="282.52" r="0.32" fill="#5b6cc0" fill-opacity="0.55"/><circle cx="65.15" cy="311.27" r="0.32" fill="#5b6cc0" fill-opacity="0.55"/><circle cx="100.05" cy="304.03" r="0.32" fill="#5b6cc0" fill-opacity="0.55"/><circle cx="73.92" cy="285.87" r="0.32" fill="#5b6cc0" fill-opacity="0.55"/><circle cx="74.41" cy="295.08" r="0.32" fill="#5b6cc0" fill-opacity="0.55"/><circle cx="68.39" cy="294.50" r="0.32" fill="#5b6cc0" fill-opacity="0.55"/><circle cx="73.09" cy="316.38" r="0.32" fill="#5b6cc0" fill-opacity="0.55"/><circle cx="104.58" cy="298.80" r="0.32" fill="#5b6cc0" fill-opacity="0.55"/><circle cx="72.25" cy="316.54" r="0.32" fill="#5b6cc0" fill-opacity="0.55"/><circle cx="75.14" cy="290.72" r="0.32" fill="#5b6cc0" fill-opacity="0.55"/><circle cx="61.45" cy="291.78" r="0.32" fill="#5b6cc0" fill-opacity="0.55"/><circle cx="82.47" cy="296.92" r="0.32" fill="#5b6cc0" fill-opacity="0.55"/><circle cx="70.32" cy="297.00" r="0.32" fill="#5b6cc0" fill-opacity="0.55"/><circle cx="61.62" cy="286.80" r="0.32" fill="#5b6cc0" fill-opacity="0.55"/><circle cx="65.39" cy="292.54" r="0.32" fill="#5b6cc0" fill-opacity="0.55"/><circle cx="63.25" cy="276.55" r="0.32" fill="#5b6cc0" fill-opacity="0.55"/><circle cx="74.91" cy="285.47" r="0.32" fill="#5b6cc0" fill-opacity="0.55"/><circle cx="87.40" cy="298.04" r="0.32" fill="#5b6cc0" fill-opacity="0.55"/><circle cx="94.72" cy="303.48" r="0.32" fill="#5b6cc0" fill-opacity="0.55"/><circle cx="93.19" cy="312.87" r="0.32" fill="#5b6cc0" fill-opacity="0.55"/><circle cx="78.69" cy="289.43" r="0.32" fill="#5b6cc0" fill-opacity="0.55"/><circle cx="105.12" cy="281.94" r="0.32" fill="#5b6cc0" fill-opacity="0.55"/><circle cx="93.55" cy="302.87" r="0.32" fill="#5b6cc0" fill-opacity="0.55"/><circle cx="63.34" cy="311.02" r="0.32" fill="#5b6cc0" fill-opacity="0.55"/><circle cx="101.00" cy="302.20" r="0.32" fill="#5b6cc0" fill-opacity="0.55"/><circle cx="93.98" cy="310.04" r="0.32" fill="#5b6cc0" fill-opacity="0.55"/><circle cx="67.59" cy="297.81" r="0.32" fill="#5b6cc0" fill-opacity="0.55"/><circle cx="83.79" cy="311.00" r="0.32" fill="#5b6cc0" fill-opacity="0.55"/><circle cx="97.13" cy="310.64" r="0.32" fill="#5b6cc0" fill-opacity="0.55"/><circle cx="111.34" cy="303.11" r="0.3" fill="#6a7ac8" fill-opacity="0.6"/><circle cx="112.93" cy="297.72" r="0.3" fill="#6a7ac8" fill-opacity="0.6"/><circle cx="105.68" cy="279.84" r="0.3" fill="#6a7ac8" fill-opacity="0.6"/><circle cx="104.13" cy="288.74" r="0.3" fill="#6a7ac8" fill-opacity="0.6"/><circle cx="103.68" cy="301.57" r="0.3" fill="#6a7ac8" fill-opacity="0.6"/><circle cx="110.94" cy="295.95" r="0.3" fill="#6a7ac8" fill-opacity="0.6"/><circle cx="112.02" cy="297.38" r="0.3" fill="#6a7ac8" fill-opacity="0.6"/><circle cx="109.83" cy="279.09" r="0.3" fill="#6a7ac8" fill-opacity="0.6"/><circle cx="114.76" cy="299.20" r="0.3" fill="#6a7ac8" fill-opacity="0.6"/><circle cx="110.05" cy="293.45" r="0.3" fill="#6a7ac8" fill-opacity="0.6"/><circle cx="112.55" cy="280.78" r="0.3" fill="#6a7ac8" fill-opacity="0.6"/><circle cx="113.79" cy="285.81" r="0.3" fill="#6a7ac8" fill-opacity="0.6"/><circle cx="103.19" cy="286.17" r="0.3" fill="#6a7ac8" fill-opacity="0.6"/><circle cx="113.67" cy="284.54" r="0.3" fill="#6a7ac8" fill-opacity="0.6"/><circle cx="113.84" cy="305.34" r="0.3" fill="#6a7ac8" fill-opacity="0.6"/><circle cx="109.90" cy="289.33" r="0.3" fill="#6a7ac8" fill-opacity="0.6"/><circle cx="109.66" cy="297.46" r="0.3" fill="#6a7ac8" fill-opacity="0.6"/><circle cx="114.27" cy="295.66" r="0.3" fill="#6a7ac8" fill-opacity="0.6"/><circle cx="112.28" cy="281.09" r="0.3" fill="#6a7ac8" fill-opacity="0.6"/><circle cx="104.36" cy="285.86" r="0.3" fill="#6a7ac8" fill-opacity="0.6"/><circle cx="113.89" cy="287.22" r="0.3" fill="#6a7ac8" fill-opacity="0.6"/><circle cx="111.08" cy="279.34" r="0.3" fill="#6a7ac8" fill-opacity="0.6"/><circle cx="102.97" cy="286.26" r="0.3" fill="#6a7ac8" fill-opacity="0.6"/><circle cx="112.75" cy="297.69" r="0.3" fill="#6a7ac8" fill-opacity="0.6"/><circle cx="112.81" cy="286.85" r="0.3" fill="#6a7ac8" fill-opacity="0.6"/><circle cx="110.26" cy="291.55" r="0.3" fill="#6a7ac8" fill-opacity="0.6"/><circle cx="109.46" cy="282.20" r="0.3" fill="#6a7ac8" fill-opacity="0.6"/><circle cx="116.30" cy="284.38" r="0.3" fill="#6a7ac8" fill-opacity="0.6"/><path d="M72.40,276.50 C72.40,275.53 74.07,273.87 76.00,272.50 C77.93,271.13 80.83,269.52 84.00,268.30 C87.17,267.08 91.33,265.88 95.00,265.20 C98.67,264.52 102.75,264.33 106.00,264.20 C109.25,264.07 112.20,263.93 114.50,264.40 C116.80,264.87 118.92,265.82 119.80,267.00 C120.68,268.18 121.10,270.23 119.80,271.50 C118.50,272.77 115.63,273.78 112.00,274.60 C108.37,275.42 102.33,275.87 98.00,276.40 C93.67,276.93 89.67,277.48 86.00,277.80 C82.33,278.12 78.27,278.52 76.00,278.30 C73.73,278.08 72.40,277.47 72.40,276.50 Z" fill="#3750aa" stroke="#5d72c0" stroke-width="1.8"/><path d="M65.60,279.80 C68.03,277.23 75.60,279.63 80.00,279.60 C84.40,279.57 88.67,279.45 92.00,279.60 C95.33,279.75 98.37,279.77 100.00,280.50 C101.63,281.23 101.63,282.08 101.80,284.00 C101.97,285.92 101.55,289.17 101.00,292.00 C100.45,294.83 99.58,298.50 98.50,301.00 C97.42,303.50 96.58,305.25 94.50,307.00 C92.42,308.75 89.08,310.37 86.00,311.50 C82.92,312.63 78.92,313.38 76.00,313.80 C73.08,314.22 70.23,314.47 68.50,314.00 C66.77,313.53 66.12,314.17 65.60,311.00 C65.08,307.83 65.40,300.20 65.40,295.00 C65.40,289.80 63.17,282.37 65.60,279.80 Z" fill="#3750aa" stroke="#5d72c0" stroke-width="1.8"/></g></g><g clip-path="url(#c3)"><g filter="url(#bl4)"><path d="M72.00,285.50 C73.12,283.93 74.83,283.90 77.00,283.60 C79.17,283.30 82.40,283.53 85.00,283.70 C87.60,283.87 91.37,283.63 92.60,284.60 C93.83,285.57 92.83,287.80 92.40,289.50 C91.97,291.20 91.32,293.25 90.00,294.80 C88.68,296.35 86.08,297.63 84.50,298.80 C82.92,299.97 81.50,300.60 80.50,301.80 C79.50,303.00 79.50,304.87 78.50,306.00 C77.50,307.13 75.75,308.40 74.50,308.60 C73.25,308.80 71.78,308.30 71.00,307.20 C70.22,306.10 69.92,304.37 69.80,302.00 C69.68,299.63 69.93,295.75 70.30,293.00 C70.67,290.25 70.88,287.07 72.00,285.50 Z" fill="#2fb8e6" fill-opacity="1.0"/><path d="M73.00,286.75 C73.92,285.38 75.49,285.42 77.38,285.15 C79.27,284.89 82.02,285.08 84.35,285.16 C86.68,285.24 90.28,284.79 91.38,285.63 C92.47,286.46 91.44,288.63 90.95,290.17 C90.45,291.71 89.69,293.60 88.40,294.88 C87.11,296.16 84.56,296.95 83.22,297.84 C81.88,298.73 81.09,299.11 80.34,300.21 C79.59,301.30 79.58,303.26 78.70,304.41 C77.83,305.56 76.22,306.87 75.10,307.12 C73.97,307.37 72.62,306.92 71.96,305.92 C71.29,304.92 71.15,303.20 71.13,301.11 C71.12,299.02 71.54,295.77 71.85,293.38 C72.17,290.98 72.08,288.12 73.00,286.75 Z" fill="#7cc144" fill-opacity="1.0"/><ellipse cx="97.00" cy="272.40" rx="13.80" ry="3.10" transform="rotate(-5 97.00 272.40)" fill="#2fb8e6" fill-opacity="1.0"/><ellipse cx="97.50" cy="272.50" rx="11.20" ry="1.70" transform="rotate(-5 97.50 272.50)" fill="#7cc144" fill-opacity="1.0"/><ellipse cx="91.40" cy="272.40" rx="1.60" ry="0.90" transform="rotate(0 91.40 272.40)" fill="#c8d92e" fill-opacity="1.0"/><ellipse cx="83.60" cy="291.80" rx="5.80" ry="4.30" transform="rotate(-25 83.60 291.80)" fill="#f5e51e" fill-opacity="1.0"/><ellipse cx="83.90" cy="291.90" rx="4.60" ry="3.20" transform="rotate(-22 83.90 291.90)" fill="#f59a23" fill-opacity="1.0"/><ellipse cx="84.10" cy="292.00" rx="3.60" ry="2.40" transform="rotate(-20 84.10 292.00)" fill="#e3201f" fill-opacity="1.0"/><ellipse cx="74.20" cy="302.80" rx="1.60" ry="1.60" transform="rotate(0 74.20 302.80)" fill="#a9d23a" fill-opacity="1.0"/></g></g><g clip-path="url(#c4)"><g filter="url(#bl9)"><path d="M74.70,368.80 C75.03,367.80 76.95,365.83 79.00,364.50 C81.05,363.17 84.00,361.83 87.00,360.80 C90.00,359.77 93.67,358.83 97.00,358.30 C100.33,357.77 104.17,357.60 107.00,357.60 C109.83,357.60 112.25,357.73 114.00,358.30 C115.75,358.87 117.25,360.05 117.50,361.00 C117.75,361.95 117.42,363.00 115.50,364.00 C113.58,365.00 109.42,366.13 106.00,367.00 C102.58,367.87 98.67,368.60 95.00,369.20 C91.33,369.80 87.00,370.38 84.00,370.60 C81.00,370.82 78.55,370.80 77.00,370.50 C75.45,370.20 74.37,369.80 74.70,368.80 Z" fill="#8390cc" stroke="#8390cc" stroke-width="2.2"/><path d="M65.60,372.00 C68.03,369.30 75.60,371.83 80.00,371.80 C84.40,371.77 88.67,371.63 92.00,371.80 C95.33,371.97 98.50,371.93 100.00,372.80 C101.50,373.67 101.08,374.80 101.00,377.00 C100.92,379.20 100.25,383.25 99.50,386.00 C98.75,388.75 97.92,391.25 96.50,393.50 C95.08,395.75 93.42,397.58 91.00,399.50 C88.58,401.42 85.17,403.68 82.00,405.00 C78.83,406.32 74.42,407.00 72.00,407.40 C69.58,407.80 68.57,407.97 67.50,407.40 C66.43,406.83 65.95,407.23 65.60,404.00 C65.25,400.77 65.40,393.33 65.40,388.00 C65.40,382.67 63.17,374.70 65.60,372.00 Z" fill="#8390cc" stroke="#8390cc" stroke-width="2.2"/></g></g><g clip-path="url(#c5)"><g filter="url(#texb)"><circle cx="118.95" cy="371.95" r="0.32" fill="#5b6cc0" fill-opacity="0.55"/><circle cx="73.04" cy="363.36" r="0.32" fill="#5b6cc0" fill-opacity="0.55"/><circle cx="111.39" cy="372.53" r="0.32" fill="#5b6cc0" fill-opacity="0.55"/><circle cx="93.68" cy="359.94" r="0.32" fill="#5b6cc0" fill-opacity="0.55"/><circle cx="82.23" cy="372.12" r="0.32" fill="#5b6cc0" fill-opacity="0.55"/><circle cx="82.27" cy="365.57" r="0.32" fill="#5b6cc0" fill-opacity="0.55"/><circle cx="78.98" cy="364.53" r="0.32" fill="#5b6cc0" fill-opacity="0.55"/><circle cx="117.74" cy="357.49" r="0.32" fill="#5b6cc0" fill-opacity="0.55"/><circle cx="111.41" cy="364.26" r="0.32" fill="#5b6cc0" fill-opacity="0.55"/><circle cx="114.59" cy="367.76" r="0.32" fill="#5b6cc0" fill-opacity="0.55"/><circle cx="83.26" cy="371.26" r="0.32" fill="#5b6cc0" fill-opacity="0.55"/><circle cx="95.44" cy="355.55" r="0.32" fill="#5b6cc0" fill-opacity="0.55"/><circle cx="72.37" cy="363.95" r="0.32" fill="#5b6cc0" fill-opacity="0.55"/><circle cx="93.75" cy="360.54" r="0.32" fill="#5b6cc0" fill-opacity="0.55"/><circle cx="78.93" cy="361.29" r="0.32" fill="#5b6cc0" fill-opacity="0.55"/><circle cx="87.31" cy="370.22" r="0.32" fill="#5b6cc0" fill-opacity="0.55"/><circle cx="72.28" cy="368.61" r="0.32" fill="#5b6cc0" fill-opacity="0.55"/><circle cx="112.31" cy="357.26" r="0.32" fill="#5b6cc0" fill-opacity="0.55"/><circle cx="116.48" cy="367.93" r="0.32" fill="#5b6cc0" fill-opacity="0.55"/><circle cx="115.29" cy="360.32" r="0.32" fill="#5b6cc0" fill-opacity="0.55"/><circle cx="89.99" cy="362.17" r="0.32" fill="#5b6cc0" fill-opacity="0.55"/><circle cx="119.94" cy="365.71" r="0.32" fill="#5b6cc0" fill-opacity="0.55"/><circle cx="89.44" cy="362.80" r="0.32" fill="#5b6cc0" fill-opacity="0.55"/><circle cx="85.35" cy="355.97" r="0.32" fill="#5b6cc0" fill-opacity="0.55"/><circle cx="77.06" cy="370.12" r="0.32" fill="#5b6cc0" fill-opacity="0.55"/><circle cx="85.85" cy="371.94" r="0.32" fill="#5b6cc0" fill-opacity="0.55"/><circle cx="84.12" cy="359.88" r="0.32" fill="#5b6cc0" fill-opacity="0.55"/><circle cx="96.62" cy="358.52" r="0.32" fill="#5b6cc0" fill-opacity="0.55"/><circle cx="90.05" cy="372.31" r="0.32" fill="#5b6cc0" fill-opacity="0.55"/><circle cx="114.47" cy="369.72" r="0.32" fill="#5b6cc0" fill-opacity="0.55"/><circle cx="102.36" cy="371.54" r="0.32" fill="#5b6cc0" fill-opacity="0.55"/><circle cx="117.17" cy="364.99" r="0.32" fill="#5b6cc0" fill-opacity="0.55"/><circle cx="106.60" cy="355.99" r="0.32" fill="#5b6cc0" fill-opacity="0.55"/><circle cx="107.21" cy="363.22" r="0.32" fill="#5b6cc0" fill-opacity="0.55"/><circle cx="108.18" cy="366.70" r="0.32" fill="#5b6cc0" fill-opacity="0.55"/><circle cx="85.88" cy="355.98" r="0.32" fill="#5b6cc0" fill-opacity="0.55"/><circle cx="116.50" cy="357.39" r="0.32" fill="#5b6cc0" fill-opacity="0.55"/><circle cx="94.77" cy="361.29" r="0.32" fill="#5b6cc0" fill-opacity="0.55"/><circle cx="86.43" cy="368.40" r="0.32" fill="#5b6cc0" fill-opacity="0.55"/><circle cx="118.87" cy="359.78" r="0.32" fill="#5b6cc0" fill-opacity="0.55"/><circle cx="103.56" cy="360.52" r="0.32" fill="#5b6cc0" fill-opacity="0.55"/><circle cx="98.84" cy="362.20" r="0.32" fill="#5b6cc0" fill-opacity="0.55"/><circle cx="80.20" cy="358.01" r="0.32" fill="#5b6cc0" fill-opacity="0.55"/><circle cx="82.14" cy="371.41" r="0.32" fill="#5b6cc0" fill-opacity="0.55"/><circle cx="95.96" cy="359.06" r="0.32" fill="#5b6cc0" fill-opacity="0.55"/><circle cx="115.52" cy="373.04" r="0.32" fill="#5b6cc0" fill-opacity="0.55"/><circle cx="93.71" cy="357.61" r="0.32" fill="#5b6cc0" fill-opacity="0.55"/><circle cx="81.40" cy="356.73" r="0.32" fill="#5b6cc0" fill-opacity="0.55"/><circle cx="88.55" cy="356.74" r="0.32" fill="#5b6cc0" fill-opacity="0.55"/><circle cx="83.63" cy="359.75" r="0.32" fill="#5b6cc0" fill-opacity="0.55"/><circle cx="99.43" cy="371.07" r="0.32" fill="#5b6cc0" fill-opacity="0.55"/><circle cx="108.03" cy="362.53" r="0.32" fill="#5b6cc0" fill-opacity="0.55"/><circle cx="91.98" cy="364.54" r="0.32" fill="#5b6cc0" fill-opacity="0.55"/><circle cx="90.21" cy="361.19" r="0.32" fill="#5b6cc0" fill-opacity="0.55"/><circle cx="75.17" cy="360.10" r="0.32" fill="#5b6cc0" fill-opacity="0.55"/><circle cx="118.46" cy="357.37" r="0.32" fill="#5b6cc0" fill-opacity="0.55"/><circle cx="96.26" cy="366.43" r="0.32" fill="#5b6cc0" fill-opacity="0.55"/><circle cx="113.44" cy="358.99" r="0.32" fill="#5b6cc0" fill-opacity="0.55"/><circle cx="85.15" cy="359.57" r="0.32" fill="#5b6cc0" fill-opacity="0.55"/><circle cx="91.31" cy="363.13" r="0.32" fill="#5b6cc0" fill-opacity="0.55"/><circle cx="117.80" cy="370.38" r="0.32" fill="#5b6cc0" fill-opacity="0.55"/><circle cx="113.92" cy="355.49" r="0.32" fill="#5b6cc0" fill-opacity="0.55"/><circle cx="73.74" cy="367.87" r="0.32" fill="#5b6cc0" fill-opacity="0.55"/><circle cx="115.01" cy="363.62" r="0.32" fill="#5b6cc0" fill-opacity="0.55"/><circle cx="100.27" cy="355.10" r="0.32" fill="#5b6cc0" fill-opacity="0.55"/><circle cx="90.91" cy="371.78" r="0.32" fill="#5b6cc0" fill-opacity="0.55"/><circle cx="111.66" cy="370.50" r="0.32" fill="#5b6cc0" fill-opacity="0.55"/><circle cx="118.67" cy="359.57" r="0.32" fill="#5b6cc0" fill-opacity="0.55"/><circle cx="77.41" cy="357.88" r="0.32" fill="#5b6cc0" fill-opacity="0.55"/><circle cx="97.17" cy="367.38" r="0.32" fill="#5b6cc0" fill-opacity="0.55"/><circle cx="102.45" cy="399.27" r="0.32" fill="#5b6cc0" fill-opacity="0.55"/><circle cx="89.62" cy="401.15" r="0.32" fill="#5b6cc0" fill-opacity="0.55"/><circle cx="81.34" cy="391.85" r="0.32" fill="#5b6cc0" fill-opacity="0.55"/><circle cx="63.12" cy="401.91" r="0.32" fill="#5b6cc0" fill-opacity="0.55"/><circle cx="71.54" cy="407.91" r="0.32" fill="#5b6cc0" fill-opacity="0.55"/><circle cx="89.54" cy="381.04" r="0.32" fill="#5b6cc0" fill-opacity="0.55"/><circle cx="66.98" cy="378.78" r="0.32" fill="#5b6cc0" fill-opacity="0.55"/><circle cx="89.14" cy="398.26" r="0.32" fill="#5b6cc0" fill-opacity="0.55"/><circle cx="66.29" cy="370.87" r="0.32" fill="#5b6cc0" fill-opacity="0.55"/><circle cx="84.27" cy="393.21" r="0.32" fill="#5b6cc0" fill-opacity="0.55"/><circle cx="78.32" cy="377.55" r="0.32" fill="#5b6cc0" fill-opacity="0.55"/><circle cx="87.61" cy="368.26" r="0.32" fill="#5b6cc0" fill-opacity="0.55"/><circle cx="74.55" cy="387.89" r="0.32" fill="#5b6cc0" fill-opacity="0.55"/><circle cx="103.21" cy="395.90" r="0.32" fill="#5b6cc0" fill-opacity="0.55"/><circle cx="99.93" cy="388.52" r="0.32" fill="#5b6cc0" fill-opacity="0.55"/><circle cx="71.64" cy="378.57" r="0.32" fill="#5b6cc0" fill-opacity="0.55"/><circle cx="103.28" cy="398.52" r="0.32" fill="#5b6cc0" fill-opacity="0.55"/><circle cx="74.80" cy="368.75" r="0.32" fill="#5b6cc0" fill-opacity="0.55"/><circle cx="83.13" cy="397.21" r="0.32" fill="#5b6cc0" fill-opacity="0.55"/><circle cx="79.71" cy="379.02" r="0.32" fill="#5b6cc0" fill-opacity="0.55"/><circle cx="90.50" cy="408.14" r="0.32" fill="#5b6cc0" fill-opacity="0.55"/><circle cx="71.29" cy="369.29" r="0.32" fill="#5b6cc0" fill-opacity="0.55"/><circle cx="76.14" cy="386.14" r="0.32" fill="#5b6cc0" fill-opacity="0.55"/><circle cx="91.16" cy="376.44" r="0.32" fill="#5b6cc0" fill-opacity="0.55"/><circle cx="96.15" cy="400.03" r="0.32" fill="#5b6cc0" fill-opacity="0.55"/><circle cx="83.41" cy="376.75" r="0.32" fill="#5b6cc0" fill-opacity="0.55"/><circle cx="103.69" cy="381.39" r="0.32" fill="#5b6cc0" fill-opacity="0.55"/><circle cx="97.15" cy="377.86" r="0.32" fill="#5b6cc0" fill-opacity="0.55"/><circle cx="71.05" cy="400.96" r="0.32" fill="#5b6cc0" fill-opacity="0.55"/><circle cx="74.26" cy="409.30" r="0.32" fill="#5b6cc0" fill-opacity="0.55"/><circle cx="83.02" cy="375.97" r="0.32" fill="#5b6cc0" fill-opacity="0.55"/><circle cx="71.14" cy="385.98" r="0.32" fill="#5b6cc0" fill-opacity="0.55"/><circle cx="90.41" cy="409.17" r="0.32" fill="#5b6cc0" fill-opacity="0.55"/><circle cx="67.78" cy="384.95" r="0.32" fill="#5b6cc0" fill-opacity="0.55"/><circle cx="70.68" cy="410.27" r="0.32" fill="#5b6cc0" fill-opacity="0.55"/><circle cx="67.59" cy="370.06" r="0.32" fill="#5b6cc0" fill-opacity="0.55"/><circle cx="64.02" cy="384.95" r="0.32" fill="#5b6cc0" fill-opacity="0.55"/><circle cx="100.56" cy="406.32" r="0.32" fill="#5b6cc0" fill-opacity="0.55"/><circle cx="93.35" cy="411.29" r="0.32" fill="#5b6cc0" fill-opacity="0.55"/><circle cx="102.02" cy="382.15" r="0.32" fill="#5b6cc0" fill-opacity="0.55"/><circle cx="69.49" cy="408.60" r="0.32" fill="#5b6cc0" fill-opacity="0.55"/><circle cx="93.94" cy="369.19" r="0.32" fill="#5b6cc0" fill-opacity="0.55"/><circle cx="90.37" cy="384.31" r="0.32" fill="#5b6cc0" fill-opacity="0.55"/><circle cx="77.70" cy="382.26" r="0.32" fill="#5b6cc0" fill-opacity="0.55"/><circle cx="68.78" cy="367.93" r="0.32" fill="#5b6cc0" fill-opacity="0.55"/><circle cx="73.60" cy="383.12" r="0.32" fill="#5b6cc0" fill-opacity="0.55"/><circle cx="103.06" cy="373.19" r="0.32" fill="#5b6cc0" fill-opacity="0.55"/><circle cx="103.44" cy="376.84" r="0.32" fill="#5b6cc0" fill-opacity="0.55"/><circle cx="76.95" cy="403.62" r="0.32" fill="#5b6cc0" fill-opacity="0.55"/><circle cx="97.24" cy="386.65" r="0.32" fill="#5b6cc0" fill-opacity="0.55"/><circle cx="63.55" cy="388.44" r="0.32" fill="#5b6cc0" fill-opacity="0.55"/><circle cx="77.65" cy="407.89" r="0.32" fill="#5b6cc0" fill-opacity="0.55"/><circle cx="69.82" cy="383.68" r="0.32" fill="#5b6cc0" fill-opacity="0.55"/><circle cx="100.51" cy="369.12" r="0.32" fill="#5b6cc0" fill-opacity="0.55"/><circle cx="79.31" cy="403.20" r="0.32" fill="#5b6cc0" fill-opacity="0.55"/><circle cx="94.83" cy="369.57" r="0.32" fill="#5b6cc0" fill-opacity="0.55"/><circle cx="62.92" cy="370.53" r="0.32" fill="#5b6cc0" fill-opacity="0.55"/><circle cx="101.52" cy="379.01" r="0.32" fill="#5b6cc0" fill-opacity="0.55"/><circle cx="93.98" cy="406.98" r="0.32" fill="#5b6cc0" fill-opacity="0.55"/><circle cx="76.18" cy="379.67" r="0.32" fill="#5b6cc0" fill-opacity="0.55"/><circle cx="103.16" cy="394.70" r="0.32" fill="#5b6cc0" fill-opacity="0.55"/><circle cx="72.83" cy="399.05" r="0.32" fill="#5b6cc0" fill-opacity="0.55"/><circle cx="75.20" cy="379.82" r="0.32" fill="#5b6cc0" fill-opacity="0.55"/><circle cx="61.56" cy="400.75" r="0.32" fill="#5b6cc0" fill-opacity="0.55"/><circle cx="101.36" cy="395.44" r="0.32" fill="#5b6cc0" fill-opacity="0.55"/><circle cx="102.53" cy="368.86" r="0.32" fill="#5b6cc0" fill-opacity="0.55"/><circle cx="71.60" cy="388.52" r="0.32" fill="#5b6cc0" fill-opacity="0.55"/><circle cx="103.12" cy="409.39" r="0.32" fill="#5b6cc0" fill-opacity="0.55"/><circle cx="78.25" cy="378.75" r="0.32" fill="#5b6cc0" fill-opacity="0.55"/><circle cx="80.15" cy="389.32" r="0.32" fill="#5b6cc0" fill-opacity="0.55"/><circle cx="101.87" cy="375.78" r="0.32" fill="#5b6cc0" fill-opacity="0.55"/><circle cx="96.39" cy="400.00" r="0.32" fill="#5b6cc0" fill-opacity="0.55"/><circle cx="97.27" cy="401.49" r="0.32" fill="#5b6cc0" fill-opacity="0.55"/><circle cx="87.88" cy="382.09" r="0.32" fill="#5b6cc0" fill-opacity="0.55"/><circle cx="75.33" cy="383.58" r="0.32" fill="#5b6cc0" fill-opacity="0.55"/><circle cx="95.51" cy="371.25" r="0.32" fill="#5b6cc0" fill-opacity="0.55"/><circle cx="70.00" cy="400.63" r="0.32" fill="#5b6cc0" fill-opacity="0.55"/><circle cx="72.18" cy="370.62" r="0.32" fill="#5b6cc0" fill-opacity="0.55"/><circle cx="62.88" cy="391.89" r="0.32" fill="#5b6cc0" fill-opacity="0.55"/><circle cx="75.60" cy="410.54" r="0.32" fill="#5b6cc0" fill-opacity="0.55"/><circle cx="99.92" cy="410.87" r="0.32" fill="#5b6cc0" fill-opacity="0.55"/><circle cx="72.95" cy="371.47" r="0.32" fill="#5b6cc0" fill-opacity="0.55"/><circle cx="65.60" cy="389.53" r="0.32" fill="#5b6cc0" fill-opacity="0.55"/><circle cx="92.35" cy="387.29" r="0.32" fill="#5b6cc0" fill-opacity="0.55"/><circle cx="71.61" cy="385.97" r="0.32" fill="#5b6cc0" fill-opacity="0.55"/><circle cx="88.45" cy="397.19" r="0.32" fill="#5b6cc0" fill-opacity="0.55"/><circle cx="94.01" cy="404.73" r="0.32" fill="#5b6cc0" fill-opacity="0.55"/><circle cx="90.37" cy="373.08" r="0.32" fill="#5b6cc0" fill-opacity="0.55"/><circle cx="98.06" cy="380.61" r="0.32" fill="#5b6cc0" fill-opacity="0.55"/><circle cx="86.12" cy="384.06" r="0.32" fill="#5b6cc0" fill-opacity="0.55"/><circle cx="93.58" cy="376.48" r="0.32" fill="#5b6cc0" fill-opacity="0.55"/><circle cx="72.19" cy="378.50" r="0.32" fill="#5b6cc0" fill-opacity="0.55"/><circle cx="68.08" cy="406.35" r="0.32" fill="#5b6cc0" fill-opacity="0.55"/><circle cx="86.61" cy="382.03" r="0.32" fill="#5b6cc0" fill-opacity="0.55"/><circle cx="78.67" cy="411.07" r="0.32" fill="#5b6cc0" fill-opacity="0.55"/><circle cx="83.52" cy="377.89" r="0.32" fill="#5b6cc0" fill-opacity="0.55"/><circle cx="96.65" cy="396.29" r="0.32" fill="#5b6cc0" fill-opacity="0.55"/><circle cx="104.61" cy="372.26" r="0.32" fill="#5b6cc0" fill-opacity="0.55"/><circle cx="82.10" cy="403.51" r="0.32" fill="#5b6cc0" fill-opacity="0.55"/><circle cx="98.05" cy="407.67" r="0.32" fill="#5b6cc0" fill-opacity="0.55"/><circle cx="63.16" cy="380.60" r="0.32" fill="#5b6cc0" fill-opacity="0.55"/><circle cx="66.60" cy="376.07" r="0.32" fill="#5b6cc0" fill-opacity="0.55"/><circle cx="103.82" cy="393.23" r="0.32" fill="#5b6cc0" fill-opacity="0.55"/><circle cx="101.96" cy="384.03" r="0.32" fill="#5b6cc0" fill-opacity="0.55"/><circle cx="99.16" cy="387.38" r="0.32" fill="#5b6cc0" fill-opacity="0.55"/><circle cx="72.73" cy="401.71" r="0.32" fill="#5b6cc0" fill-opacity="0.55"/><circle cx="102.63" cy="372.41" r="0.32" fill="#5b6cc0" fill-opacity="0.55"/><circle cx="87.39" cy="394.83" r="0.32" fill="#5b6cc0" fill-opacity="0.55"/><circle cx="70.89" cy="383.88" r="0.32" fill="#5b6cc0" fill-opacity="0.55"/><circle cx="67.56" cy="376.69" r="0.32" fill="#5b6cc0" fill-opacity="0.55"/><circle cx="72.51" cy="393.93" r="0.32" fill="#5b6cc0" fill-opacity="0.55"/><circle cx="89.81" cy="376.67" r="0.32" fill="#5b6cc0" fill-opacity="0.55"/><circle cx="61.90" cy="382.07" r="0.32" fill="#5b6cc0" fill-opacity="0.55"/><circle cx="90.97" cy="375.87" r="0.32" fill="#5b6cc0" fill-opacity="0.55"/><circle cx="75.01" cy="376.67" r="0.32" fill="#5b6cc0" fill-opacity="0.55"/><circle cx="96.07" cy="391.69" r="0.32" fill="#5b6cc0" fill-opacity="0.55"/><circle cx="64.16" cy="372.22" r="0.32" fill="#5b6cc0" fill-opacity="0.55"/><circle cx="78.63" cy="391.79" r="0.32" fill="#5b6cc0" fill-opacity="0.55"/><circle cx="89.27" cy="371.77" r="0.32" fill="#5b6cc0" fill-opacity="0.55"/><circle cx="68.54" cy="398.12" r="0.32" fill="#5b6cc0" fill-opacity="0.55"/><circle cx="79.27" cy="380.15" r="0.32" fill="#5b6cc0" fill-opacity="0.55"/><circle cx="74.81" cy="409.36" r="0.32" fill="#5b6cc0" fill-opacity="0.55"/><circle cx="75.02" cy="392.50" r="0.32" fill="#5b6cc0" fill-opacity="0.55"/><circle cx="76.97" cy="385.96" r="0.32" fill="#5b6cc0" fill-opacity="0.55"/><circle cx="99.08" cy="411.25" r="0.32" fill="#5b6cc0" fill-opacity="0.55"/><circle cx="77.26" cy="376.40" r="0.32" fill="#5b6cc0" fill-opacity="0.55"/><circle cx="93.14" cy="376.68" r="0.32" fill="#5b6cc0" fill-opacity="0.55"/><circle cx="61.66" cy="407.11" r="0.32" fill="#5b6cc0" fill-opacity="0.55"/><circle cx="79.88" cy="403.57" r="0.32" fill="#5b6cc0" fill-opacity="0.55"/><circle cx="79.11" cy="406.29" r="0.32" fill="#5b6cc0" fill-opacity="0.55"/><circle cx="81.50" cy="374.89" r="0.32" fill="#5b6cc0" fill-opacity="0.55"/><circle cx="62.05" cy="391.85" r="0.32" fill="#5b6cc0" fill-opacity="0.55"/><circle cx="89.33" cy="407.47" r="0.32" fill="#5b6cc0" fill-opacity="0.55"/><circle cx="65.28" cy="394.93" r="0.32" fill="#5b6cc0" fill-opacity="0.55"/><circle cx="77.57" cy="389.79" r="0.32" fill="#5b6cc0" fill-opacity="0.55"/><circle cx="67.76" cy="380.15" r="0.32" fill="#5b6cc0" fill-opacity="0.55"/><circle cx="84.12" cy="408.15" r="0.32" fill="#5b6cc0" fill-opacity="0.55"/><circle cx="66.14" cy="389.19" r="0.32" fill="#5b6cc0" fill-opacity="0.55"/><circle cx="96.49" cy="409.96" r="0.32" fill="#5b6cc0" fill-opacity="0.55"/><circle cx="70.00" cy="373.32" r="0.32" fill="#5b6cc0" fill-opacity="0.55"/><circle cx="102.52" cy="410.33" r="0.32" fill="#5b6cc0" fill-opacity="0.55"/><circle cx="82.45" cy="370.13" r="0.32" fill="#5b6cc0" fill-opacity="0.55"/><circle cx="101.78" cy="384.71" r="0.32" fill="#5b6cc0" fill-opacity="0.55"/><circle cx="100.82" cy="394.85" r="0.32" fill="#5b6cc0" fill-opacity="0.55"/><circle cx="97.35" cy="374.79" r="0.32" fill="#5b6cc0" fill-opacity="0.55"/><circle cx="95.66" cy="377.48" r="0.32" fill="#5b6cc0" fill-opacity="0.55"/><circle cx="79.04" cy="404.70" r="0.32" fill="#5b6cc0" fill-opacity="0.55"/><circle cx="97.55" cy="375.78" r="0.32" fill="#5b6cc0" fill-opacity="0.55"/><circle cx="70.91" cy="385.23" r="0.32" fill="#5b6cc0" fill-opacity="0.55"/><circle cx="83.98" cy="384.52" r="0.32" fill="#5b6cc0" fill-opacity="0.55"/><circle cx="66.77" cy="378.57" r="0.32" fill="#5b6cc0" fill-opacity="0.55"/><circle cx="93.00" cy="406.92" r="0.32" fill="#5b6cc0" fill-opacity="0.55"/><circle cx="63.19" cy="392.32" r="0.32" fill="#5b6cc0" fill-opacity="0.55"/><circle cx="94.43" cy="369.46" r="0.32" fill="#5b6cc0" fill-opacity="0.55"/><circle cx="97.95" cy="372.93" r="0.32" fill="#5b6cc0" fill-opacity="0.55"/><circle cx="87.54" cy="391.78" r="0.32" fill="#5b6cc0" fill-opacity="0.55"/><circle cx="88.74" cy="381.15" r="0.32" fill="#5b6cc0" fill-opacity="0.55"/><circle cx="79.72" cy="393.20" r="0.32" fill="#5b6cc0" fill-opacity="0.55"/><circle cx="79.96" cy="396.53" r="0.32" fill="#5b6cc0" fill-opacity="0.55"/><circle cx="80.88" cy="386.91" r="0.32" fill="#5b6cc0" fill-opacity="0.55"/><circle cx="102.37" cy="388.01" r="0.3" fill="#6a7ac8" fill-opacity="0.6"/><circle cx="109.83" cy="377.65" r="0.3" fill="#6a7ac8" fill-opacity="0.6"/><circle cx="114.22" cy="392.36" r="0.3" fill="#6a7ac8" fill-opacity="0.6"/><circle cx="109.33" cy="376.15" r="0.3" fill="#6a7ac8" fill-opacity="0.6"/><circle cx="109.57" cy="374.19" r="0.3" fill="#6a7ac8" fill-opacity="0.6"/><circle cx="104.06" cy="382.93" r="0.3" fill="#6a7ac8" fill-opacity="0.6"/><circle cx="103.47" cy="383.23" r="0.3" fill="#6a7ac8" fill-opacity="0.6"/><circle cx="110.16" cy="372.40" r="0.3" fill="#6a7ac8" fill-opacity="0.6"/><circle cx="112.18" cy="373.52" r="0.3" fill="#6a7ac8" fill-opacity="0.6"/><circle cx="113.74" cy="392.30" r="0.3" fill="#6a7ac8" fill-opacity="0.6"/><circle cx="110.18" cy="372.77" r="0.3" fill="#6a7ac8" fill-opacity="0.6"/><circle cx="110.06" cy="381.50" r="0.3" fill="#6a7ac8" fill-opacity="0.6"/><circle cx="117.21" cy="374.98" r="0.3" fill="#6a7ac8" fill-opacity="0.6"/><circle cx="115.71" cy="398.20" r="0.3" fill="#6a7ac8" fill-opacity="0.6"/><circle cx="113.71" cy="393.30" r="0.3" fill="#6a7ac8" fill-opacity="0.6"/><circle cx="105.10" cy="397.81" r="0.3" fill="#6a7ac8" fill-opacity="0.6"/><circle cx="109.87" cy="397.13" r="0.3" fill="#6a7ac8" fill-opacity="0.6"/><circle cx="116.66" cy="375.76" r="0.3" fill="#6a7ac8" fill-opacity="0.6"/><circle cx="114.61" cy="396.43" r="0.3" fill="#6a7ac8" fill-opacity="0.6"/><circle cx="103.05" cy="380.77" r="0.3" fill="#6a7ac8" fill-opacity="0.6"/><circle cx="114.10" cy="375.59" r="0.3" fill="#6a7ac8" fill-opacity="0.6"/><circle cx="116.34" cy="378.72" r="0.3" fill="#6a7ac8" fill-opacity="0.6"/><circle cx="115.05" cy="375.18" r="0.3" fill="#6a7ac8" fill-opacity="0.6"/><circle cx="110.04" cy="396.14" r="0.3" fill="#6a7ac8" fill-opacity="0.6"/><circle cx="105.33" cy="378.40" r="0.3" fill="#6a7ac8" fill-opacity="0.6"/><circle cx="110.10" cy="379.92" r="0.3" fill="#6a7ac8" fill-opacity="0.6"/><circle cx="102.59" cy="376.22" r="0.3" fill="#6a7ac8" fill-opacity="0.6"/><circle cx="104.58" cy="396.58" r="0.3" fill="#6a7ac8" fill-opacity="0.6"/><path d="M74.70,368.80 C75.03,367.80 76.95,365.83 79.00,364.50 C81.05,363.17 84.00,361.83 87.00,360.80 C90.00,359.77 93.67,358.83 97.00,358.30 C100.33,357.77 104.17,357.60 107.00,357.60 C109.83,357.60 112.25,357.73 114.00,358.30 C115.75,358.87 117.25,360.05 117.50,361.00 C117.75,361.95 117.42,363.00 115.50,364.00 C113.58,365.00 109.42,366.13 106.00,367.00 C102.58,367.87 98.67,368.60 95.00,369.20 C91.33,369.80 87.00,370.38 84.00,370.60 C81.00,370.82 78.55,370.80 77.00,370.50 C75.45,370.20 74.37,369.80 74.70,368.80 Z" fill="#3750aa" stroke="#5d72c0" stroke-width="1.8"/><path d="M65.60,372.00 C68.03,369.30 75.60,371.83 80.00,371.80 C84.40,371.77 88.67,371.63 92.00,371.80 C95.33,371.97 98.50,371.93 100.00,372.80 C101.50,373.67 101.08,374.80 101.00,377.00 C100.92,379.20 100.25,383.25 99.50,386.00 C98.75,388.75 97.92,391.25 96.50,393.50 C95.08,395.75 93.42,397.58 91.00,399.50 C88.58,401.42 85.17,403.68 82.00,405.00 C78.83,406.32 74.42,407.00 72.00,407.40 C69.58,407.80 68.57,407.97 67.50,407.40 C66.43,406.83 65.95,407.23 65.60,404.00 C65.25,400.77 65.40,393.33 65.40,388.00 C65.40,382.67 63.17,374.70 65.60,372.00 Z" fill="#3750aa" stroke="#5d72c0" stroke-width="1.8"/></g></g><g clip-path="url(#c6)"><g filter="url(#bl4)"><path d="M72.00,382.50 C73.62,380.77 76.97,380.25 79.30,379.60 C81.63,378.95 84.02,378.72 86.00,378.60 C87.98,378.48 90.27,378.07 91.20,378.90 C92.13,379.73 92.22,382.12 91.60,383.60 C90.98,385.08 89.10,386.32 87.50,387.80 C85.90,389.28 83.50,390.97 82.00,392.50 C80.50,394.03 79.58,395.35 78.50,397.00 C77.42,398.65 76.67,401.43 75.50,402.40 C74.33,403.37 72.52,403.37 71.50,402.80 C70.48,402.23 69.72,401.13 69.40,399.00 C69.08,396.87 69.17,392.75 69.60,390.00 C70.03,387.25 70.38,384.23 72.00,382.50 Z" fill="#2fb8e6" fill-opacity="1.0"/><path d="M73.17,383.60 C74.52,382.14 77.33,381.80 79.33,381.20 C81.34,380.60 83.40,380.18 85.18,379.98 C86.97,379.77 89.19,379.26 90.02,379.98 C90.85,380.70 90.84,382.95 90.16,384.31 C89.48,385.67 87.47,386.98 85.94,388.14 C84.40,389.31 82.17,390.07 80.97,391.28 C79.76,392.49 79.55,393.82 78.71,395.41 C77.88,397.01 77.04,399.87 75.98,400.87 C74.91,401.88 73.23,401.93 72.33,401.43 C71.43,400.94 70.76,399.82 70.57,397.91 C70.38,395.99 70.77,392.31 71.20,389.93 C71.63,387.54 71.81,385.05 73.17,383.60 Z" fill="#7cc144" fill-opacity="1.0"/><ellipse cx="93.20" cy="365.20" rx="5.50" ry="2.40" transform="rotate(-8 93.20 365.20)" fill="#2fb8e6" fill-opacity="1.0"/><ellipse cx="93.20" cy="365.30" rx="2.60" ry="1.10" transform="rotate(-8 93.20 365.30)" fill="#58c7d6" fill-opacity="1.0"/><ellipse cx="83.90" cy="385.90" rx="5.80" ry="4.20" transform="rotate(-22 83.90 385.90)" fill="#f5e51e" fill-opacity="1.0"/><ellipse cx="84.00" cy="386.00" rx="4.70" ry="3.10" transform="rotate(-20 84.00 386.00)" fill="#f59a23" fill-opacity="1.0"/><ellipse cx="84.00" cy="386.00" rx="3.70" ry="2.30" transform="rotate(-20 84.00 386.00)" fill="#e3201f" fill-opacity="1.0"/><ellipse cx="74.10" cy="397.50" rx="3.80" ry="3.80" transform="rotate(0 74.10 397.50)" fill="#f5e51e" fill-opacity="1.0"/><ellipse cx="74.10" cy="397.50" rx="2.80" ry="2.80" transform="rotate(0 74.10 397.50)" fill="#f59a23" fill-opacity="1.0"/><ellipse cx="74.10" cy="397.60" rx="2.00" ry="2.00" transform="rotate(0 74.10 397.60)" fill="#e3201f" fill-opacity="1.0"/></g></g><g clip-path="url(#c7)"><g filter="url(#bl9)"><path d="M169.00,276.20 C170.73,271.73 174.78,270.60 177.80,268.20 C180.82,265.80 183.63,263.25 187.10,261.80 C190.57,260.35 194.75,259.40 198.60,259.50 C202.45,259.60 207.32,261.15 210.20,262.40 C213.08,263.65 215.33,265.08 215.90,267.00 C216.47,268.92 214.95,271.40 213.60,273.90 C212.25,276.40 210.30,279.50 207.80,282.00 C205.30,284.50 200.67,286.60 198.60,288.90 C196.53,291.20 195.57,292.92 195.40,295.80 C195.23,298.68 197.63,303.12 197.60,306.20 C197.57,309.28 196.95,312.53 195.20,314.30 C193.45,316.07 190.38,316.38 187.10,316.80 C183.82,317.22 178.52,317.10 175.50,316.80 C172.48,316.50 170.35,318.63 169.00,315.00 C167.65,311.37 167.40,301.47 167.40,295.00 C167.40,288.53 167.27,280.67 169.00,276.20 Z" fill="#8390cc" stroke="#8390cc" stroke-width="2.2"/></g></g><g clip-path="url(#c8)"><g filter="url(#texb)"><circle cx="201.44" cy="313.18" r="0.32" fill="#5b6cc0" fill-opacity="0.55"/><circle cx="173.60" cy="306.18" r="0.32" fill="#5b6cc0" fill-opacity="0.55"/><circle cx="170.67" cy="290.09" r="0.32" fill="#5b6cc0" fill-opacity="0.55"/><circle cx="199.08" cy="279.27" r="0.32" fill="#5b6cc0" fill-opacity="0.55"/><circle cx="211.98" cy="291.64" r="0.32" fill="#5b6cc0" fill-opacity="0.55"/><circle cx="196.01" cy="312.36" r="0.32" fill="#5b6cc0" fill-opacity="0.55"/><circle cx="170.10" cy="319.35" r="0.32" fill="#5b6cc0" fill-opacity="0.55"/><circle cx="198.72" cy="281.46" r="0.32" fill="#5b6cc0" fill-opacity="0.55"/><circle cx="207.87" cy="273.26" r="0.32" fill="#5b6cc0" fill-opacity="0.55"/><circle cx="218.38" cy="293.05" r="0.32" fill="#5b6cc0" fill-opacity="0.55"/><circle cx="184.03" cy="304.90" r="0.32" fill="#5b6cc0" fill-opacity="0.55"/><circle cx="188.50" cy="267.69" r="0.32" fill="#5b6cc0" fill-opacity="0.55"/><circle cx="204.93" cy="259.56" r="0.32" fill="#5b6cc0" fill-opacity="0.55"/><circle cx="209.08" cy="272.56" r="0.32" fill="#5b6cc0" fill-opacity="0.55"/><circle cx="199.24" cy="318.79" r="0.32" fill="#5b6cc0" fill-opacity="0.55"/><circle cx="196.33" cy="298.51" r="0.32" fill="#5b6cc0" fill-opacity="0.55"/><circle cx="181.44" cy="256.61" r="0.32" fill="#5b6cc0" fill-opacity="0.55"/><circle cx="166.24" cy="265.95" r="0.32" fill="#5b6cc0" fill-opacity="0.55"/><circle cx="197.97" cy="283.86" r="0.32" fill="#5b6cc0" fill-opacity="0.55"/><circle cx="192.34" cy="313.19" r="0.32" fill="#5b6cc0" fill-opacity="0.55"/><circle cx="171.60" cy="270.89" r="0.32" fill="#5b6cc0" fill-opacity="0.55"/><circle cx="199.99" cy="257.91" r="0.32" fill="#5b6cc0" fill-opacity="0.55"/><circle cx="164.54" cy="278.97" r="0.32" fill="#5b6cc0" fill-opacity="0.55"/><circle cx="170.20" cy="279.11" r="0.32" fill="#5b6cc0" fill-opacity="0.55"/><circle cx="176.62" cy="293.44" r="0.32" fill="#5b6cc0" fill-opacity="0.55"/><circle cx="196.51" cy="269.42" r="0.32" fill="#5b6cc0" fill-opacity="0.55"/><circle cx="198.40" cy="286.56" r="0.32" fill="#5b6cc0" fill-opacity="0.55"/><circle cx="171.74" cy="315.79" r="0.32" fill="#5b6cc0" fill-opacity="0.55"/><circle cx="177.68" cy="265.95" r="0.32" fill="#5b6cc0" fill-opacity="0.55"/><circle cx="169.62" cy="296.90" r="0.32" fill="#5b6cc0" fill-opacity="0.55"/><circle cx="211.89" cy="306.01" r="0.32" fill="#5b6cc0" fill-opacity="0.55"/><circle cx="186.31" cy="273.23" r="0.32" fill="#5b6cc0" fill-opacity="0.55"/><circle cx="165.03" cy="297.33" r="0.32" fill="#5b6cc0" fill-opacity="0.55"/><circle cx="195.05" cy="278.68" r="0.32" fill="#5b6cc0" fill-opacity="0.55"/><circle cx="199.59" cy="284.59" r="0.32" fill="#5b6cc0" fill-opacity="0.55"/><circle cx="215.48" cy="302.93" r="0.32" fill="#5b6cc0" fill-opacity="0.55"/><circle cx="177.94" cy="313.69" r="0.32" fill="#5b6cc0" fill-opacity="0.55"/><circle cx="166.80" cy="290.15" r="0.32" fill="#5b6cc0" fill-opacity="0.55"/><circle cx="186.53" cy="271.54" r="0.32" fill="#5b6cc0" fill-opacity="0.55"/><circle cx="167.58" cy="305.80" r="0.32" fill="#5b6cc0" fill-opacity="0.55"/><circle cx="165.07" cy="291.37" r="0.32" fill="#5b6cc0" fill-opacity="0.55"/><circle cx="215.68" cy="265.51" r="0.32" fill="#5b6cc0" fill-opacity="0.55"/><circle cx="175.27" cy="294.99" r="0.32" fill="#5b6cc0" fill-opacity="0.55"/><circle cx="192.03" cy="297.11" r="0.32" fill="#5b6cc0" fill-opacity="0.55"/><circle cx="208.73" cy="267.55" r="0.32" fill="#5b6cc0" fill-opacity="0.55"/><circle cx="181.26" cy="275.51" r="0.32" fill="#5b6cc0" fill-opacity="0.55"/><circle cx="167.04" cy="312.80" r="0.32" fill="#5b6cc0" fill-opacity="0.55"/><circle cx="207.07" cy="301.78" r="0.32" fill="#5b6cc0" fill-opacity="0.55"/><circle cx="164.75" cy="309.95" r="0.32" fill="#5b6cc0" fill-opacity="0.55"/><circle cx="205.01" cy="285.95" r="0.32" fill="#5b6cc0" fill-opacity="0.55"/><circle cx="204.83" cy="285.14" r="0.32" fill="#5b6cc0" fill-opacity="0.55"/><circle cx="176.71" cy="263.16" r="0.32" fill="#5b6cc0" fill-opacity="0.55"/><circle cx="177.06" cy="258.96" r="0.32" fill="#5b6cc0" fill-opacity="0.55"/><circle cx="182.69" cy="303.95" r="0.32" fill="#5b6cc0" fill-opacity="0.55"/><circle cx="202.28" cy="310.01" r="0.32" fill="#5b6cc0" fill-opacity="0.55"/><circle cx="203.19" cy="273.34" r="0.32" fill="#5b6cc0" fill-opacity="0.55"/><circle cx="194.58" cy="284.10" r="0.32" fill="#5b6cc0" fill-opacity="0.55"/><circle cx="207.37" cy="289.62" r="0.32" fill="#5b6cc0" fill-opacity="0.55"/><circle cx="178.86" cy="297.14" r="0.32" fill="#5b6cc0" fill-opacity="0.55"/><circle cx="217.00" cy="270.24" r="0.32" fill="#5b6cc0" fill-opacity="0.55"/><circle cx="212.36" cy="257.46" r="0.32" fill="#5b6cc0" fill-opacity="0.55"/><circle cx="178.59" cy="271.45" r="0.32" fill="#5b6cc0" fill-opacity="0.55"/><circle cx="204.94" cy="316.30" r="0.32" fill="#5b6cc0" fill-opacity="0.55"/><circle cx="205.07" cy="277.19" r="0.32" fill="#5b6cc0" fill-opacity="0.55"/><circle cx="212.37" cy="277.30" r="0.32" fill="#5b6cc0" fill-opacity="0.55"/><circle cx="177.43" cy="313.95" r="0.32" fill="#5b6cc0" fill-opacity="0.55"/><circle cx="198.77" cy="300.36" r="0.32" fill="#5b6cc0" fill-opacity="0.55"/><circle cx="200.66" cy="318.47" r="0.32" fill="#5b6cc0" fill-opacity="0.55"/><circle cx="189.99" cy="309.65" r="0.32" fill="#5b6cc0" fill-opacity="0.55"/><circle cx="202.42" cy="310.78" r="0.32" fill="#5b6cc0" fill-opacity="0.55"/><circle cx="188.23" cy="302.37" r="0.32" fill="#5b6cc0" fill-opacity="0.55"/><circle cx="195.48" cy="275.98" r="0.32" fill="#5b6cc0" fill-opacity="0.55"/><circle cx="175.95" cy="295.91" r="0.32" fill="#5b6cc0" fill-opacity="0.55"/><circle cx="168.64" cy="314.15" r="0.32" fill="#5b6cc0" fill-opacity="0.55"/><circle cx="172.28" cy="258.20" r="0.32" fill="#5b6cc0" fill-opacity="0.55"/><circle cx="170.21" cy="315.30" r="0.32" fill="#5b6cc0" fill-opacity="0.55"/><circle cx="183.20" cy="265.48" r="0.32" fill="#5b6cc0" fill-opacity="0.55"/><circle cx="165.97" cy="259.14" r="0.32" fill="#5b6cc0" fill-opacity="0.55"/><circle cx="202.15" cy="296.62" r="0.32" fill="#5b6cc0" fill-opacity="0.55"/><circle cx="202.39" cy="303.14" r="0.32" fill="#5b6cc0" fill-opacity="0.55"/><circle cx="167.98" cy="293.88" r="0.32" fill="#5b6cc0" fill-opacity="0.55"/><circle cx="184.21" cy="308.25" r="0.32" fill="#5b6cc0" fill-opacity="0.55"/><circle cx="209.07" cy="312.92" r="0.32" fill="#5b6cc0" fill-opacity="0.55"/><circle cx="167.99" cy="311.43" r="0.32" fill="#5b6cc0" fill-opacity="0.55"/><circle cx="214.24" cy="316.28" r="0.32" fill="#5b6cc0" fill-opacity="0.55"/><circle cx="170.24" cy="269.52" r="0.32" fill="#5b6cc0" fill-opacity="0.55"/><circle cx="170.50" cy="258.68" r="0.32" fill="#5b6cc0" fill-opacity="0.55"/><circle cx="210.60" cy="307.90" r="0.32" fill="#5b6cc0" fill-opacity="0.55"/><circle cx="198.96" cy="308.73" r="0.32" fill="#5b6cc0" fill-opacity="0.55"/><circle cx="198.82" cy="274.69" r="0.32" fill="#5b6cc0" fill-opacity="0.55"/><circle cx="169.84" cy="262.69" r="0.32" fill="#5b6cc0" fill-opacity="0.55"/><circle cx="205.68" cy="269.48" r="0.32" fill="#5b6cc0" fill-opacity="0.55"/><circle cx="181.79" cy="283.32" r="0.32" fill="#5b6cc0" fill-opacity="0.55"/><circle cx="165.54" cy="272.75" r="0.32" fill="#5b6cc0" fill-opacity="0.55"/><circle cx="179.80" cy="301.81" r="0.32" fill="#5b6cc0" fill-opacity="0.55"/><circle cx="184.46" cy="276.81" r="0.32" fill="#5b6cc0" fill-opacity="0.55"/><circle cx="216.94" cy="288.39" r="0.32" fill="#5b6cc0" fill-opacity="0.55"/><circle cx="210.80" cy="295.64" r="0.32" fill="#5b6cc0" fill-opacity="0.55"/><circle cx="166.09" cy="282.64" r="0.32" fill="#5b6cc0" fill-opacity="0.55"/><circle cx="188.19" cy="305.43" r="0.32" fill="#5b6cc0" fill-opacity="0.55"/><circle cx="183.30" cy="301.10" r="0.32" fill="#5b6cc0" fill-opacity="0.55"/><circle cx="193.71" cy="270.21" r="0.32" fill="#5b6cc0" fill-opacity="0.55"/><circle cx="211.39" cy="262.25" r="0.32" fill="#5b6cc0" fill-opacity="0.55"/><circle cx="209.08" cy="267.28" r="0.32" fill="#5b6cc0" fill-opacity="0.55"/><circle cx="164.47" cy="269.29" r="0.32" fill="#5b6cc0" fill-opacity="0.55"/><circle cx="205.94" cy="318.40" r="0.32" fill="#5b6cc0" fill-opacity="0.55"/><circle cx="164.64" cy="287.57" r="0.32" fill="#5b6cc0" fill-opacity="0.55"/><circle cx="191.19" cy="306.94" r="0.32" fill="#5b6cc0" fill-opacity="0.55"/><circle cx="174.46" cy="287.81" r="0.32" fill="#5b6cc0" fill-opacity="0.55"/><circle cx="183.32" cy="309.16" r="0.32" fill="#5b6cc0" fill-opacity="0.55"/><circle cx="178.60" cy="316.25" r="0.32" fill="#5b6cc0" fill-opacity="0.55"/><circle cx="179.86" cy="270.09" r="0.32" fill="#5b6cc0" fill-opacity="0.55"/><circle cx="202.52" cy="288.04" r="0.32" fill="#5b6cc0" fill-opacity="0.55"/><circle cx="170.39" cy="296.79" r="0.32" fill="#5b6cc0" fill-opacity="0.55"/><circle cx="168.81" cy="306.37" r="0.32" fill="#5b6cc0" fill-opacity="0.55"/><circle cx="202.40" cy="306.31" r="0.32" fill="#5b6cc0" fill-opacity="0.55"/><circle cx="198.62" cy="279.01" r="0.32" fill="#5b6cc0" fill-opacity="0.55"/><circle cx="186.27" cy="281.48" r="0.32" fill="#5b6cc0" fill-opacity="0.55"/><circle cx="212.93" cy="261.95" r="0.32" fill="#5b6cc0" fill-opacity="0.55"/><circle cx="212.82" cy="258.09" r="0.32" fill="#5b6cc0" fill-opacity="0.55"/><circle cx="175.63" cy="273.16" r="0.32" fill="#5b6cc0" fill-opacity="0.55"/><circle cx="213.52" cy="288.23" r="0.32" fill="#5b6cc0" fill-opacity="0.55"/><circle cx="185.07" cy="312.46" r="0.32" fill="#5b6cc0" fill-opacity="0.55"/><circle cx="177.13" cy="285.68" r="0.32" fill="#5b6cc0" fill-opacity="0.55"/><circle cx="193.37" cy="304.26" r="0.32" fill="#5b6cc0" fill-opacity="0.55"/><circle cx="205.44" cy="297.41" r="0.32" fill="#5b6cc0" fill-opacity="0.55"/><circle cx="183.39" cy="277.18" r="0.32" fill="#5b6cc0" fill-opacity="0.55"/><circle cx="172.87" cy="309.87" r="0.32" fill="#5b6cc0" fill-opacity="0.55"/><circle cx="200.48" cy="303.47" r="0.32" fill="#5b6cc0" fill-opacity="0.55"/><circle cx="173.64" cy="284.28" r="0.32" fill="#5b6cc0" fill-opacity="0.55"/><circle cx="206.55" cy="293.16" r="0.32" fill="#5b6cc0" fill-opacity="0.55"/><circle cx="171.27" cy="285.75" r="0.32" fill="#5b6cc0" fill-opacity="0.55"/><circle cx="212.64" cy="271.56" r="0.32" fill="#5b6cc0" fill-opacity="0.55"/><circle cx="174.84" cy="275.59" r="0.32" fill="#5b6cc0" fill-opacity="0.55"/><circle cx="202.72" cy="309.90" r="0.32" fill="#5b6cc0" fill-opacity="0.55"/><circle cx="172.83" cy="266.37" r="0.32" fill="#5b6cc0" fill-opacity="0.55"/><circle cx="177.89" cy="277.17" r="0.32" fill="#5b6cc0" fill-opacity="0.55"/><circle cx="192.86" cy="266.69" r="0.32" fill="#5b6cc0" fill-opacity="0.55"/><circle cx="182.28" cy="268.48" r="0.32" fill="#5b6cc0" fill-opacity="0.55"/><circle cx="217.55" cy="302.63" r="0.32" fill="#5b6cc0" fill-opacity="0.55"/><circle cx="169.95" cy="317.42" r="0.32" fill="#5b6cc0" fill-opacity="0.55"/><circle cx="169.94" cy="280.82" r="0.32" fill="#5b6cc0" fill-opacity="0.55"/><circle cx="218.02" cy="306.82" r="0.32" fill="#5b6cc0" fill-opacity="0.55"/><circle cx="204.36" cy="284.03" r="0.32" fill="#5b6cc0" fill-opacity="0.55"/><circle cx="175.09" cy="296.88" r="0.32" fill="#5b6cc0" fill-opacity="0.55"/><circle cx="170.22" cy="269.57" r="0.32" fill="#5b6cc0" fill-opacity="0.55"/><circle cx="185.56" cy="258.65" r="0.32" fill="#5b6cc0" fill-opacity="0.55"/><circle cx="186.15" cy="306.57" r="0.32" fill="#5b6cc0" fill-opacity="0.55"/><circle cx="202.19" cy="288.18" r="0.32" fill="#5b6cc0" fill-opacity="0.55"/><circle cx="198.86" cy="285.83" r="0.32" fill="#5b6cc0" fill-opacity="0.55"/><circle cx="172.13" cy="294.71" r="0.32" fill="#5b6cc0" fill-opacity="0.55"/><circle cx="186.46" cy="303.40" r="0.32" fill="#5b6cc0" fill-opacity="0.55"/><circle cx="213.89" cy="283.72" r="0.32" fill="#5b6cc0" fill-opacity="0.55"/><circle cx="195.68" cy="303.92" r="0.32" fill="#5b6cc0" fill-opacity="0.55"/><circle cx="187.35" cy="270.97" r="0.32" fill="#5b6cc0" fill-opacity="0.55"/><circle cx="203.76" cy="312.21" r="0.32" fill="#5b6cc0" fill-opacity="0.55"/><circle cx="206.59" cy="300.81" r="0.32" fill="#5b6cc0" fill-opacity="0.55"/><circle cx="210.86" cy="299.52" r="0.32" fill="#5b6cc0" fill-opacity="0.55"/><circle cx="199.36" cy="285.23" r="0.32" fill="#5b6cc0" fill-opacity="0.55"/><circle cx="181.46" cy="296.27" r="0.32" fill="#5b6cc0" fill-opacity="0.55"/><circle cx="169.73" cy="283.06" r="0.32" fill="#5b6cc0" fill-opacity="0.55"/><circle cx="207.04" cy="301.64" r="0.32" fill="#5b6cc0" fill-opacity="0.55"/><circle cx="198.71" cy="272.33" r="0.32" fill="#5b6cc0" fill-opacity="0.55"/><circle cx="187.49" cy="285.31" r="0.32" fill="#5b6cc0" fill-opacity="0.55"/><circle cx="198.28" cy="282.41" r="0.32" fill="#5b6cc0" fill-opacity="0.55"/><circle cx="201.20" cy="315.38" r="0.32" fill="#5b6cc0" fill-opacity="0.55"/><circle cx="174.38" cy="297.93" r="0.32" fill="#5b6cc0" fill-opacity="0.55"/><circle cx="206.81" cy="281.11" r="0.32" fill="#5b6cc0" fill-opacity="0.55"/><circle cx="191.10" cy="318.19" r="0.32" fill="#5b6cc0" fill-opacity="0.55"/><circle cx="166.48" cy="290.89" r="0.32" fill="#5b6cc0" fill-opacity="0.55"/><circle cx="173.17" cy="305.99" r="0.32" fill="#5b6cc0" fill-opacity="0.55"/><circle cx="215.66" cy="289.37" r="0.32" fill="#5b6cc0" fill-opacity="0.55"/><circle cx="169.91" cy="292.87" r="0.32" fill="#5b6cc0" fill-opacity="0.55"/><circle cx="193.89" cy="301.90" r="0.32" fill="#5b6cc0" fill-opacity="0.55"/><circle cx="192.31" cy="296.97" r="0.32" fill="#5b6cc0" fill-opacity="0.55"/><circle cx="209.58" cy="289.52" r="0.32" fill="#5b6cc0" fill-opacity="0.55"/><circle cx="186.76" cy="316.51" r="0.32" fill="#5b6cc0" fill-opacity="0.55"/><circle cx="175.85" cy="299.82" r="0.32" fill="#5b6cc0" fill-opacity="0.55"/><circle cx="185.79" cy="304.78" r="0.32" fill="#5b6cc0" fill-opacity="0.55"/><circle cx="171.07" cy="318.82" r="0.32" fill="#5b6cc0" fill-opacity="0.55"/><circle cx="183.77" cy="260.08" r="0.32" fill="#5b6cc0" fill-opacity="0.55"/><circle cx="179.35" cy="281.80" r="0.32" fill="#5b6cc0" fill-opacity="0.55"/><circle cx="165.13" cy="283.00" r="0.32" fill="#5b6cc0" fill-opacity="0.55"/><circle cx="187.32" cy="300.70" r="0.32" fill="#5b6cc0" fill-opacity="0.55"/><circle cx="183.59" cy="273.28" r="0.32" fill="#5b6cc0" fill-opacity="0.55"/><circle cx="176.63" cy="303.44" r="0.32" fill="#5b6cc0" fill-opacity="0.55"/><circle cx="215.63" cy="289.86" r="0.32" fill="#5b6cc0" fill-opacity="0.55"/><circle cx="176.33" cy="307.23" r="0.32" fill="#5b6cc0" fill-opacity="0.55"/><circle cx="185.76" cy="269.92" r="0.32" fill="#5b6cc0" fill-opacity="0.55"/><circle cx="171.45" cy="305.66" r="0.32" fill="#5b6cc0" fill-opacity="0.55"/><circle cx="208.52" cy="296.65" r="0.32" fill="#5b6cc0" fill-opacity="0.55"/><circle cx="189.97" cy="292.08" r="0.32" fill="#5b6cc0" fill-opacity="0.55"/><circle cx="176.72" cy="317.51" r="0.32" fill="#5b6cc0" fill-opacity="0.55"/><circle cx="183.65" cy="296.94" r="0.32" fill="#5b6cc0" fill-opacity="0.55"/><circle cx="209.02" cy="308.16" r="0.32" fill="#5b6cc0" fill-opacity="0.55"/><circle cx="189.91" cy="275.13" r="0.32" fill="#5b6cc0" fill-opacity="0.55"/><circle cx="194.28" cy="264.42" r="0.32" fill="#5b6cc0" fill-opacity="0.55"/><circle cx="209.84" cy="278.96" r="0.32" fill="#5b6cc0" fill-opacity="0.55"/><circle cx="210.76" cy="273.43" r="0.32" fill="#5b6cc0" fill-opacity="0.55"/><circle cx="184.90" cy="272.55" r="0.32" fill="#5b6cc0" fill-opacity="0.55"/><path d="M169.00,276.20 C170.73,271.73 174.78,270.60 177.80,268.20 C180.82,265.80 183.63,263.25 187.10,261.80 C190.57,260.35 194.75,259.40 198.60,259.50 C202.45,259.60 207.32,261.15 210.20,262.40 C213.08,263.65 215.33,265.08 215.90,267.00 C216.47,268.92 214.95,271.40 213.60,273.90 C212.25,276.40 210.30,279.50 207.80,282.00 C205.30,284.50 200.67,286.60 198.60,288.90 C196.53,291.20 195.57,292.92 195.40,295.80 C195.23,298.68 197.63,303.12 197.60,306.20 C197.57,309.28 196.95,312.53 195.20,314.30 C193.45,316.07 190.38,316.38 187.10,316.80 C183.82,317.22 178.52,317.10 175.50,316.80 C172.48,316.50 170.35,318.63 169.00,315.00 C167.65,311.37 167.40,301.47 167.40,295.00 C167.40,288.53 167.27,280.67 169.00,276.20 Z" fill="#3750aa" stroke="#5d72c0" stroke-width="2.2"/></g></g><g clip-path="url(#c9)"><g filter="url(#bl4)"><path d="M179.00,279.70 C179.38,278.45 183.02,275.43 185.90,273.90 C188.78,272.37 192.65,270.98 196.30,270.50 C199.95,270.02 205.40,270.43 207.80,271.00 C210.20,271.57 210.70,272.07 210.70,273.90 C210.70,275.73 209.62,280.37 207.80,282.00 C205.98,283.63 201.90,282.55 199.80,283.70 C197.70,284.85 196.65,288.13 195.20,288.90 C193.75,289.67 192.07,289.35 191.10,288.30 C190.13,287.25 190.65,283.75 189.40,282.60 C188.15,281.45 185.33,281.88 183.60,281.40 C181.87,280.92 178.62,280.95 179.00,279.70 Z" fill="#2fb8e6" fill-opacity="1.0"/><path d="M183.00,278.60 C183.75,277.77 187.67,276.13 190.00,275.20 C192.33,274.27 194.25,273.33 197.00,273.00 C199.75,272.67 204.60,272.70 206.50,273.20 C208.40,273.70 208.55,274.80 208.40,276.00 C208.25,277.20 207.08,279.40 205.60,280.40 C204.12,281.40 201.20,281.00 199.50,282.00 C197.80,283.00 196.58,285.77 195.40,286.40 C194.22,287.03 193.17,286.63 192.40,285.80 C191.63,284.97 191.95,282.33 190.80,281.40 C189.65,280.47 186.80,280.67 185.50,280.20 C184.20,279.73 182.25,279.43 183.00,278.60 Z" fill="#7cc144" fill-opacity="1.0"/><ellipse cx="202.10" cy="278.40" rx="5.80" ry="3.70" transform="rotate(-12 202.10 278.40)" fill="#f5e51e" fill-opacity="1.0"/><ellipse cx="202.10" cy="278.40" rx="4.60" ry="2.80" transform="rotate(-12 202.10 278.40)" fill="#f59a23" fill-opacity="1.0"/><ellipse cx="202.10" cy="278.30" rx="3.60" ry="2.20" transform="rotate(-12 202.10 278.30)" fill="#e3201f" fill-opacity="1.0"/><ellipse cx="190.50" cy="306.80" rx="5.30" ry="6.40" transform="rotate(0 190.50 306.80)" fill="#2fb8e6" fill-opacity="1.0"/><ellipse cx="190.50" cy="307.00" rx="3.90" ry="4.90" transform="rotate(0 190.50 307.00)" fill="#7cc144" fill-opacity="1.0"/><ellipse cx="190.60" cy="307.30" rx="1.60" ry="1.80" transform="rotate(0 190.60 307.30)" fill="#a9cf3a" fill-opacity="1.0"/></g></g><g clip-path="url(#c10)"><g filter="url(#bl9)"><path d="M169.00,367.00 C170.55,362.67 173.68,361.30 176.70,359.00 C179.72,356.70 183.07,354.55 187.10,353.20 C191.13,351.85 196.67,350.80 200.90,350.90 C205.13,351.00 209.80,352.45 212.50,353.80 C215.20,355.15 216.72,356.60 217.10,359.00 C217.48,361.40 216.35,365.12 214.80,368.20 C213.25,371.28 210.50,375.00 207.80,377.50 C205.10,380.00 200.52,381.08 198.60,383.20 C196.68,385.32 196.48,387.70 196.30,390.20 C196.12,392.70 197.78,395.52 197.50,398.20 C197.22,400.88 196.72,404.67 194.60,406.30 C192.48,407.93 189.07,407.88 184.80,408.00 C180.53,408.12 171.90,410.83 169.00,407.00 C166.10,403.17 167.40,391.67 167.40,385.00 C167.40,378.33 167.45,371.33 169.00,367.00 Z" fill="#8390cc" stroke="#8390cc" stroke-width="2.2"/></g></g><g clip-path="url(#c11)"><g filter="url(#texb)"><circle cx="188.13" cy="359.63" r="0.32" fill="#5b6cc0" fill-opacity="0.55"/><circle cx="164.55" cy="393.44" r="0.32" fill="#5b6cc0" fill-opacity="0.55"/><circle cx="180.06" cy="363.36" r="0.32" fill="#5b6cc0" fill-opacity="0.55"/><circle cx="181.21" cy="378.16" r="0.32" fill="#5b6cc0" fill-opacity="0.55"/><circle cx="188.27" cy="388.11" r="0.32" fill="#5b6cc0" fill-opacity="0.55"/><circle cx="201.12" cy="370.77" r="0.32" fill="#5b6cc0" fill-opacity="0.55"/><circle cx="216.13" cy="401.82" r="0.32" fill="#5b6cc0" fill-opacity="0.55"/><circle cx="167.58" cy="400.14" r="0.32" fill="#5b6cc0" fill-opacity="0.55"/><circle cx="214.85" cy="397.37" r="0.32" fill="#5b6cc0" fill-opacity="0.55"/><circle cx="172.22" cy="400.36" r="0.32" fill="#5b6cc0" fill-opacity="0.55"/><circle cx="199.67" cy="348.85" r="0.32" fill="#5b6cc0" fill-opacity="0.55"/><circle cx="165.04" cy="407.96" r="0.32" fill="#5b6cc0" fill-opacity="0.55"/><circle cx="200.94" cy="363.68" r="0.32" fill="#5b6cc0" fill-opacity="0.55"/><circle cx="170.05" cy="356.91" r="0.32" fill="#5b6cc0" fill-opacity="0.55"/><circle cx="177.41" cy="396.88" r="0.32" fill="#5b6cc0" fill-opacity="0.55"/><circle cx="183.70" cy="357.53" r="0.32" fill="#5b6cc0" fill-opacity="0.55"/><circle cx="214.76" cy="397.85" r="0.32" fill="#5b6cc0" fill-opacity="0.55"/><circle cx="173.75" cy="404.13" r="0.32" fill="#5b6cc0" fill-opacity="0.55"/><circle cx="198.29" cy="397.20" r="0.32" fill="#5b6cc0" fill-opacity="0.55"/><circle cx="201.63" cy="404.31" r="0.32" fill="#5b6cc0" fill-opacity="0.55"/><circle cx="208.30" cy="400.83" r="0.32" fill="#5b6cc0" fill-opacity="0.55"/><circle cx="175.39" cy="391.62" r="0.32" fill="#5b6cc0" fill-opacity="0.55"/><circle cx="193.97" cy="394.71" r="0.32" fill="#5b6cc0" fill-opacity="0.55"/><circle cx="188.83" cy="403.60" r="0.32" fill="#5b6cc0" fill-opacity="0.55"/><circle cx="195.32" cy="364.59" r="0.32" fill="#5b6cc0" fill-opacity="0.55"/><circle cx="177.44" cy="356.69" r="0.32" fill="#5b6cc0" fill-opacity="0.55"/><circle cx="191.86" cy="351.59" r="0.32" fill="#5b6cc0" fill-opacity="0.55"/><circle cx="190.42" cy="357.01" r="0.32" fill="#5b6cc0" fill-opacity="0.55"/><circle cx="191.77" cy="379.33" r="0.32" fill="#5b6cc0" fill-opacity="0.55"/><circle cx="194.45" cy="402.35" r="0.32" fill="#5b6cc0" fill-opacity="0.55"/><circle cx="164.77" cy="400.95" r="0.32" fill="#5b6cc0" fill-opacity="0.55"/><circle cx="190.47" cy="383.40" r="0.32" fill="#5b6cc0" fill-opacity="0.55"/><circle cx="201.46" cy="400.94" r="0.32" fill="#5b6cc0" fill-opacity="0.55"/><circle cx="185.29" cy="374.33" r="0.32" fill="#5b6cc0" fill-opacity="0.55"/><circle cx="217.91" cy="352.66" r="0.32" fill="#5b6cc0" fill-opacity="0.55"/><circle cx="199.88" cy="388.04" r="0.32" fill="#5b6cc0" fill-opacity="0.55"/><circle cx="165.99" cy="386.37" r="0.32" fill="#5b6cc0" fill-opacity="0.55"/><circle cx="202.42" cy="406.68" r="0.32" fill="#5b6cc0" fill-opacity="0.55"/><circle cx="182.81" cy="409.85" r="0.32" fill="#5b6cc0" fill-opacity="0.55"/><circle cx="192.84" cy="378.48" r="0.32" fill="#5b6cc0" fill-opacity="0.55"/><circle cx="214.39" cy="350.04" r="0.32" fill="#5b6cc0" fill-opacity="0.55"/><circle cx="204.40" cy="387.36" r="0.32" fill="#5b6cc0" fill-opacity="0.55"/><circle cx="183.26" cy="402.27" r="0.32" fill="#5b6cc0" fill-opacity="0.55"/><circle cx="184.80" cy="377.84" r="0.32" fill="#5b6cc0" fill-opacity="0.55"/><circle cx="193.67" cy="396.52" r="0.32" fill="#5b6cc0" fill-opacity="0.55"/><circle cx="176.14" cy="375.36" r="0.32" fill="#5b6cc0" fill-opacity="0.55"/><circle cx="187.93" cy="382.86" r="0.32" fill="#5b6cc0" fill-opacity="0.55"/><circle cx="210.45" cy="366.38" r="0.32" fill="#5b6cc0" fill-opacity="0.55"/><circle cx="210.50" cy="373.38" r="0.32" fill="#5b6cc0" fill-opacity="0.55"/><circle cx="192.46" cy="365.04" r="0.32" fill="#5b6cc0" fill-opacity="0.55"/><circle cx="192.61" cy="409.42" r="0.32" fill="#5b6cc0" fill-opacity="0.55"/><circle cx="200.86" cy="397.87" r="0.32" fill="#5b6cc0" fill-opacity="0.55"/><circle cx="182.83" cy="367.91" r="0.32" fill="#5b6cc0" fill-opacity="0.55"/><circle cx="181.07" cy="384.91" r="0.32" fill="#5b6cc0" fill-opacity="0.55"/><circle cx="199.76" cy="397.38" r="0.32" fill="#5b6cc0" fill-opacity="0.55"/><circle cx="166.63" cy="393.50" r="0.32" fill="#5b6cc0" fill-opacity="0.55"/><circle cx="213.73" cy="382.31" r="0.32" fill="#5b6cc0" fill-opacity="0.55"/><circle cx="167.17" cy="366.86" r="0.32" fill="#5b6cc0" fill-opacity="0.55"/><circle cx="164.75" cy="359.89" r="0.32" fill="#5b6cc0" fill-opacity="0.55"/><circle cx="215.72" cy="386.31" r="0.32" fill="#5b6cc0" fill-opacity="0.55"/><circle cx="201.05" cy="397.69" r="0.32" fill="#5b6cc0" fill-opacity="0.55"/><circle cx="215.08" cy="386.50" r="0.32" fill="#5b6cc0" fill-opacity="0.55"/><circle cx="198.75" cy="387.45" r="0.32" fill="#5b6cc0" fill-opacity="0.55"/><circle cx="203.19" cy="385.53" r="0.32" fill="#5b6cc0" fill-opacity="0.55"/><circle cx="202.33" cy="361.31" r="0.32" fill="#5b6cc0" fill-opacity="0.55"/><circle cx="201.55" cy="376.79" r="0.32" fill="#5b6cc0" fill-opacity="0.55"/><circle cx="206.88" cy="354.30" r="0.32" fill="#5b6cc0" fill-opacity="0.55"/><circle cx="174.50" cy="350.23" r="0.32" fill="#5b6cc0" fill-opacity="0.55"/><circle cx="207.54" cy="405.58" r="0.32" fill="#5b6cc0" fill-opacity="0.55"/><circle cx="200.92" cy="371.18" r="0.32" fill="#5b6cc0" fill-opacity="0.55"/><circle cx="210.22" cy="397.53" r="0.32" fill="#5b6cc0" fill-opacity="0.55"/><circle cx="195.71" cy="364.18" r="0.32" fill="#5b6cc0" fill-opacity="0.55"/><circle cx="181.22" cy="374.51" r="0.32" fill="#5b6cc0" fill-opacity="0.55"/><circle cx="182.14" cy="375.08" r="0.32" fill="#5b6cc0" fill-opacity="0.55"/><circle cx="200.15" cy="406.83" r="0.32" fill="#5b6cc0" fill-opacity="0.55"/><circle cx="167.44" cy="383.71" r="0.32" fill="#5b6cc0" fill-opacity="0.55"/><circle cx="166.59" cy="355.40" r="0.32" fill="#5b6cc0" fill-opacity="0.55"/><circle cx="209.54" cy="384.20" r="0.32" fill="#5b6cc0" fill-opacity="0.55"/><circle cx="215.57" cy="376.07" r="0.32" fill="#5b6cc0" fill-opacity="0.55"/><circle cx="165.19" cy="372.33" r="0.32" fill="#5b6cc0" fill-opacity="0.55"/><circle cx="197.37" cy="407.07" r="0.32" fill="#5b6cc0" fill-opacity="0.55"/><circle cx="219.03" cy="377.90" r="0.32" fill="#5b6cc0" fill-opacity="0.55"/><circle cx="187.37" cy="354.34" r="0.32" fill="#5b6cc0" fill-opacity="0.55"/><circle cx="200.30" cy="361.29" r="0.32" fill="#5b6cc0" fill-opacity="0.55"/><circle cx="172.85" cy="348.88" r="0.32" fill="#5b6cc0" fill-opacity="0.55"/><circle cx="164.67" cy="391.05" r="0.32" fill="#5b6cc0" fill-opacity="0.55"/><circle cx="171.18" cy="408.88" r="0.32" fill="#5b6cc0" fill-opacity="0.55"/><circle cx="169.31" cy="402.77" r="0.32" fill="#5b6cc0" fill-opacity="0.55"/><circle cx="171.58" cy="349.02" r="0.32" fill="#5b6cc0" fill-opacity="0.55"/><circle cx="204.47" cy="363.19" r="0.32" fill="#5b6cc0" fill-opacity="0.55"/><circle cx="205.26" cy="359.73" r="0.32" fill="#5b6cc0" fill-opacity="0.55"/><circle cx="167.19" cy="396.74" r="0.32" fill="#5b6cc0" fill-opacity="0.55"/><circle cx="204.14" cy="401.88" r="0.32" fill="#5b6cc0" fill-opacity="0.55"/><circle cx="205.05" cy="353.22" r="0.32" fill="#5b6cc0" fill-opacity="0.55"/><circle cx="199.41" cy="392.65" r="0.32" fill="#5b6cc0" fill-opacity="0.55"/><circle cx="190.05" cy="406.73" r="0.32" fill="#5b6cc0" fill-opacity="0.55"/><circle cx="178.55" cy="408.75" r="0.32" fill="#5b6cc0" fill-opacity="0.55"/><circle cx="204.35" cy="348.62" r="0.32" fill="#5b6cc0" fill-opacity="0.55"/><circle cx="165.22" cy="388.96" r="0.32" fill="#5b6cc0" fill-opacity="0.55"/><circle cx="209.93" cy="352.93" r="0.32" fill="#5b6cc0" fill-opacity="0.55"/><circle cx="181.73" cy="393.93" r="0.32" fill="#5b6cc0" fill-opacity="0.55"/><circle cx="173.65" cy="402.23" r="0.32" fill="#5b6cc0" fill-opacity="0.55"/><circle cx="191.49" cy="351.67" r="0.32" fill="#5b6cc0" fill-opacity="0.55"/><circle cx="184.87" cy="384.18" r="0.32" fill="#5b6cc0" fill-opacity="0.55"/><circle cx="188.84" cy="390.61" r="0.32" fill="#5b6cc0" fill-opacity="0.55"/><circle cx="172.47" cy="398.21" r="0.32" fill="#5b6cc0" fill-opacity="0.55"/><circle cx="184.63" cy="388.59" r="0.32" fill="#5b6cc0" fill-opacity="0.55"/><circle cx="199.47" cy="374.27" r="0.32" fill="#5b6cc0" fill-opacity="0.55"/><circle cx="185.89" cy="397.51" r="0.32" fill="#5b6cc0" fill-opacity="0.55"/><circle cx="217.03" cy="397.41" r="0.32" fill="#5b6cc0" fill-opacity="0.55"/><circle cx="195.97" cy="366.35" r="0.32" fill="#5b6cc0" fill-opacity="0.55"/><circle cx="167.78" cy="409.36" r="0.32" fill="#5b6cc0" fill-opacity="0.55"/><circle cx="203.57" cy="400.11" r="0.32" fill="#5b6cc0" fill-opacity="0.55"/><circle cx="182.89" cy="386.13" r="0.32" fill="#5b6cc0" fill-opacity="0.55"/><circle cx="218.84" cy="400.35" r="0.32" fill="#5b6cc0" fill-opacity="0.55"/><circle cx="197.88" cy="367.37" r="0.32" fill="#5b6cc0" fill-opacity="0.55"/><circle cx="188.27" cy="403.94" r="0.32" fill="#5b6cc0" fill-opacity="0.55"/><circle cx="185.38" cy="391.11" r="0.32" fill="#5b6cc0" fill-opacity="0.55"/><circle cx="197.92" cy="404.44" r="0.32" fill="#5b6cc0" fill-opacity="0.55"/><circle cx="209.38" cy="365.78" r="0.32" fill="#5b6cc0" fill-opacity="0.55"/><circle cx="164.49" cy="364.50" r="0.32" fill="#5b6cc0" fill-opacity="0.55"/><circle cx="187.93" cy="384.92" r="0.32" fill="#5b6cc0" fill-opacity="0.55"/><circle cx="209.85" cy="403.90" r="0.32" fill="#5b6cc0" fill-opacity="0.55"/><circle cx="166.76" cy="400.48" r="0.32" fill="#5b6cc0" fill-opacity="0.55"/><circle cx="209.61" cy="402.62" r="0.32" fill="#5b6cc0" fill-opacity="0.55"/><circle cx="196.26" cy="365.18" r="0.32" fill="#5b6cc0" fill-opacity="0.55"/><circle cx="211.81" cy="398.82" r="0.32" fill="#5b6cc0" fill-opacity="0.55"/><circle cx="202.53" cy="405.56" r="0.32" fill="#5b6cc0" fill-opacity="0.55"/><circle cx="183.72" cy="353.27" r="0.32" fill="#5b6cc0" fill-opacity="0.55"/><circle cx="195.24" cy="398.22" r="0.32" fill="#5b6cc0" fill-opacity="0.55"/><circle cx="175.56" cy="395.24" r="0.32" fill="#5b6cc0" fill-opacity="0.55"/><circle cx="216.30" cy="362.67" r="0.32" fill="#5b6cc0" fill-opacity="0.55"/><circle cx="198.20" cy="390.66" r="0.32" fill="#5b6cc0" fill-opacity="0.55"/><circle cx="190.32" cy="360.94" r="0.32" fill="#5b6cc0" fill-opacity="0.55"/><circle cx="178.59" cy="395.30" r="0.32" fill="#5b6cc0" fill-opacity="0.55"/><circle cx="208.50" cy="376.91" r="0.32" fill="#5b6cc0" fill-opacity="0.55"/><circle cx="169.28" cy="398.79" r="0.32" fill="#5b6cc0" fill-opacity="0.55"/><circle cx="207.41" cy="362.59" r="0.32" fill="#5b6cc0" fill-opacity="0.55"/><circle cx="196.68" cy="404.50" r="0.32" fill="#5b6cc0" fill-opacity="0.55"/><circle cx="213.70" cy="380.83" r="0.32" fill="#5b6cc0" fill-opacity="0.55"/><circle cx="190.95" cy="385.09" r="0.32" fill="#5b6cc0" fill-opacity="0.55"/><circle cx="174.94" cy="360.04" r="0.32" fill="#5b6cc0" fill-opacity="0.55"/><circle cx="174.46" cy="392.14" r="0.32" fill="#5b6cc0" fill-opacity="0.55"/><circle cx="184.61" cy="383.52" r="0.32" fill="#5b6cc0" fill-opacity="0.55"/><circle cx="186.82" cy="380.54" r="0.32" fill="#5b6cc0" fill-opacity="0.55"/><circle cx="172.70" cy="350.71" r="0.32" fill="#5b6cc0" fill-opacity="0.55"/><circle cx="219.94" cy="371.50" r="0.32" fill="#5b6cc0" fill-opacity="0.55"/><circle cx="170.31" cy="387.83" r="0.32" fill="#5b6cc0" fill-opacity="0.55"/><circle cx="208.26" cy="357.75" r="0.32" fill="#5b6cc0" fill-opacity="0.55"/><circle cx="197.66" cy="369.66" r="0.32" fill="#5b6cc0" fill-opacity="0.55"/><circle cx="193.33" cy="349.20" r="0.32" fill="#5b6cc0" fill-opacity="0.55"/><circle cx="166.27" cy="410.39" r="0.32" fill="#5b6cc0" fill-opacity="0.55"/><circle cx="212.64" cy="378.59" r="0.32" fill="#5b6cc0" fill-opacity="0.55"/><circle cx="195.99" cy="364.41" r="0.32" fill="#5b6cc0" fill-opacity="0.55"/><circle cx="207.80" cy="374.78" r="0.32" fill="#5b6cc0" fill-opacity="0.55"/><circle cx="217.12" cy="396.31" r="0.32" fill="#5b6cc0" fill-opacity="0.55"/><circle cx="210.01" cy="408.69" r="0.32" fill="#5b6cc0" fill-opacity="0.55"/><circle cx="178.55" cy="350.29" r="0.32" fill="#5b6cc0" fill-opacity="0.55"/><circle cx="175.60" cy="359.30" r="0.32" fill="#5b6cc0" fill-opacity="0.55"/><circle cx="169.06" cy="351.12" r="0.32" fill="#5b6cc0" fill-opacity="0.55"/><circle cx="195.45" cy="402.84" r="0.32" fill="#5b6cc0" fill-opacity="0.55"/><circle cx="189.93" cy="407.67" r="0.32" fill="#5b6cc0" fill-opacity="0.55"/><circle cx="215.08" cy="351.95" r="0.32" fill="#5b6cc0" fill-opacity="0.55"/><circle cx="197.71" cy="372.98" r="0.32" fill="#5b6cc0" fill-opacity="0.55"/><circle cx="171.08" cy="408.43" r="0.32" fill="#5b6cc0" fill-opacity="0.55"/><circle cx="178.73" cy="383.52" r="0.32" fill="#5b6cc0" fill-opacity="0.55"/><circle cx="200.08" cy="408.25" r="0.32" fill="#5b6cc0" fill-opacity="0.55"/><circle cx="201.70" cy="372.71" r="0.32" fill="#5b6cc0" fill-opacity="0.55"/><circle cx="189.37" cy="357.98" r="0.32" fill="#5b6cc0" fill-opacity="0.55"/><circle cx="218.19" cy="410.48" r="0.32" fill="#5b6cc0" fill-opacity="0.55"/><circle cx="176.75" cy="350.34" r="0.32" fill="#5b6cc0" fill-opacity="0.55"/><circle cx="178.65" cy="370.11" r="0.32" fill="#5b6cc0" fill-opacity="0.55"/><circle cx="214.68" cy="404.98" r="0.32" fill="#5b6cc0" fill-opacity="0.55"/><circle cx="211.03" cy="350.87" r="0.32" fill="#5b6cc0" fill-opacity="0.55"/><circle cx="208.20" cy="392.68" r="0.32" fill="#5b6cc0" fill-opacity="0.55"/><circle cx="200.42" cy="410.08" r="0.32" fill="#5b6cc0" fill-opacity="0.55"/><circle cx="167.51" cy="357.04" r="0.32" fill="#5b6cc0" fill-opacity="0.55"/><circle cx="206.45" cy="407.17" r="0.32" fill="#5b6cc0" fill-opacity="0.55"/><circle cx="202.10" cy="366.75" r="0.32" fill="#5b6cc0" fill-opacity="0.55"/><circle cx="197.34" cy="395.72" r="0.32" fill="#5b6cc0" fill-opacity="0.55"/><circle cx="170.27" cy="368.34" r="0.32" fill="#5b6cc0" fill-opacity="0.55"/><circle cx="178.72" cy="355.73" r="0.32" fill="#5b6cc0" fill-opacity="0.55"/><circle cx="191.21" cy="358.54" r="0.32" fill="#5b6cc0" fill-opacity="0.55"/><circle cx="177.68" cy="356.93" r="0.32" fill="#5b6cc0" fill-opacity="0.55"/><circle cx="202.14" cy="348.70" r="0.32" fill="#5b6cc0" fill-opacity="0.55"/><circle cx="204.35" cy="360.21" r="0.32" fill="#5b6cc0" fill-opacity="0.55"/><circle cx="166.41" cy="406.44" r="0.32" fill="#5b6cc0" fill-opacity="0.55"/><circle cx="176.68" cy="406.83" r="0.32" fill="#5b6cc0" fill-opacity="0.55"/><circle cx="212.68" cy="403.98" r="0.32" fill="#5b6cc0" fill-opacity="0.55"/><circle cx="172.18" cy="376.12" r="0.32" fill="#5b6cc0" fill-opacity="0.55"/><circle cx="169.80" cy="406.51" r="0.32" fill="#5b6cc0" fill-opacity="0.55"/><circle cx="211.31" cy="387.55" r="0.32" fill="#5b6cc0" fill-opacity="0.55"/><circle cx="189.59" cy="369.34" r="0.32" fill="#5b6cc0" fill-opacity="0.55"/><circle cx="210.24" cy="378.03" r="0.32" fill="#5b6cc0" fill-opacity="0.55"/><circle cx="199.39" cy="356.91" r="0.32" fill="#5b6cc0" fill-opacity="0.55"/><circle cx="176.75" cy="351.48" r="0.32" fill="#5b6cc0" fill-opacity="0.55"/><circle cx="204.15" cy="382.82" r="0.32" fill="#5b6cc0" fill-opacity="0.55"/><circle cx="172.46" cy="402.84" r="0.32" fill="#5b6cc0" fill-opacity="0.55"/><circle cx="179.24" cy="373.88" r="0.32" fill="#5b6cc0" fill-opacity="0.55"/><circle cx="173.07" cy="365.01" r="0.32" fill="#5b6cc0" fill-opacity="0.55"/><path d="M169.00,367.00 C170.55,362.67 173.68,361.30 176.70,359.00 C179.72,356.70 183.07,354.55 187.10,353.20 C191.13,351.85 196.67,350.80 200.90,350.90 C205.13,351.00 209.80,352.45 212.50,353.80 C215.20,355.15 216.72,356.60 217.10,359.00 C217.48,361.40 216.35,365.12 214.80,368.20 C213.25,371.28 210.50,375.00 207.80,377.50 C205.10,380.00 200.52,381.08 198.60,383.20 C196.68,385.32 196.48,387.70 196.30,390.20 C196.12,392.70 197.78,395.52 197.50,398.20 C197.22,400.88 196.72,404.67 194.60,406.30 C192.48,407.93 189.07,407.88 184.80,408.00 C180.53,408.12 171.90,410.83 169.00,407.00 C166.10,403.17 167.40,391.67 167.40,385.00 C167.40,378.33 167.45,371.33 169.00,367.00 Z" fill="#3750aa" stroke="#5d72c0" stroke-width="2.2"/></g></g><g clip-path="url(#c12)"><g filter="url(#bl4)"><path d="M181.30,370.00 C182.65,368.67 188.23,365.87 191.70,364.80 C195.17,363.73 199.12,363.60 202.10,363.60 C205.08,363.60 208.25,363.93 209.60,364.80 C210.95,365.67 210.88,367.27 210.20,368.80 C209.52,370.33 207.43,372.85 205.50,374.00 C203.57,375.15 200.42,374.45 198.60,375.70 C196.78,376.95 196.03,380.63 194.60,381.50 C193.17,382.37 190.97,382.15 190.00,380.90 C189.03,379.65 189.87,375.35 188.80,374.00 C187.73,372.65 184.85,373.47 183.60,372.80 C182.35,372.13 179.95,371.33 181.30,370.00 Z" fill="#2fb8e6" fill-opacity="1.0"/><path d="M184.80,369.80 C185.90,369.00 189.72,367.30 192.60,366.60 C195.48,365.90 199.53,365.63 202.10,365.60 C204.67,365.57 206.98,365.83 208.00,366.40 C209.02,366.97 208.77,367.97 208.20,369.00 C207.63,370.03 206.30,371.77 204.60,372.60 C202.90,373.43 199.73,372.87 198.00,374.00 C196.27,375.13 195.30,378.57 194.20,379.40 C193.10,380.23 192.00,379.97 191.40,379.00 C190.80,378.03 191.50,374.87 190.60,373.60 C189.70,372.33 186.97,372.03 186.00,371.40 C185.03,370.77 183.70,370.60 184.80,369.80 Z" fill="#7cc144" fill-opacity="1.0"/><ellipse cx="202.70" cy="370.80" rx="6.20" ry="3.90" transform="rotate(-10 202.70 370.80)" fill="#f5e51e" fill-opacity="1.0"/><ellipse cx="202.70" cy="370.80" rx="4.90" ry="3.00" transform="rotate(-10 202.70 370.80)" fill="#f59a23" fill-opacity="1.0"/><ellipse cx="202.70" cy="370.80" rx="3.80" ry="2.30" transform="rotate(-10 202.70 370.80)" fill="#e3201f" fill-opacity="1.0"/><ellipse cx="187.70" cy="400.20" rx="6.00" ry="6.60" transform="rotate(0 187.70 400.20)" fill="#2fb8e6" fill-opacity="1.0"/><ellipse cx="187.70" cy="400.40" rx="4.50" ry="5.00" transform="rotate(0 187.70 400.40)" fill="#7cc144" fill-opacity="1.0"/><ellipse cx="187.80" cy="401.00" rx="2.60" ry="2.60" transform="rotate(0 187.80 401.00)" fill="#f5e51e" fill-opacity="1.0"/></g></g><circle cx="279.96" cy="287.53" r="0.38" fill="#7f8fd2"/><circle cx="280.15" cy="285.30" r="0.38" fill="#7f8fd2"/><circle cx="277.21" cy="276.70" r="0.38" fill="#7f8fd2"/><circle cx="283.18" cy="277.99" r="0.38" fill="#7f8fd2"/><circle cx="282.98" cy="287.72" r="0.38" fill="#7f8fd2"/><circle cx="278.32" cy="289.00" r="0.38" fill="#7f8fd2"/><circle cx="277.37" cy="293.36" r="0.38" fill="#7f8fd2"/><circle cx="278.93" cy="288.37" r="0.38" fill="#7f8fd2"/><circle cx="274.96" cy="273.59" r="0.38" fill="#7f8fd2"/><circle cx="283.55" cy="294.15" r="0.38" fill="#7f8fd2"/><circle cx="280.35" cy="290.12" r="0.38" fill="#7f8fd2"/><circle cx="279.55" cy="292.52" r="0.38" fill="#7f8fd2"/><circle cx="278.75" cy="286.98" r="0.38" fill="#7f8fd2"/><circle cx="279.36" cy="294.18" r="0.38" fill="#7f8fd2"/><circle cx="279.64" cy="286.70" r="0.38" fill="#7f8fd2"/><circle cx="279.08" cy="293.97" r="0.38" fill="#7f8fd2"/><circle cx="280.21" cy="284.83" r="0.38" fill="#7f8fd2"/><circle cx="279.84" cy="285.55" r="0.38" fill="#7f8fd2"/><circle cx="280.19" cy="291.08" r="0.38" fill="#7f8fd2"/><circle cx="278.02" cy="292.27" r="0.38" fill="#7f8fd2"/><circle cx="280.46" cy="280.42" r="0.38" fill="#7f8fd2"/><circle cx="278.68" cy="288.62" r="0.38" fill="#7f8fd2"/><circle cx="279.75" cy="292.56" r="0.38" fill="#7f8fd2"/><circle cx="277.18" cy="287.76" r="0.38" fill="#7f8fd2"/><circle cx="278.80" cy="288.36" r="0.38" fill="#7f8fd2"/><circle cx="276.61" cy="285.24" r="0.38" fill="#7f8fd2"/><circle cx="280.00" cy="283.38" r="0.38" fill="#7f8fd2"/><circle cx="279.22" cy="291.23" r="0.38" fill="#7f8fd2"/><circle cx="278.78" cy="285.24" r="0.38" fill="#7f8fd2"/><circle cx="278.88" cy="291.41" r="0.38" fill="#7f8fd2"/><circle cx="279.67" cy="286.85" r="0.38" fill="#7f8fd2"/><circle cx="281.18" cy="279.32" r="0.38" fill="#7f8fd2"/><circle cx="278.65" cy="294.33" r="0.38" fill="#7f8fd2"/><circle cx="280.92" cy="288.92" r="0.38" fill="#7f8fd2"/><circle cx="280.09" cy="289.30" r="0.38" fill="#7f8fd2"/><circle cx="280.48" cy="278.76" r="0.38" fill="#7f8fd2"/><circle cx="278.20" cy="290.41" r="0.38" fill="#7f8fd2"/><circle cx="277.15" cy="285.64" r="0.38" fill="#7f8fd2"/><circle cx="281.42" cy="294.08" r="0.38" fill="#7f8fd2"/><circle cx="276.73" cy="290.78" r="0.38" fill="#7f8fd2"/><circle cx="281.30" cy="284.59" r="0.38" fill="#7f8fd2"/><circle cx="280.63" cy="277.93" r="0.38" fill="#7f8fd2"/><circle cx="277.64" cy="281.60" r="0.38" fill="#7f8fd2"/><circle cx="276.55" cy="284.22" r="0.38" fill="#7f8fd2"/><circle cx="282.76" cy="287.54" r="0.38" fill="#7f8fd2"/><g clip-path="url(#c13)"><g filter="url(#bl9)"><ellipse cx="279.40" cy="305.40" rx="6.60" ry="10.80" transform="rotate(0 279.40 305.40)" fill="#7f8dcc" fill-opacity="1.0"/></g></g><g clip-path="url(#c14)"><g filter="url(#bl6)"><circle cx="286.31" cy="305.28" r="0.32" fill="#5b6cc0" fill-opacity="0.55"/><circle cx="279.70" cy="306.10" r="0.32" fill="#5b6cc0" fill-opacity="0.55"/><circle cx="280.06" cy="294.38" r="0.32" fill="#5b6cc0" fill-opacity="0.55"/><circle cx="286.51" cy="299.05" r="0.32" fill="#5b6cc0" fill-opacity="0.55"/><circle cx="274.74" cy="296.26" r="0.32" fill="#5b6cc0" fill-opacity="0.55"/><circle cx="275.76" cy="312.69" r="0.32" fill="#5b6cc0" fill-opacity="0.55"/><circle cx="272.45" cy="296.12" r="0.32" fill="#5b6cc0" fill-opacity="0.55"/><circle cx="282.48" cy="298.39" r="0.32" fill="#5b6cc0" fill-opacity="0.55"/><circle cx="272.27" cy="307.69" r="0.32" fill="#5b6cc0" fill-opacity="0.55"/><circle cx="280.65" cy="305.93" r="0.32" fill="#5b6cc0" fill-opacity="0.55"/><circle cx="282.54" cy="296.27" r="0.32" fill="#5b6cc0" fill-opacity="0.55"/><circle cx="285.04" cy="310.39" r="0.32" fill="#5b6cc0" fill-opacity="0.55"/><circle cx="272.68" cy="296.73" r="0.32" fill="#5b6cc0" fill-opacity="0.55"/><circle cx="279.40" cy="305.42" r="0.32" fill="#5b6cc0" fill-opacity="0.55"/><circle cx="276.19" cy="296.71" r="0.32" fill="#5b6cc0" fill-opacity="0.55"/><circle cx="278.08" cy="297.05" r="0.32" fill="#5b6cc0" fill-opacity="0.55"/><circle cx="280.88" cy="313.71" r="0.32" fill="#5b6cc0" fill-opacity="0.55"/><circle cx="274.21" cy="307.08" r="0.32" fill="#5b6cc0" fill-opacity="0.55"/><circle cx="283.20" cy="297.68" r="0.32" fill="#5b6cc0" fill-opacity="0.55"/><circle cx="284.39" cy="315.46" r="0.32" fill="#5b6cc0" fill-opacity="0.55"/><circle cx="277.83" cy="303.57" r="0.32" fill="#5b6cc0" fill-opacity="0.55"/><circle cx="284.60" cy="305.99" r="0.32" fill="#5b6cc0" fill-opacity="0.55"/><circle cx="277.93" cy="315.55" r="0.32" fill="#5b6cc0" fill-opacity="0.55"/><circle cx="283.65" cy="301.69" r="0.32" fill="#5b6cc0" fill-opacity="0.55"/><circle cx="275.61" cy="301.61" r="0.32" fill="#5b6cc0" fill-opacity="0.55"/><circle cx="278.53" cy="316.47" r="0.32" fill="#5b6cc0" fill-opacity="0.55"/><circle cx="284.07" cy="314.89" r="0.32" fill="#5b6cc0" fill-opacity="0.55"/><circle cx="284.23" cy="313.40" r="0.32" fill="#5b6cc0" fill-opacity="0.55"/><circle cx="272.80" cy="305.80" r="0.32" fill="#5b6cc0" fill-opacity="0.55"/><circle cx="286.37" cy="315.39" r="0.32" fill="#5b6cc0" fill-opacity="0.55"/><circle cx="275.74" cy="303.61" r="0.32" fill="#5b6cc0" fill-opacity="0.55"/><circle cx="281.49" cy="302.28" r="0.32" fill="#5b6cc0" fill-opacity="0.55"/><circle cx="279.96" cy="295.49" r="0.32" fill="#5b6cc0" fill-opacity="0.55"/><circle cx="278.50" cy="305.51" r="0.32" fill="#5b6cc0" fill-opacity="0.55"/><circle cx="272.31" cy="297.11" r="0.32" fill="#5b6cc0" fill-opacity="0.55"/><circle cx="286.55" cy="311.76" r="0.32" fill="#5b6cc0" fill-opacity="0.55"/><circle cx="286.05" cy="308.46" r="0.32" fill="#5b6cc0" fill-opacity="0.55"/><circle cx="284.14" cy="314.24" r="0.32" fill="#5b6cc0" fill-opacity="0.55"/><circle cx="285.27" cy="294.69" r="0.32" fill="#5b6cc0" fill-opacity="0.55"/><circle cx="281.62" cy="300.01" r="0.32" fill="#5b6cc0" fill-opacity="0.55"/><circle cx="282.18" cy="300.19" r="0.32" fill="#5b6cc0" fill-opacity="0.55"/><circle cx="280.13" cy="315.16" r="0.32" fill="#5b6cc0" fill-opacity="0.55"/><circle cx="281.32" cy="299.66" r="0.32" fill="#5b6cc0" fill-opacity="0.55"/><circle cx="279.80" cy="303.87" r="0.32" fill="#5b6cc0" fill-opacity="0.55"/><circle cx="286.26" cy="300.51" r="0.32" fill="#5b6cc0" fill-opacity="0.55"/><circle cx="276.58" cy="308.79" r="0.32" fill="#5b6cc0" fill-opacity="0.55"/><circle cx="273.81" cy="307.57" r="0.32" fill="#5b6cc0" fill-opacity="0.55"/><circle cx="286.34" cy="305.72" r="0.32" fill="#5b6cc0" fill-opacity="0.55"/><circle cx="276.03" cy="304.63" r="0.32" fill="#5b6cc0" fill-opacity="0.55"/><circle cx="280.01" cy="297.31" r="0.32" fill="#5b6cc0" fill-opacity="0.55"/><circle cx="273.86" cy="296.92" r="0.32" fill="#5b6cc0" fill-opacity="0.55"/><circle cx="276.40" cy="303.25" r="0.32" fill="#5b6cc0" fill-opacity="0.55"/><circle cx="276.32" cy="299.50" r="0.32" fill="#5b6cc0" fill-opacity="0.55"/><circle cx="273.32" cy="306.47" r="0.32" fill="#5b6cc0" fill-opacity="0.55"/><circle cx="284.60" cy="307.93" r="0.32" fill="#5b6cc0" fill-opacity="0.55"/><circle cx="280.55" cy="308.86" r="0.32" fill="#5b6cc0" fill-opacity="0.55"/><circle cx="275.02" cy="310.24" r="0.32" fill="#5b6cc0" fill-opacity="0.55"/><circle cx="278.91" cy="306.50" r="0.32" fill="#5b6cc0" fill-opacity="0.55"/><circle cx="281.19" cy="304.69" r="0.32" fill="#5b6cc0" fill-opacity="0.55"/><circle cx="276.66" cy="299.47" r="0.32" fill="#5b6cc0" fill-opacity="0.55"/><ellipse cx="279.30" cy="305.40" rx="5.60" ry="9.60" transform="rotate(0 279.30 305.40)" fill="#3d56ad" fill-opacity="1.0"/><ellipse cx="279.20" cy="305.40" rx="4.40" ry="7.80" transform="rotate(0 279.20 305.40)" fill="#2fb8e6" fill-opacity="1.0"/><ellipse cx="279.00" cy="305.60" rx="3.40" ry="5.80" transform="rotate(0 279.00 305.60)" fill="#7cc144" fill-opacity="1.0"/><ellipse cx="278.60" cy="306.00" rx="2.00" ry="3.40" transform="rotate(0 278.60 306.00)" fill="#f5e51e" fill-opacity="1.0"/><ellipse cx="278.50" cy="306.20" rx="1.20" ry="2.10" transform="rotate(0 278.50 306.20)" fill="#f59a23" fill-opacity="1.0"/></g></g><circle cx="279.43" cy="374.78" r="0.38" fill="#7f8fd2"/><circle cx="277.03" cy="377.40" r="0.38" fill="#7f8fd2"/><circle cx="280.86" cy="384.77" r="0.38" fill="#7f8fd2"/><circle cx="279.95" cy="380.33" r="0.38" fill="#7f8fd2"/><circle cx="276.82" cy="381.75" r="0.38" fill="#7f8fd2"/><circle cx="277.71" cy="359.39" r="0.38" fill="#7f8fd2"/><circle cx="278.03" cy="370.55" r="0.38" fill="#7f8fd2"/><circle cx="279.40" cy="382.59" r="0.38" fill="#7f8fd2"/><circle cx="280.49" cy="378.39" r="0.38" fill="#7f8fd2"/><circle cx="280.83" cy="382.01" r="0.38" fill="#7f8fd2"/><circle cx="275.97" cy="379.99" r="0.38" fill="#7f8fd2"/><circle cx="280.11" cy="381.33" r="0.38" fill="#7f8fd2"/><circle cx="282.17" cy="381.67" r="0.38" fill="#7f8fd2"/><circle cx="280.02" cy="378.66" r="0.38" fill="#7f8fd2"/><circle cx="277.20" cy="374.60" r="0.38" fill="#7f8fd2"/><circle cx="276.10" cy="373.70" r="0.38" fill="#7f8fd2"/><circle cx="280.04" cy="375.60" r="0.38" fill="#7f8fd2"/><circle cx="278.77" cy="370.60" r="0.38" fill="#7f8fd2"/><circle cx="279.14" cy="375.20" r="0.38" fill="#7f8fd2"/><circle cx="279.68" cy="371.61" r="0.38" fill="#7f8fd2"/><circle cx="279.90" cy="383.00" r="0.38" fill="#7f8fd2"/><circle cx="279.13" cy="384.79" r="0.38" fill="#7f8fd2"/><circle cx="279.26" cy="373.51" r="0.38" fill="#7f8fd2"/><circle cx="273.87" cy="385.09" r="0.38" fill="#7f8fd2"/><circle cx="277.13" cy="381.31" r="0.38" fill="#7f8fd2"/><circle cx="279.85" cy="367.53" r="0.38" fill="#7f8fd2"/><circle cx="277.47" cy="379.91" r="0.38" fill="#7f8fd2"/><circle cx="276.89" cy="382.46" r="0.38" fill="#7f8fd2"/><circle cx="278.72" cy="378.01" r="0.38" fill="#7f8fd2"/><circle cx="277.03" cy="378.13" r="0.38" fill="#7f8fd2"/><circle cx="277.68" cy="380.13" r="0.38" fill="#7f8fd2"/><circle cx="279.90" cy="368.36" r="0.38" fill="#7f8fd2"/><circle cx="276.83" cy="385.37" r="0.38" fill="#7f8fd2"/><circle cx="279.68" cy="378.38" r="0.38" fill="#7f8fd2"/><circle cx="280.60" cy="376.09" r="0.38" fill="#7f8fd2"/><circle cx="278.25" cy="383.51" r="0.38" fill="#7f8fd2"/><circle cx="280.55" cy="381.57" r="0.38" fill="#7f8fd2"/><circle cx="281.11" cy="371.10" r="0.38" fill="#7f8fd2"/><circle cx="280.31" cy="383.84" r="0.38" fill="#7f8fd2"/><circle cx="275.07" cy="376.58" r="0.38" fill="#7f8fd2"/><circle cx="279.62" cy="385.21" r="0.38" fill="#7f8fd2"/><circle cx="276.85" cy="381.21" r="0.38" fill="#7f8fd2"/><circle cx="282.02" cy="377.95" r="0.38" fill="#7f8fd2"/><circle cx="272.06" cy="377.69" r="0.38" fill="#7f8fd2"/><circle cx="276.60" cy="384.21" r="0.38" fill="#7f8fd2"/><g clip-path="url(#c15)"><g filter="url(#bl9)"><ellipse cx="279.40" cy="396.40" rx="6.60" ry="10.80" transform="rotate(0 279.40 396.40)" fill="#7f8dcc" fill-opacity="1.0"/></g></g><g clip-path="url(#c16)"><g filter="url(#bl6)"><circle cx="282.28" cy="393.86" r="0.32" fill="#5b6cc0" fill-opacity="0.55"/><circle cx="277.37" cy="398.58" r="0.32" fill="#5b6cc0" fill-opacity="0.55"/><circle cx="277.27" cy="406.70" r="0.32" fill="#5b6cc0" fill-opacity="0.55"/><circle cx="282.15" cy="396.98" r="0.32" fill="#5b6cc0" fill-opacity="0.55"/><circle cx="273.48" cy="393.51" r="0.32" fill="#5b6cc0" fill-opacity="0.55"/><circle cx="278.01" cy="397.81" r="0.32" fill="#5b6cc0" fill-opacity="0.55"/><circle cx="280.61" cy="405.14" r="0.32" fill="#5b6cc0" fill-opacity="0.55"/><circle cx="286.47" cy="396.09" r="0.32" fill="#5b6cc0" fill-opacity="0.55"/><circle cx="278.60" cy="399.27" r="0.32" fill="#5b6cc0" fill-opacity="0.55"/><circle cx="286.94" cy="392.80" r="0.32" fill="#5b6cc0" fill-opacity="0.55"/><circle cx="279.95" cy="403.67" r="0.32" fill="#5b6cc0" fill-opacity="0.55"/><circle cx="274.56" cy="392.22" r="0.32" fill="#5b6cc0" fill-opacity="0.55"/><circle cx="286.68" cy="403.90" r="0.32" fill="#5b6cc0" fill-opacity="0.55"/><circle cx="279.69" cy="387.44" r="0.32" fill="#5b6cc0" fill-opacity="0.55"/><circle cx="285.42" cy="400.77" r="0.32" fill="#5b6cc0" fill-opacity="0.55"/><circle cx="284.31" cy="407.68" r="0.32" fill="#5b6cc0" fill-opacity="0.55"/><circle cx="285.32" cy="394.58" r="0.32" fill="#5b6cc0" fill-opacity="0.55"/><circle cx="274.35" cy="391.57" r="0.32" fill="#5b6cc0" fill-opacity="0.55"/><circle cx="279.67" cy="396.51" r="0.32" fill="#5b6cc0" fill-opacity="0.55"/><circle cx="274.82" cy="389.10" r="0.32" fill="#5b6cc0" fill-opacity="0.55"/><circle cx="281.45" cy="398.77" r="0.32" fill="#5b6cc0" fill-opacity="0.55"/><circle cx="277.30" cy="407.76" r="0.32" fill="#5b6cc0" fill-opacity="0.55"/><circle cx="281.55" cy="385.87" r="0.32" fill="#5b6cc0" fill-opacity="0.55"/><circle cx="278.17" cy="403.02" r="0.32" fill="#5b6cc0" fill-opacity="0.55"/><circle cx="276.60" cy="400.79" r="0.32" fill="#5b6cc0" fill-opacity="0.55"/><circle cx="272.06" cy="391.90" r="0.32" fill="#5b6cc0" fill-opacity="0.55"/><circle cx="284.63" cy="398.38" r="0.32" fill="#5b6cc0" fill-opacity="0.55"/><circle cx="282.02" cy="389.42" r="0.32" fill="#5b6cc0" fill-opacity="0.55"/><circle cx="279.47" cy="397.62" r="0.32" fill="#5b6cc0" fill-opacity="0.55"/><circle cx="275.99" cy="399.78" r="0.32" fill="#5b6cc0" fill-opacity="0.55"/><circle cx="279.97" cy="407.83" r="0.32" fill="#5b6cc0" fill-opacity="0.55"/><circle cx="280.62" cy="394.36" r="0.32" fill="#5b6cc0" fill-opacity="0.55"/><circle cx="273.82" cy="388.51" r="0.32" fill="#5b6cc0" fill-opacity="0.55"/><circle cx="283.39" cy="387.35" r="0.32" fill="#5b6cc0" fill-opacity="0.55"/><circle cx="273.50" cy="388.82" r="0.32" fill="#5b6cc0" fill-opacity="0.55"/><circle cx="279.84" cy="403.83" r="0.32" fill="#5b6cc0" fill-opacity="0.55"/><circle cx="281.20" cy="403.45" r="0.32" fill="#5b6cc0" fill-opacity="0.55"/><circle cx="272.93" cy="385.19" r="0.32" fill="#5b6cc0" fill-opacity="0.55"/><circle cx="283.56" cy="392.32" r="0.32" fill="#5b6cc0" fill-opacity="0.55"/><circle cx="282.73" cy="393.04" r="0.32" fill="#5b6cc0" fill-opacity="0.55"/><circle cx="274.54" cy="391.03" r="0.32" fill="#5b6cc0" fill-opacity="0.55"/><circle cx="273.49" cy="405.69" r="0.32" fill="#5b6cc0" fill-opacity="0.55"/><circle cx="280.73" cy="392.92" r="0.32" fill="#5b6cc0" fill-opacity="0.55"/><circle cx="278.75" cy="393.77" r="0.32" fill="#5b6cc0" fill-opacity="0.55"/><circle cx="272.82" cy="405.38" r="0.32" fill="#5b6cc0" fill-opacity="0.55"/><circle cx="280.74" cy="406.97" r="0.32" fill="#5b6cc0" fill-opacity="0.55"/><circle cx="278.59" cy="399.16" r="0.32" fill="#5b6cc0" fill-opacity="0.55"/><circle cx="275.74" cy="385.91" r="0.32" fill="#5b6cc0" fill-opacity="0.55"/><circle cx="285.96" cy="404.56" r="0.32" fill="#5b6cc0" fill-opacity="0.55"/><circle cx="276.72" cy="405.57" r="0.32" fill="#5b6cc0" fill-opacity="0.55"/><circle cx="284.24" cy="391.88" r="0.32" fill="#5b6cc0" fill-opacity="0.55"/><circle cx="281.04" cy="406.98" r="0.32" fill="#5b6cc0" fill-opacity="0.55"/><circle cx="279.43" cy="406.74" r="0.32" fill="#5b6cc0" fill-opacity="0.55"/><circle cx="275.64" cy="393.87" r="0.32" fill="#5b6cc0" fill-opacity="0.55"/><circle cx="282.78" cy="389.99" r="0.32" fill="#5b6cc0" fill-opacity="0.55"/><circle cx="276.64" cy="405.03" r="0.32" fill="#5b6cc0" fill-opacity="0.55"/><circle cx="279.27" cy="403.13" r="0.32" fill="#5b6cc0" fill-opacity="0.55"/><circle cx="275.65" cy="388.89" r="0.32" fill="#5b6cc0" fill-opacity="0.55"/><circle cx="277.38" cy="389.19" r="0.32" fill="#5b6cc0" fill-opacity="0.55"/><circle cx="286.57" cy="391.59" r="0.32" fill="#5b6cc0" fill-opacity="0.55"/><ellipse cx="279.30" cy="396.40" rx="5.60" ry="9.60" transform="rotate(0 279.30 396.40)" fill="#3d56ad" fill-opacity="1.0"/><ellipse cx="279.20" cy="396.40" rx="4.40" ry="7.80" transform="rotate(0 279.20 396.40)" fill="#2fb8e6" fill-opacity="1.0"/><ellipse cx="279.00" cy="396.60" rx="3.40" ry="5.80" transform="rotate(0 279.00 396.60)" fill="#7cc144" fill-opacity="1.0"/><ellipse cx="278.60" cy="397.00" rx="2.00" ry="3.40" transform="rotate(0 278.60 397.00)" fill="#f5e51e" fill-opacity="1.0"/><ellipse cx="278.50" cy="397.20" rx="1.20" ry="2.10" transform="rotate(0 278.50 397.20)" fill="#e3201f" fill-opacity="1.0"/></g></g><g filter="url(#bl3)"><path d="M391.90,261.00 C394.60,260.62 397.88,261.07 400.00,262.70 C402.12,264.33 404.02,267.92 404.60,270.80 C405.18,273.68 404.65,277.13 403.50,280.00 C402.35,282.87 400.40,285.12 397.70,288.00 C395.00,290.88 389.70,295.50 387.30,297.30 C384.90,299.10 384.35,300.35 383.30,298.80 C382.25,297.25 381.38,291.90 381.00,288.00 C380.62,284.10 380.53,279.23 381.00,275.40 C381.47,271.57 381.98,267.40 383.80,265.00 C385.62,262.60 389.20,261.38 391.90,261.00 Z" fill="#e4e4e4" stroke="#cdcdcd" stroke-width="0.45"/><path d="M391.76,262.54 C394.11,262.21 396.97,262.60 398.82,264.02 C400.66,265.45 402.32,268.57 402.83,271.08 C403.33,273.60 402.87,276.60 401.87,279.10 C400.87,281.60 399.17,283.56 396.81,286.07 C394.46,288.58 389.84,292.61 387.75,294.18 C385.66,295.74 385.18,296.83 384.26,295.48 C383.35,294.13 382.59,289.47 382.26,286.07 C381.93,282.67 381.85,278.43 382.26,275.09 C382.67,271.75 383.12,268.12 384.70,266.03 C386.28,263.94 389.41,262.88 391.76,262.54 Z" fill="#cfcfcf" stroke="#b5b5b5" stroke-width="0.45"/><path d="M391.62,264.09 C393.62,263.80 396.06,264.14 397.63,265.35 C399.21,266.56 400.62,269.22 401.05,271.37 C401.48,273.51 401.09,276.07 400.23,278.20 C399.38,280.33 397.93,282.00 395.93,284.14 C393.92,286.28 389.98,289.71 388.20,291.05 C386.42,292.39 386.01,293.32 385.23,292.17 C384.45,291.01 383.80,287.04 383.52,284.14 C383.24,281.25 383.17,277.63 383.52,274.78 C383.87,271.94 384.25,268.84 385.60,267.06 C386.95,265.27 389.61,264.37 391.62,264.09 Z" fill="#b9b9b9" stroke="#9c9c9c" stroke-width="0.45"/><path d="M391.48,265.63 C393.13,265.39 395.15,265.67 396.45,266.67 C397.75,267.68 398.92,269.88 399.28,271.65 C399.64,273.42 399.31,275.54 398.60,277.30 C397.89,279.06 396.70,280.44 395.04,282.21 C393.38,283.99 390.12,286.82 388.65,287.93 C387.18,289.03 386.84,289.80 386.19,288.85 C385.55,287.90 385.02,284.61 384.78,282.21 C384.54,279.82 384.49,276.83 384.78,274.47 C385.07,272.12 385.38,269.56 386.50,268.09 C387.62,266.61 389.82,265.86 391.48,265.63 Z" fill="#a2a2a2" stroke="#858585" stroke-width="0.45"/><path d="M391.33,267.17 C392.65,266.99 394.24,267.20 395.27,268.00 C396.30,268.79 397.22,270.53 397.50,271.93 C397.79,273.33 397.53,275.01 396.97,276.40 C396.41,277.79 395.46,278.89 394.15,280.29 C392.84,281.69 390.27,283.93 389.10,284.80 C387.93,285.68 387.67,286.28 387.16,285.53 C386.65,284.78 386.23,282.18 386.04,280.29 C385.85,278.39 385.81,276.03 386.04,274.17 C386.27,272.30 386.52,270.28 387.40,269.11 C388.28,267.95 390.02,267.36 391.33,267.17 Z" fill="#8b8b8b" stroke="#707070" stroke-width="0.45"/><path d="M391.19,268.71 C392.16,268.58 393.33,268.74 394.09,269.32 C394.84,269.90 395.52,271.18 395.73,272.21 C395.94,273.24 395.75,274.48 395.34,275.50 C394.93,276.52 394.23,277.33 393.26,278.36 C392.30,279.39 390.41,281.04 389.55,281.68 C388.69,282.32 388.50,282.77 388.12,282.21 C387.75,281.66 387.44,279.75 387.30,278.36 C387.16,276.96 387.13,275.23 387.30,273.86 C387.47,272.49 387.65,271.00 388.30,270.14 C388.95,269.29 390.23,268.85 391.19,268.71 Z" fill="#777777" stroke="#5e5e5e" stroke-width="0.45"/><path d="M391.05,270.26 C391.67,270.17 392.42,270.27 392.90,270.65 C393.39,271.02 393.82,271.84 393.95,272.50 C394.09,273.16 393.97,273.94 393.70,274.60 C393.44,275.26 392.99,275.77 392.38,276.43 C391.76,277.09 390.55,278.14 390.00,278.55 C389.45,278.97 389.33,279.25 389.09,278.90 C388.85,278.54 388.65,277.32 388.56,276.43 C388.47,275.54 388.45,274.42 388.56,273.55 C388.67,272.67 388.78,271.72 389.20,271.17 C389.62,270.62 390.43,270.34 391.05,270.26 Z" fill="#6a6a6a" stroke="#555555" stroke-width="0.45"/></g><polyline points="390.2,302.6 393.2,302.0 396.2,302.1 399.2,300.7 402.2,301.0 405.2,303.8" fill="none" stroke="#b5b5b5" stroke-width="0.4"/><polyline points="390.7,300.0 393.7,300.3 396.7,300.2 399.7,299.3 402.7,301.9 405.7,300.6" fill="none" stroke="#b5b5b5" stroke-width="0.4"/><polyline points="392.5,298.4 395.5,299.1 398.5,301.4 401.5,298.5 404.5,299.8 407.5,301.4" fill="none" stroke="#b5b5b5" stroke-width="0.4"/><polyline points="390.3,303.3 393.3,304.8 396.3,303.4 399.3,305.8 402.3,302.8 405.3,305.7" fill="none" stroke="#b5b5b5" stroke-width="0.4"/><polyline points="390.6,301.9 393.6,300.7 396.6,303.0 399.6,301.2 402.6,303.7 405.6,302.5" fill="none" stroke="#b5b5b5" stroke-width="0.4"/><polyline points="390.7,301.7 393.7,300.2 396.7,302.8 399.7,299.8 402.7,301.4 405.7,301.5" fill="none" stroke="#b5b5b5" stroke-width="0.4"/><polyline points="392.8,300.3 395.8,301.4 398.8,301.0 401.8,300.0 404.8,300.3 407.8,299.1" fill="none" stroke="#b5b5b5" stroke-width="0.4"/><ellipse cx="382.7" cy="303.1" rx="7.2" ry="4.6" fill="#d5d5d5" stroke="#9a9a9a" stroke-width="0.4"/><ellipse cx="382.7" cy="303.1" rx="5.0" ry="3.0" fill="#8c8c8c" stroke="#0d0d0d" stroke-width="1.6"/><ellipse cx="382.7" cy="303.1" rx="2.7" ry="1.4" fill="#2a2a2a"/><ellipse cx="382.7" cy="303.1" rx="1.3" ry="0.6" fill="#a5a5a5"/><g filter="url(#bl3)"><path d="M387.30,353.50 C389.37,353.33 392.77,354.65 394.50,356.00 C396.23,357.35 397.65,359.13 397.70,361.60 C397.75,364.07 395.77,367.73 394.80,370.80 C393.83,373.87 392.95,377.30 391.90,380.00 C390.85,382.70 390.03,386.33 388.50,387.00 C386.97,387.67 384.05,387.27 382.70,384.00 C381.35,380.73 380.50,371.90 380.40,367.40 C380.30,362.90 380.95,359.32 382.10,357.00 C383.25,354.68 385.23,353.67 387.30,353.50 Z" fill="#eeeeee" stroke="#c9c9c9" stroke-width="0.45"/><path d="M387.30,355.06 C389.06,354.92 391.95,356.04 393.42,357.19 C394.89,358.33 396.10,359.85 396.14,361.94 C396.18,364.04 394.50,367.16 393.68,369.76 C392.85,372.37 392.10,375.29 391.21,377.58 C390.32,379.88 389.62,382.97 388.32,383.53 C387.02,384.10 384.54,383.76 383.39,380.99 C382.24,378.21 381.52,370.70 381.44,366.88 C381.35,363.05 381.90,360.00 382.88,358.03 C383.86,356.07 385.54,355.20 387.30,355.06 Z" fill="#e3e3e3" stroke="#bcbcbc" stroke-width="0.45"/><path d="M387.30,356.62 C388.75,356.50 391.13,357.43 392.34,358.37 C393.55,359.31 394.54,360.56 394.58,362.29 C394.62,364.02 393.23,366.58 392.55,368.73 C391.87,370.88 391.25,373.28 390.52,375.17 C389.78,377.06 389.21,379.60 388.14,380.07 C387.07,380.54 385.02,380.26 384.08,377.97 C383.13,375.68 382.54,369.50 382.47,366.35 C382.40,363.20 382.86,360.69 383.66,359.07 C384.47,357.45 385.85,356.74 387.30,356.62 Z" fill="#d8d8d8" stroke="#afafaf" stroke-width="0.45"/><path d="M387.30,358.18 C388.44,358.09 390.31,358.81 391.26,359.56 C392.21,360.30 392.99,361.28 393.02,362.63 C393.05,363.99 391.96,366.01 391.43,367.69 C390.89,369.38 390.41,371.27 389.83,372.75 C389.25,374.24 388.80,376.24 387.96,376.61 C387.12,376.97 385.51,376.75 384.77,374.95 C384.03,373.16 383.56,368.30 383.50,365.82 C383.45,363.35 383.81,361.38 384.44,360.10 C385.07,358.83 386.16,358.27 387.30,358.18 Z" fill="#cdcdcd" stroke="#a2a2a2" stroke-width="0.45"/><path d="M387.30,359.74 C388.13,359.67 389.49,360.20 390.18,360.74 C390.87,361.28 391.44,361.99 391.46,362.98 C391.48,363.97 390.69,365.43 390.30,366.66 C389.91,367.89 389.56,369.26 389.14,370.34 C388.72,371.42 388.39,372.87 387.78,373.14 C387.17,373.41 386.00,373.25 385.46,371.94 C384.92,370.63 384.58,367.10 384.54,365.30 C384.50,363.50 384.76,362.07 385.22,361.14 C385.68,360.21 386.47,359.81 387.30,359.74 Z" fill="#c2c2c2" stroke="#959595" stroke-width="0.45"/><path d="M387.30,361.30 C387.82,361.26 388.67,361.59 389.10,361.92 C389.53,362.26 389.89,362.71 389.90,363.32 C389.91,363.94 389.42,364.86 389.18,365.62 C388.93,366.39 388.71,367.25 388.45,367.92 C388.19,368.60 387.98,369.51 387.60,369.67 C387.22,369.84 386.49,369.74 386.15,368.92 C385.81,368.11 385.60,365.90 385.57,364.77 C385.55,363.65 385.71,362.75 386.00,362.17 C386.29,361.60 386.78,361.34 387.30,361.30 Z" fill="#b8b8b8" stroke="#8a8a8a" stroke-width="0.45"/></g><polyline points="393.1,391.6 396.1,393.0 399.1,390.8 402.1,392.6 405.1,391.8 408.1,392.4" fill="none" stroke="#b5b5b5" stroke-width="0.4"/><polyline points="390.0,392.3 393.0,392.0 396.0,391.6 399.0,393.9 402.0,392.2 405.0,392.7" fill="none" stroke="#b5b5b5" stroke-width="0.4"/><polyline points="392.8,398.3 395.8,398.2 398.8,395.3 401.8,395.9 404.8,394.9 407.8,397.5" fill="none" stroke="#b5b5b5" stroke-width="0.4"/><polyline points="391.1,394.9 394.1,395.9 397.1,396.1 400.1,394.3 403.1,396.7 406.1,394.7" fill="none" stroke="#b5b5b5" stroke-width="0.4"/><polyline points="390.4,393.5 393.4,396.7 396.4,396.0 399.4,395.9 402.4,393.2 405.4,393.2" fill="none" stroke="#b5b5b5" stroke-width="0.4"/><polyline points="390.5,391.5 393.5,391.8 396.5,390.4 399.5,391.5 402.5,392.8 405.5,391.0" fill="none" stroke="#b5b5b5" stroke-width="0.4"/><polyline points="392.0,397.2 395.0,395.4 398.0,396.1 401.0,397.1 404.0,395.7 407.0,394.3" fill="none" stroke="#b5b5b5" stroke-width="0.4"/><ellipse cx="382.7" cy="395.3" rx="8.4" ry="5.6" fill="#c5c5c5" stroke="#9a9a9a" stroke-width="0.4"/><ellipse cx="382.7" cy="395.3" rx="5.0" ry="3.0" fill="#7a7a7a" stroke="#0d0d0d" stroke-width="1.6"/><ellipse cx="382.7" cy="395.3" rx="2.7" ry="1.4" fill="#2a2a2a"/><ellipse cx="382.7" cy="395.3" rx="1.3" ry="0.6" fill="#a5a5a5"/><rect x="66.40" y="263.20" width="54.90" height="13.90" fill="none" stroke="#b4b4b4" stroke-width="0.8"/><rect x="64.90" y="279.00" width="40.90" height="38.40" fill="none" stroke="#3a3a3a" stroke-width="0.9"/><rect x="105.80" y="302.90" width="26.90" height="14.70" fill="none" stroke="#3a3a3a" stroke-width="0.9"/><text x="67.40" y="260.71" font-size="7.3" text-anchor="start" fill="#231f20" textLength="40.4" lengthAdjust="spacingAndGlyphs" >Plasma cells</text><text x="115.80" y="261.79" font-size="7.8" text-anchor="start" font-weight="bold" fill="#111" >25.0</text><text x="108.80" y="312.99" font-size="7.8" text-anchor="start" font-weight="bold" fill="#111" >74.2</text><line x1="132.70" y1="302.90" x2="143.10" y2="302.90" stroke="#231f20" stroke-width="0.75" /><path d="M142.70,301.40 L145.90,302.90 L142.70,304.40 Z" fill="#231f20"/><rect x="67.20" y="355.20" width="54.70" height="14.60" fill="none" stroke="#b4b4b4" stroke-width="0.8"/><rect x="64.90" y="371.60" width="41.50" height="38.10" fill="none" stroke="#3a3a3a" stroke-width="0.9"/><rect x="106.40" y="395.30" width="26.30" height="14.60" fill="none" stroke="#3a3a3a" stroke-width="0.9"/><text x="67.40" y="354.41" font-size="7.3" text-anchor="start" fill="#231f20" textLength="40.4" lengthAdjust="spacingAndGlyphs" >Plasma cells</text><text x="115.40" y="354.99" font-size="7.8" text-anchor="start" font-weight="bold" fill="#111" >8.38</text><text x="108.30" y="405.39" font-size="7.8" text-anchor="start" font-weight="bold" fill="#111" >91.3</text><line x1="132.70" y1="395.30" x2="143.10" y2="395.30" stroke="#231f20" stroke-width="0.75" /><path d="M142.70,393.80 L145.90,395.30 L142.70,396.80 Z" fill="#231f20"/><rect x="169.20" y="300.50" width="14.40" height="14.40" fill="none" stroke="#2a2a2a" stroke-width="0.8"/><text x="200.00" y="304.09" font-size="7.8" text-anchor="start" font-weight="bold" fill="#111" >2.83</text><line x1="183.60" y1="308.30" x2="247.80" y2="308.30" stroke="#231f20" stroke-width="0.75" /><path d="M247.40,306.80 L250.60,308.30 L247.40,309.80 Z" fill="#231f20"/><rect x="169.20" y="392.50" width="14.40" height="14.70" fill="none" stroke="#2a2a2a" stroke-width="0.8"/><text x="198.60" y="395.79" font-size="7.8" text-anchor="start" font-weight="bold" fill="#111" >4.80</text><line x1="183.60" y1="399.50" x2="247.80" y2="399.50" stroke="#231f20" stroke-width="0.75" /><path d="M247.40,398.00 L250.60,399.50 L247.40,401.00 Z" fill="#231f20"/><path d="M288.9,302.80 L288.9,316.8 L270.8,316.8 L270.8,293.2 L289.4,293.2" stroke="#8a8a8a" stroke-width="0.8" fill="none" /><text x="288.00" y="300.59" font-size="7.8" text-anchor="start" font-weight="bold" fill="#111" >99.2</text><line x1="288.90" y1="307.60" x2="351.10" y2="307.60" stroke="#231f20" stroke-width="0.75" /><path d="M350.70,306.10 L353.90,307.60 L350.70,309.10 Z" fill="#231f20"/><path d="M288.9,395.30 L288.9,409.2 L270.8,409.2 L270.8,385.6 L289.4,385.6" stroke="#8a8a8a" stroke-width="0.8" fill="none" /><text x="288.00" y="393.09" font-size="7.8" text-anchor="start" font-weight="bold" fill="#111" >99.6</text><line x1="288.90" y1="399.60" x2="351.10" y2="399.60" stroke="#231f20" stroke-width="0.75" /><path d="M350.70,398.10 L353.90,399.60 L350.70,401.10 Z" fill="#231f20"/><path d="M409.2,295.0 L391.3,295.0 L391.3,255.0 L422.5,255.0 L422.5,284.6" stroke="#6d6d6d" stroke-width="0.8" fill="none" /><text x="423.60" y="262.69" font-size="7.8" text-anchor="start" fill="#231f20" textLength="17.2" lengthAdjust="spacingAndGlyphs" >MSC</text><text x="409.80" y="294.59" font-size="7.8" text-anchor="start" font-weight="bold" fill="#111" >30.2</text><path d="M409.2,387.2 L391.3,387.2 L391.3,347.1 L422.5,347.1 L422.5,376.6" stroke="#6d6d6d" stroke-width="0.8" fill="none" /><text x="423.60" y="354.69" font-size="7.8" text-anchor="start" fill="#231f20" textLength="17.2" lengthAdjust="spacingAndGlyphs" >MSC</text><text x="409.80" y="385.79" font-size="7.8" text-anchor="start" font-weight="bold" fill="#111" >1.93</text><text x="7.00" y="445.69" font-size="10.6" text-anchor="start" font-weight="bold" fill="#111" >F</text><line x1="82.50" y1="448.70" x2="82.50" y2="530.00" stroke="#414143" stroke-width="1.05" /><line x1="82.50" y1="529.50" x2="208.80" y2="529.50" stroke="#414143" stroke-width="1.05" /><line x1="79.50" y1="529.50" x2="82.50" y2="529.50" stroke="#414143" stroke-width="0.8" /><text x="77.60" y="532.11" font-size="7.3" text-anchor="end" fill="#231f20" >0</text><line x1="79.50" y1="510.50" x2="82.50" y2="510.50" stroke="#414143" stroke-width="0.8" /><text x="77.60" y="513.11" font-size="7.3" text-anchor="end" fill="#231f20" >10</text><line x1="79.50" y1="491.75" x2="82.50" y2="491.75" stroke="#414143" stroke-width="0.8" /><text x="77.60" y="494.36" font-size="7.3" text-anchor="end" fill="#231f20" >20</text><line x1="79.50" y1="473.00" x2="82.50" y2="473.00" stroke="#414143" stroke-width="0.8" /><text x="77.60" y="475.61" font-size="7.3" text-anchor="end" fill="#231f20" >30</text><line x1="79.50" y1="454.25" x2="82.50" y2="454.25" stroke="#414143" stroke-width="0.8" /><text x="77.60" y="456.86" font-size="7.3" text-anchor="end" fill="#231f20" >40</text><text x="48.16" y="491.80" font-size="8.0" text-anchor="middle" fill="#231f20" textLength="87.0" lengthAdjust="spacingAndGlyphs" transform="rotate(-90 48.16 491.80)" >Percentage of BM plasma cells</text><text x="59.16" y="491.30" font-size="8.0" text-anchor="middle" fill="#231f20" textLength="67.0" lengthAdjust="spacingAndGlyphs" transform="rotate(-90 59.16 491.30)" >(among total BM cells)</text><line x1="113.00" y1="529.50" x2="113.00" y2="531.70" stroke="#414143" stroke-width="0.8" /><text x="113.00" y="540.85" font-size="7.4" text-anchor="middle" fill="#231f20" >Control</text><line x1="178.75" y1="529.50" x2="178.75" y2="531.70" stroke="#414143" stroke-width="0.8" /><text x="178.75" y="540.85" font-size="7.4" text-anchor="middle" fill="#231f20" >C34</text><path d="M113.0,458.09999999999997 L113.0,455.9 L178.75,455.9 L178.75,458.09999999999997" stroke="#7a7a7a" stroke-width="0.75" fill="none" /><text x="145.80" y="457.35" font-size="6.0" text-anchor="middle" fill="#231f20" >*</text><path d="M107.50,465.05 L109.45,467.00 L107.50,468.95 L105.55,467.00 Z" fill="#c8132e"/><path d="M113.00,466.05 L114.95,468.00 L113.00,469.95 L111.05,468.00 Z" fill="#c8132e"/><path d="M118.00,465.55 L119.95,467.50 L118.00,469.45 L116.05,467.50 Z" fill="#c8132e"/><path d="M113.00,471.80 L114.95,473.75 L113.00,475.70 L111.05,473.75 Z" fill="#c8132e"/><path d="M115.50,481.30 L117.45,483.25 L115.50,485.20 L113.55,483.25 Z" fill="#c8132e"/><path d="M108.00,484.05 L109.95,486.00 L108.00,487.95 L106.05,486.00 Z" fill="#c8132e"/><path d="M110.75,484.55 L112.70,486.50 L110.75,488.45 L108.80,486.50 Z" fill="#c8132e"/><path d="M115.00,488.80 L116.95,490.75 L115.00,492.70 L113.05,490.75 Z" fill="#c8132e"/><path d="M115.50,493.80 L117.45,495.75 L115.50,497.70 L113.55,495.75 Z" fill="#c8132e"/><path d="M107.50,496.30 L109.45,498.25 L107.50,500.20 L105.55,498.25 Z" fill="#c8132e"/><path d="M110.75,497.55 L112.70,499.50 L110.75,501.45 L108.80,499.50 Z" fill="#c8132e"/><path d="M118.00,501.30 L119.95,503.25 L118.00,505.20 L116.05,503.25 Z" fill="#c8132e"/><path d="M115.50,503.80 L117.45,505.75 L115.50,507.70 L113.55,505.75 Z" fill="#c8132e"/><path d="M110.00,508.05 L111.95,510.00 L110.00,511.95 L108.05,510.00 Z" fill="#c8132e"/><rect x="174.90" y="471.65" width="2.7" height="2.7" fill="#124f8a"/><rect x="179.90" y="475.65" width="2.7" height="2.7" fill="#124f8a"/><rect x="177.40" y="487.40" width="2.7" height="2.7" fill="#124f8a"/><rect x="174.90" y="491.90" width="2.7" height="2.7" fill="#124f8a"/><rect x="179.90" y="493.65" width="2.7" height="2.7" fill="#124f8a"/><rect x="179.90" y="500.40" width="2.7" height="2.7" fill="#124f8a"/><rect x="174.90" y="502.65" width="2.7" height="2.7" fill="#124f8a"/><rect x="169.90" y="509.15" width="2.7" height="2.7" fill="#124f8a"/><rect x="184.90" y="509.90" width="2.7" height="2.7" fill="#124f8a"/><rect x="174.90" y="512.90" width="2.7" height="2.7" fill="#124f8a"/><rect x="179.90" y="513.90" width="2.7" height="2.7" fill="#124f8a"/><rect x="172.40" y="521.90" width="2.7" height="2.7" fill="#124f8a"/><rect x="177.40" y="524.15" width="2.7" height="2.7" fill="#124f8a"/><rect x="182.40" y="524.15" width="2.7" height="2.7" fill="#124f8a"/><line x1="92.40" y1="488.00" x2="133.60" y2="488.00" stroke="#7a7a7a" stroke-width="1.0" /><line x1="102.60" y1="484.00" x2="123.40" y2="484.00" stroke="#7a7a7a" stroke-width="1.0" /><line x1="102.60" y1="492.00" x2="123.40" y2="492.00" stroke="#7a7a7a" stroke-width="1.0" /><line x1="113.00" y1="484.00" x2="113.00" y2="492.00" stroke="#7a7a7a" stroke-width="1.0" /><line x1="158.25" y1="503.75" x2="199.25" y2="503.75" stroke="#7a7a7a" stroke-width="1.0" /><line x1="168.15" y1="499.25" x2="189.35" y2="499.25" stroke="#7a7a7a" stroke-width="1.0" /><line x1="168.15" y1="508.25" x2="189.35" y2="508.25" stroke="#7a7a7a" stroke-width="1.0" /><line x1="178.75" y1="499.25" x2="178.75" y2="508.25" stroke="#7a7a7a" stroke-width="1.0" /><text x="258.70" y="445.79" font-size="10.6" text-anchor="start" font-weight="bold" fill="#111" >G</text><line x1="315.50" y1="447.00" x2="315.50" y2="530.00" stroke="#414143" stroke-width="1.05" /><line x1="315.50" y1="529.50" x2="440.80" y2="529.50" stroke="#414143" stroke-width="1.05" /><line x1="312.50" y1="529.50" x2="315.50" y2="529.50" stroke="#414143" stroke-width="0.8" /><text x="308.40" y="532.11" font-size="7.3" text-anchor="end" fill="#231f20" >0.0</text><line x1="312.50" y1="510.25" x2="315.50" y2="510.25" stroke="#414143" stroke-width="0.8" /><text x="308.40" y="512.86" font-size="7.3" text-anchor="end" fill="#231f20" >0.1</text><line x1="312.50" y1="490.75" x2="315.50" y2="490.75" stroke="#414143" stroke-width="0.8" /><text x="308.40" y="493.36" font-size="7.3" text-anchor="end" fill="#231f20" >0.2</text><line x1="312.50" y1="471.50" x2="315.50" y2="471.50" stroke="#414143" stroke-width="0.8" /><text x="308.40" y="474.11" font-size="7.3" text-anchor="end" fill="#231f20" >0.3</text><line x1="312.50" y1="452.50" x2="315.50" y2="452.50" stroke="#414143" stroke-width="0.8" /><text x="308.40" y="455.11" font-size="7.3" text-anchor="end" fill="#231f20" >0.4</text><text x="281.16" y="490.70" font-size="8.0" text-anchor="middle" fill="#231f20" textLength="66.2" lengthAdjust="spacingAndGlyphs" transform="rotate(-90 281.16 490.70)" >Percentage of BM MSC</text><text x="292.16" y="490.80" font-size="8.0" text-anchor="middle" fill="#231f20" textLength="64.7" lengthAdjust="spacingAndGlyphs" transform="rotate(-90 292.16 490.80)" >(among total BM cells)</text><line x1="345.00" y1="529.50" x2="345.00" y2="531.70" stroke="#414143" stroke-width="0.8" /><text x="345.00" y="540.85" font-size="7.4" text-anchor="middle" fill="#231f20" >Control</text><line x1="410.75" y1="529.50" x2="410.75" y2="531.70" stroke="#414143" stroke-width="0.8" /><text x="410.75" y="540.85" font-size="7.4" text-anchor="middle" fill="#231f20" >C34</text><path d="M345.0,454.2 L345.0,452.0 L410.75,452.0 L410.75,454.2" stroke="#7a7a7a" stroke-width="0.75" fill="none" /><text x="378.00" y="452.15" font-size="6.0" text-anchor="middle" fill="#231f20" >**</text><path d="M345.00,458.55 L346.95,460.50 L345.00,462.45 L343.05,460.50 Z" fill="#c8132e"/><path d="M345.00,467.55 L346.95,469.50 L345.00,471.45 L343.05,469.50 Z" fill="#c8132e"/><path d="M342.50,471.80 L344.45,473.75 L342.50,475.70 L340.55,473.75 Z" fill="#c8132e"/><path d="M347.50,473.80 L349.45,475.75 L347.50,477.70 L345.55,475.75 Z" fill="#c8132e"/><path d="M342.50,479.30 L344.45,481.25 L342.50,483.20 L340.55,481.25 Z" fill="#c8132e"/><path d="M347.50,479.30 L349.45,481.25 L347.50,483.20 L345.55,481.25 Z" fill="#c8132e"/><path d="M342.50,487.05 L344.45,489.00 L342.50,490.95 L340.55,489.00 Z" fill="#c8132e"/><path d="M350.00,488.55 L351.95,490.50 L350.00,492.45 L348.05,490.50 Z" fill="#c8132e"/><path d="M347.50,491.05 L349.45,493.00 L347.50,494.95 L345.55,493.00 Z" fill="#c8132e"/><path d="M342.50,495.05 L344.45,497.00 L342.50,498.95 L340.55,497.00 Z" fill="#c8132e"/><path d="M345.00,506.30 L346.95,508.25 L345.00,510.20 L343.05,508.25 Z" fill="#c8132e"/><path d="M340.00,510.05 L341.95,512.00 L340.00,513.95 L338.05,512.00 Z" fill="#c8132e"/><path d="M345.00,514.30 L346.95,516.25 L345.00,518.20 L343.05,516.25 Z" fill="#c8132e"/><path d="M350.00,514.30 L351.95,516.25 L350.00,518.20 L348.05,516.25 Z" fill="#c8132e"/><rect x="409.40" y="470.40" width="2.7" height="2.7" fill="#124f8a"/><rect x="409.40" y="489.40" width="2.7" height="2.7" fill="#124f8a"/><rect x="409.40" y="497.15" width="2.7" height="2.7" fill="#124f8a"/><rect x="406.90" y="503.15" width="2.7" height="2.7" fill="#124f8a"/><rect x="411.90" y="506.90" width="2.7" height="2.7" fill="#124f8a"/><rect x="404.40" y="510.65" width="2.7" height="2.7" fill="#124f8a"/><rect x="409.40" y="514.90" width="2.7" height="2.7" fill="#124f8a"/><rect x="414.40" y="514.90" width="2.7" height="2.7" fill="#124f8a"/><rect x="406.90" y="520.65" width="2.7" height="2.7" fill="#124f8a"/><rect x="401.90" y="524.15" width="2.7" height="2.7" fill="#124f8a"/><rect x="414.40" y="522.90" width="2.7" height="2.7" fill="#124f8a"/><rect x="416.90" y="524.15" width="2.7" height="2.7" fill="#124f8a"/><rect x="411.90" y="526.65" width="2.7" height="2.7" fill="#124f8a"/><rect x="406.90" y="528.65" width="2.7" height="2.7" fill="#124f8a"/><line x1="324.40" y1="490.00" x2="365.60" y2="490.00" stroke="#7a7a7a" stroke-width="1.0" /><line x1="334.50" y1="485.50" x2="355.50" y2="485.50" stroke="#7a7a7a" stroke-width="1.0" /><line x1="334.50" y1="495.00" x2="355.50" y2="495.00" stroke="#7a7a7a" stroke-width="1.0" /><line x1="345.00" y1="485.50" x2="345.00" y2="495.00" stroke="#7a7a7a" stroke-width="1.0" /><line x1="390.35" y1="512.00" x2="431.15" y2="512.00" stroke="#7a7a7a" stroke-width="1.0" /><line x1="400.15" y1="508.00" x2="421.35" y2="508.00" stroke="#7a7a7a" stroke-width="1.0" /><line x1="400.15" y1="516.75" x2="421.35" y2="516.75" stroke="#7a7a7a" stroke-width="1.0" /><line x1="410.75" y1="508.00" x2="410.75" y2="516.75" stroke="#7a7a7a" stroke-width="1.0" /><text x="7.50" y="557.29" font-size="10.6" text-anchor="start" font-weight="bold" fill="#111" >H</text><text x="137.10" y="558.31" font-size="8.7" text-anchor="middle" fill="#231f20" textLength="66.8" lengthAdjust="spacingAndGlyphs" >Correlation curve</text><line x1="82.50" y1="558.70" x2="82.50" y2="636.75" stroke="#414143" stroke-width="1.05" /><line x1="82.50" y1="636.25" x2="191.50" y2="636.25" stroke="#414143" stroke-width="1.05" /><line x1="79.50" y1="636.25" x2="82.50" y2="636.25" stroke="#414143" stroke-width="0.8" /><text x="76.30" y="638.86" font-size="7.3" text-anchor="end" fill="#231f20" >0.0</text><line x1="79.50" y1="618.00" x2="82.50" y2="618.00" stroke="#414143" stroke-width="0.8" /><text x="76.30" y="620.61" font-size="7.3" text-anchor="end" fill="#231f20" >0.1</text><line x1="79.50" y1="600.00" x2="82.50" y2="600.00" stroke="#414143" stroke-width="0.8" /><text x="76.30" y="602.61" font-size="7.3" text-anchor="end" fill="#231f20" >0.2</text><line x1="79.50" y1="582.00" x2="82.50" y2="582.00" stroke="#414143" stroke-width="0.8" /><text x="76.30" y="584.61" font-size="7.3" text-anchor="end" fill="#231f20" >0.3</text><line x1="79.50" y1="563.75" x2="82.50" y2="563.75" stroke="#414143" stroke-width="0.8" /><text x="76.30" y="566.36" font-size="7.3" text-anchor="end" fill="#231f20" >0.4</text><line x1="82.50" y1="636.25" x2="82.50" y2="638.55" stroke="#414143" stroke-width="0.8" /><text x="82.50" y="648.21" font-size="7.3" text-anchor="middle" fill="#231f20" >0</text><line x1="110.00" y1="636.25" x2="110.00" y2="638.55" stroke="#414143" stroke-width="0.8" /><text x="110.00" y="648.21" font-size="7.3" text-anchor="middle" fill="#231f20" >10</text><line x1="137.00" y1="636.25" x2="137.00" y2="638.55" stroke="#414143" stroke-width="0.8" /><text x="137.00" y="648.21" font-size="7.3" text-anchor="middle" fill="#231f20" >20</text><line x1="164.30" y1="636.25" x2="164.30" y2="638.55" stroke="#414143" stroke-width="0.8" /><text x="164.30" y="648.21" font-size="7.3" text-anchor="middle" fill="#231f20" >30</text><line x1="191.30" y1="636.25" x2="191.30" y2="638.55" stroke="#414143" stroke-width="0.8" /><text x="191.30" y="648.21" font-size="7.3" text-anchor="middle" fill="#231f20" >40</text><text x="48.16" y="600.00" font-size="8.0" text-anchor="middle" fill="#231f20" textLength="66.2" lengthAdjust="spacingAndGlyphs" transform="rotate(-90 48.16 600.00)" >Percentage of BM MSC</text><text x="59.16" y="599.90" font-size="8.0" text-anchor="middle" fill="#231f20" textLength="65.0" lengthAdjust="spacingAndGlyphs" transform="rotate(-90 59.16 599.90)" >(among total BM cells)</text><text x="137.30" y="661.46" font-size="8.0" text-anchor="middle" fill="#231f20" textLength="87.0" lengthAdjust="spacingAndGlyphs" >Percentage of BM plasma cells</text><text x="137.00" y="671.36" font-size="8.0" text-anchor="middle" fill="#231f20" textLength="65.0" lengthAdjust="spacingAndGlyphs" >(among total BM cells)</text><line x1="90.00" y1="635.50" x2="173.30" y2="582.50" stroke="#231f20" stroke-width="1.1" /><text x="185.40" y="585.96" font-size="6.6" text-anchor="middle" font-weight="bold" fill="#231f20" textLength="10.7" lengthAdjust="spacingAndGlyphs" >****</text><circle cx="88.75" cy="632.50" r="1.45" fill="#c8132e"/><circle cx="89.25" cy="635.50" r="1.45" fill="#c8132e"/><circle cx="92.50" cy="634.25" r="1.45" fill="#c8132e"/><circle cx="103.75" cy="632.50" r="1.45" fill="#c8132e"/><circle cx="105.50" cy="631.00" r="1.45" fill="#c8132e"/><circle cx="109.50" cy="628.75" r="1.45" fill="#c8132e"/><circle cx="110.00" cy="616.25" r="1.45" fill="#c8132e"/><circle cx="111.25" cy="623.25" r="1.45" fill="#c8132e"/><circle cx="116.75" cy="619.50" r="1.45" fill="#c8132e"/><circle cx="120.00" cy="623.00" r="1.45" fill="#c8132e"/><circle cx="120.75" cy="616.25" r="1.45" fill="#c8132e"/><circle cx="123.75" cy="612.50" r="1.45" fill="#c8132e"/><circle cx="126.25" cy="605.00" r="1.45" fill="#c8132e"/><circle cx="127.50" cy="601.75" r="1.45" fill="#c8132e"/><circle cx="131.25" cy="623.25" r="1.45" fill="#c8132e"/><circle cx="133.00" cy="623.25" r="1.45" fill="#c8132e"/><circle cx="135.00" cy="619.50" r="1.45" fill="#c8132e"/><circle cx="138.00" cy="598.00" r="1.45" fill="#c8132e"/><circle cx="141.75" cy="599.50" r="1.45" fill="#c8132e"/><circle cx="144.50" cy="583.75" r="1.45" fill="#c8132e"/><circle cx="145.75" cy="585.50" r="1.45" fill="#c8132e"/><circle cx="149.50" cy="580.00" r="1.45" fill="#c8132e"/><circle cx="158.75" cy="607.00" r="1.45" fill="#c8132e"/><circle cx="164.25" cy="582.00" r="1.45" fill="#c8132e"/><circle cx="163.75" cy="590.75" r="1.45" fill="#c8132e"/><circle cx="171.75" cy="570.75" r="1.45" fill="#c8132e"/><circle cx="173.00" cy="590.75" r="1.45" fill="#c8132e"/><circle cx="171.75" cy="599.50" r="1.45" fill="#c8132e"/><text x="260.00" y="557.29" font-size="10.6" text-anchor="start" font-weight="bold" fill="#111" >I</text><text x="343.70" y="558.11" font-size="8.7" text-anchor="start" fill="#231f20" textLength="54.6" lengthAdjust="spacingAndGlyphs" >Survival curve</text><line x1="314.60" y1="561.50" x2="314.60" y2="636.60" stroke="#414143" stroke-width="1.05" /><line x1="314.60" y1="636.10" x2="427.30" y2="636.10" stroke="#414143" stroke-width="1.05" /><line x1="312.20" y1="636.10" x2="314.60" y2="636.10" stroke="#414143" stroke-width="0.8" /><text x="307.90" y="638.71" font-size="7.3" text-anchor="end" fill="#231f20" >0</text><line x1="312.20" y1="601.90" x2="314.60" y2="601.90" stroke="#414143" stroke-width="0.8" /><text x="307.90" y="604.51" font-size="7.3" text-anchor="end" fill="#231f20" >50</text><line x1="312.20" y1="567.70" x2="314.60" y2="567.70" stroke="#414143" stroke-width="0.8" /><text x="307.90" y="570.31" font-size="7.3" text-anchor="end" fill="#231f20" >100</text><line x1="314.60" y1="636.10" x2="314.60" y2="638.40" stroke="#414143" stroke-width="0.8" /><text x="314.60" y="648.21" font-size="7.3" text-anchor="middle" fill="#231f20" >0</text><line x1="352.00" y1="636.10" x2="352.00" y2="638.40" stroke="#414143" stroke-width="0.8" /><text x="352.00" y="648.21" font-size="7.3" text-anchor="middle" fill="#231f20" >20</text><line x1="389.40" y1="636.10" x2="389.40" y2="638.40" stroke="#414143" stroke-width="0.8" /><text x="389.40" y="648.21" font-size="7.3" text-anchor="middle" fill="#231f20" >40</text><line x1="427.00" y1="636.10" x2="427.00" y2="638.40" stroke="#414143" stroke-width="0.8" /><text x="427.00" y="648.21" font-size="7.3" text-anchor="middle" fill="#231f20" >60</text><text x="289.64" y="599.10" font-size="8.5" text-anchor="middle" fill="#231f20" textLength="34.8" lengthAdjust="spacingAndGlyphs" transform="rotate(-90 289.64 599.10)" >Survival (%)</text><text x="371.20" y="661.34" font-size="8.2" text-anchor="middle" fill="#231f20" textLength="33.0" lengthAdjust="spacingAndGlyphs" >Time (days)</text><path d="M314.6,568.2 L382.7,568.2 L382.7,575.0 L384,575.0 L384,581.7 L385.3,581.7 L385.3,588.4 L387.5,588.4 L387.5,595.7 L393.7,595.7 L393.7,605.1 L395.6,605.1 L395.6,609.2 L398.3,609.2 L398.3,612.7 L409,612.7" stroke="#1d5c9b" stroke-width="1.4" fill="none" /><path d="M380.8,568.2 L380.8,581.5 L382.2,581.5 L382.2,589.0 L383.5,589.0 L383.5,595.7 L388,595.7 L388,612.7 L392.9,612.7 L392.9,619.9 L395.6,619.9 L395.6,626.7 L398.3,626.7 L398.3,629.4 L406.3,629.4 L406.3,636.1" stroke="#d0202e" stroke-width="1.4" fill="none" /><line x1="425.80" y1="568.30" x2="434.40" y2="568.30" stroke="#1d5c9b" stroke-width="1.3" /><line x1="430.00" y1="567.30" x2="430.00" y2="569.30" stroke="#1d5c9b" stroke-width="0.6" /><line x1="425.80" y1="577.10" x2="434.40" y2="577.10" stroke="#d0202e" stroke-width="1.3" /><line x1="430.00" y1="576.10" x2="430.00" y2="578.10" stroke="#d0202e" stroke-width="0.6" /><text x="437.30" y="571.32" font-size="7.6" text-anchor="start" fill="#231f20" >C34</text><text x="437.30" y="579.62" font-size="7.6" text-anchor="start" fill="#231f20" textLength="23.6" lengthAdjust="spacingAndGlyphs" >Control</text><path d="M463.4,567.5 L465.0,567.5 L465.0,577.9 L463.4,577.9" stroke="#231f20" stroke-width="0.7" fill="none" /><text x="468.40" y="575.75" font-size="6.0" text-anchor="middle" font-weight="bold" fill="#231f20" >*</text><rect x="0.6" y="0.6" width="518.8" height="678.8" fill="none" stroke="#231f20" stroke-width="1.2"/></svg></body></html>
